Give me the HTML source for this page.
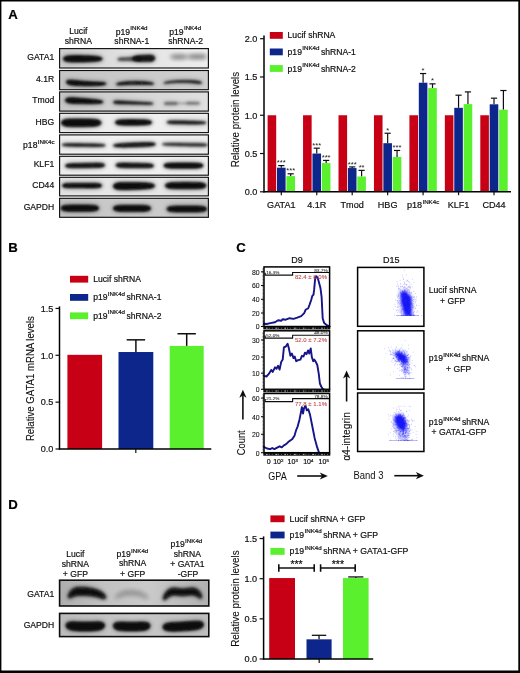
<!DOCTYPE html><html><head><meta charset="utf-8"><title>Figure</title>
<style>html,body{margin:0;padding:0;background:#fff}svg{display:block}</style></head><body>
<svg width="520" height="673" viewBox="0 0 520 673" font-family="Liberation Sans, Arial, Helvetica, sans-serif">
<defs>
<filter id="b1" filterUnits="userSpaceOnUse" x="40" y="30" width="200" height="630"><feGaussianBlur stdDeviation="1.15"/></filter>
<filter id="b2" filterUnits="userSpaceOnUse" x="40" y="30" width="200" height="630"><feGaussianBlur stdDeviation="1.9"/></filter>
<filter id="b15" filterUnits="userSpaceOnUse" x="40" y="560" width="200" height="100"><feGaussianBlur stdDeviation="1.45"/></filter>
<filter id="b3" filterUnits="userSpaceOnUse" x="0" y="0" width="520" height="673"><feGaussianBlur stdDeviation="0.6"/></filter>
<filter id="bs" filterUnits="userSpaceOnUse" x="340" y="250" width="100" height="220"><feGaussianBlur stdDeviation="1.0"/></filter>
<filter id="soft" filterUnits="userSpaceOnUse" x="-10" y="-10" width="540" height="693"><feGaussianBlur stdDeviation="0.38"/></filter>
</defs>
<rect x="-10.00" y="-10.00" width="540.00" height="693.00" fill="#fff" />
<g filter="url(#soft)">
<rect x="-10.00" y="-10.00" width="540.00" height="693.00" fill="#fff" />
<text x="8.30" y="18.80" font-size="13.2" text-anchor="start" font-weight="bold" fill="#000" stroke="#000" stroke-width="0.2" >A</text>
<text x="8.20" y="252.20" font-size="13.2" text-anchor="start" font-weight="bold" fill="#000" stroke="#000" stroke-width="0.2" >B</text>
<text x="236.20" y="252.20" font-size="13.2" text-anchor="start" font-weight="bold" fill="#000" stroke="#000" stroke-width="0.2" >C</text>
<text x="8.20" y="509.40" font-size="13.2" text-anchor="start" font-weight="bold" fill="#000" stroke="#000" stroke-width="0.2" >D</text>
<linearGradient id="g1" x1="0" x2="1" y1="0" y2="0"><stop offset="0" stop-color="#cdcdcd"/><stop offset="0.45" stop-color="#e2e2e2"/><stop offset="1" stop-color="#ececec"/></linearGradient>
<clipPath id="cg1"><rect x="59.6" y="48.6" width="148.8" height="19.4"/></clipPath>
<rect x="59.60" y="48.60" width="148.80" height="19.40" fill="url(#g1)" />
<g clip-path="url(#cg1)">
<path d="M63.2 58.80 L64.2 57.23 L65.2 56.69 L66.2 56.35 L67.2 56.11 L68.2 55.94 L69.2 55.82 L70.2 55.74 L71.2 55.68 L72.2 55.64 L73.3 55.61 L74.3 55.59 L75.3 55.58 L76.3 55.58 L77.3 55.58 L78.3 55.58 L79.3 55.59 L80.3 55.60 L81.3 55.62 L82.3 55.64 L83.3 55.66 L84.3 55.68 L85.3 55.71 L86.3 55.74 L87.3 55.77 L88.3 55.81 L89.3 55.85 L90.3 55.89 L91.3 55.94 L92.3 56.00 L93.4 56.07 L94.4 56.14 L95.4 56.24 L96.4 56.35 L97.4 56.49 L98.4 56.67 L99.4 56.90 L100.4 57.20 L101.4 57.63 L102.4 58.80 L102.4 58.80 L101.4 59.97 L100.4 60.40 L99.4 60.70 L98.4 60.93 L97.4 61.11 L96.4 61.25 L95.4 61.36 L94.4 61.46 L93.4 61.53 L92.3 61.60 L91.3 61.66 L90.3 61.71 L89.3 61.75 L88.3 61.79 L87.3 61.83 L86.3 61.86 L85.3 61.89 L84.3 61.92 L83.3 61.94 L82.3 61.96 L81.3 61.98 L80.3 62.00 L79.3 62.01 L78.3 62.02 L77.3 62.02 L76.3 62.02 L75.3 62.02 L74.3 62.01 L73.3 61.99 L72.2 61.96 L71.2 61.92 L70.2 61.86 L69.2 61.78 L68.2 61.66 L67.2 61.49 L66.2 61.25 L65.2 60.91 L64.2 60.37 L63.2 58.80Z" fill="#070707" stroke="#070707" stroke-width="2.6" stroke-linejoin="round" opacity="0.33" filter="url(#b2)"/>
<path d="M63.2 58.80 L64.2 57.23 L65.2 56.69 L66.2 56.35 L67.2 56.11 L68.2 55.94 L69.2 55.82 L70.2 55.74 L71.2 55.68 L72.2 55.64 L73.3 55.61 L74.3 55.59 L75.3 55.58 L76.3 55.58 L77.3 55.58 L78.3 55.58 L79.3 55.59 L80.3 55.60 L81.3 55.62 L82.3 55.64 L83.3 55.66 L84.3 55.68 L85.3 55.71 L86.3 55.74 L87.3 55.77 L88.3 55.81 L89.3 55.85 L90.3 55.89 L91.3 55.94 L92.3 56.00 L93.4 56.07 L94.4 56.14 L95.4 56.24 L96.4 56.35 L97.4 56.49 L98.4 56.67 L99.4 56.90 L100.4 57.20 L101.4 57.63 L102.4 58.80 L102.4 58.80 L101.4 59.97 L100.4 60.40 L99.4 60.70 L98.4 60.93 L97.4 61.11 L96.4 61.25 L95.4 61.36 L94.4 61.46 L93.4 61.53 L92.3 61.60 L91.3 61.66 L90.3 61.71 L89.3 61.75 L88.3 61.79 L87.3 61.83 L86.3 61.86 L85.3 61.89 L84.3 61.92 L83.3 61.94 L82.3 61.96 L81.3 61.98 L80.3 62.00 L79.3 62.01 L78.3 62.02 L77.3 62.02 L76.3 62.02 L75.3 62.02 L74.3 62.01 L73.3 61.99 L72.2 61.96 L71.2 61.92 L70.2 61.86 L69.2 61.78 L68.2 61.66 L67.2 61.49 L66.2 61.25 L65.2 60.91 L64.2 60.37 L63.2 58.80Z" fill="#070707" stroke="#070707" stroke-width="0.5" stroke-linejoin="round" opacity="1.00" filter="url(#b1)"/>
<path d="M117.6 59.30 L118.6 58.34 L119.6 58.03 L120.6 57.85 L121.7 57.73 L122.7 57.65 L123.7 57.59 L124.7 57.53 L125.7 57.49 L126.8 57.45 L127.8 57.41 L128.8 57.37 L129.8 57.33 L130.8 57.30 L131.8 57.27 L132.8 57.23 L133.9 57.20 L134.9 57.18 L135.9 57.16 L136.9 57.15 L137.9 57.17 L138.9 57.23 L140.0 57.37 L141.0 57.67 L142.0 58.80 L142.0 58.80 L141.0 59.97 L140.0 60.31 L138.9 60.49 L137.9 60.60 L136.9 60.66 L135.9 60.69 L134.9 60.72 L133.9 60.73 L132.8 60.74 L131.8 60.75 L130.8 60.76 L129.8 60.77 L128.8 60.77 L127.8 60.77 L126.8 60.78 L125.7 60.78 L124.7 60.77 L123.7 60.76 L122.7 60.74 L121.7 60.70 L120.6 60.62 L119.6 60.48 L118.6 60.22 L117.6 59.30Z" fill="#070707" stroke="#070707" stroke-width="2.6" stroke-linejoin="round" opacity="0.20" filter="url(#b2)"/>
<path d="M117.6 59.30 L118.6 58.34 L119.6 58.03 L120.6 57.85 L121.7 57.73 L122.7 57.65 L123.7 57.59 L124.7 57.53 L125.7 57.49 L126.8 57.45 L127.8 57.41 L128.8 57.37 L129.8 57.33 L130.8 57.30 L131.8 57.27 L132.8 57.23 L133.9 57.20 L134.9 57.18 L135.9 57.16 L136.9 57.15 L137.9 57.17 L138.9 57.23 L140.0 57.37 L141.0 57.67 L142.0 58.80 L142.0 58.80 L141.0 59.97 L140.0 60.31 L138.9 60.49 L137.9 60.60 L136.9 60.66 L135.9 60.69 L134.9 60.72 L133.9 60.73 L132.8 60.74 L131.8 60.75 L130.8 60.76 L129.8 60.77 L128.8 60.77 L127.8 60.77 L126.8 60.78 L125.7 60.78 L124.7 60.77 L123.7 60.76 L122.7 60.74 L121.7 60.70 L120.6 60.62 L119.6 60.48 L118.6 60.22 L117.6 59.30Z" fill="#070707" stroke="#070707" stroke-width="0.5" stroke-linejoin="round" opacity="0.62" filter="url(#b1)"/>
<path d="M132.5 58.60 L133.5 57.12 L134.5 56.59 L135.6 56.25 L136.6 56.01 L137.6 55.83 L138.6 55.69 L139.7 55.58 L140.7 55.48 L141.7 55.39 L142.7 55.31 L143.8 55.25 L144.8 55.19 L145.8 55.14 L146.8 55.10 L147.8 55.07 L148.9 55.06 L149.9 55.08 L150.9 55.15 L151.9 55.30 L153.0 55.59 L154.0 56.16 L155.0 58.20 L155.0 58.20 L154.0 60.28 L153.0 60.89 L151.9 61.21 L150.9 61.40 L149.9 61.50 L148.9 61.55 L147.8 61.58 L146.8 61.59 L145.8 61.59 L144.8 61.58 L143.8 61.56 L142.7 61.52 L141.7 61.48 L140.7 61.43 L139.7 61.37 L138.6 61.29 L137.6 61.18 L136.6 61.04 L135.6 60.84 L134.5 60.54 L133.5 60.05 L132.5 58.60Z" fill="#070707" stroke="#070707" stroke-width="2.6" stroke-linejoin="round" opacity="0.31" filter="url(#b2)"/>
<path d="M132.5 58.60 L133.5 57.12 L134.5 56.59 L135.6 56.25 L136.6 56.01 L137.6 55.83 L138.6 55.69 L139.7 55.58 L140.7 55.48 L141.7 55.39 L142.7 55.31 L143.8 55.25 L144.8 55.19 L145.8 55.14 L146.8 55.10 L147.8 55.07 L148.9 55.06 L149.9 55.08 L150.9 55.15 L151.9 55.30 L153.0 55.59 L154.0 56.16 L155.0 58.20 L155.0 58.20 L154.0 60.28 L153.0 60.89 L151.9 61.21 L150.9 61.40 L149.9 61.50 L148.9 61.55 L147.8 61.58 L146.8 61.59 L145.8 61.59 L144.8 61.58 L143.8 61.56 L142.7 61.52 L141.7 61.48 L140.7 61.43 L139.7 61.37 L138.6 61.29 L137.6 61.18 L136.6 61.04 L135.6 60.84 L134.5 60.54 L133.5 60.05 L132.5 58.60Z" fill="#070707" stroke="#070707" stroke-width="0.5" stroke-linejoin="round" opacity="0.95" filter="url(#b1)"/>
<path d="M170.0 56.80 L171.0 56.08 L172.0 55.87 L173.0 55.74 L174.0 55.67 L175.1 55.63 L176.1 55.61 L177.1 55.60 L178.1 55.60 L179.1 55.60 L180.1 55.61 L181.1 55.61 L182.1 55.62 L183.1 55.62 L184.2 55.62 L185.2 55.63 L186.2 55.63 L187.2 55.63 L188.2 55.62 L189.2 55.62 L190.2 55.62 L191.2 55.61 L192.2 55.60 L193.3 55.60 L194.3 55.59 L195.3 55.58 L196.3 55.57 L197.3 55.56 L198.3 55.55 L199.3 55.55 L200.3 55.55 L201.3 55.57 L202.4 55.61 L203.4 55.68 L204.4 55.81 L205.4 56.04 L206.4 56.80 L206.4 56.80 L205.4 57.56 L204.4 57.79 L203.4 57.92 L202.4 57.99 L201.3 58.03 L200.3 58.05 L199.3 58.05 L198.3 58.05 L197.3 58.04 L196.3 58.03 L195.3 58.02 L194.3 58.01 L193.3 58.00 L192.2 58.00 L191.2 57.99 L190.2 57.98 L189.2 57.98 L188.2 57.97 L187.2 57.97 L186.2 57.97 L185.2 57.97 L184.2 57.98 L183.1 57.98 L182.1 57.98 L181.1 57.99 L180.1 57.99 L179.1 58.00 L178.1 58.00 L177.1 58.00 L176.1 57.99 L175.1 57.97 L174.0 57.93 L173.0 57.86 L172.0 57.73 L171.0 57.52 L170.0 56.80Z" fill="#070707" stroke="#070707" stroke-width="2.6" stroke-linejoin="round" opacity="0.09" filter="url(#b2)"/>
<path d="M170.0 56.80 L171.0 56.08 L172.0 55.87 L173.0 55.74 L174.0 55.67 L175.1 55.63 L176.1 55.61 L177.1 55.60 L178.1 55.60 L179.1 55.60 L180.1 55.61 L181.1 55.61 L182.1 55.62 L183.1 55.62 L184.2 55.62 L185.2 55.63 L186.2 55.63 L187.2 55.63 L188.2 55.62 L189.2 55.62 L190.2 55.62 L191.2 55.61 L192.2 55.60 L193.3 55.60 L194.3 55.59 L195.3 55.58 L196.3 55.57 L197.3 55.56 L198.3 55.55 L199.3 55.55 L200.3 55.55 L201.3 55.57 L202.4 55.61 L203.4 55.68 L204.4 55.81 L205.4 56.04 L206.4 56.80 L206.4 56.80 L205.4 57.56 L204.4 57.79 L203.4 57.92 L202.4 57.99 L201.3 58.03 L200.3 58.05 L199.3 58.05 L198.3 58.05 L197.3 58.04 L196.3 58.03 L195.3 58.02 L194.3 58.01 L193.3 58.00 L192.2 58.00 L191.2 57.99 L190.2 57.98 L189.2 57.98 L188.2 57.97 L187.2 57.97 L186.2 57.97 L185.2 57.97 L184.2 57.98 L183.1 57.98 L182.1 57.98 L181.1 57.99 L180.1 57.99 L179.1 58.00 L178.1 58.00 L177.1 58.00 L176.1 57.99 L175.1 57.97 L174.0 57.93 L173.0 57.86 L172.0 57.73 L171.0 57.52 L170.0 56.80Z" fill="#070707" stroke="#070707" stroke-width="0.5" stroke-linejoin="round" opacity="0.26" filter="url(#b2)"/>
<path d="M172.5 57.00 L173.5 55.92 L174.6 55.70 L175.6 55.61 L176.7 55.58 L177.7 55.56 L178.8 55.55 L179.8 55.56 L180.8 55.58 L181.9 55.61 L182.9 55.70 L184.0 55.92 L185.0 57.00 L185.0 57.00 L184.0 58.08 L182.9 58.30 L181.9 58.39 L180.8 58.42 L179.8 58.44 L178.8 58.45 L177.7 58.44 L176.7 58.42 L175.6 58.39 L174.6 58.30 L173.5 58.08 L172.5 57.00Z" fill="#070707" stroke="#070707" stroke-width="2.6" stroke-linejoin="round" opacity="0.07" filter="url(#b2)"/>
<path d="M172.5 57.00 L173.5 55.92 L174.6 55.70 L175.6 55.61 L176.7 55.58 L177.7 55.56 L178.8 55.55 L179.8 55.56 L180.8 55.58 L181.9 55.61 L182.9 55.70 L184.0 55.92 L185.0 57.00 L185.0 57.00 L184.0 58.08 L182.9 58.30 L181.9 58.39 L180.8 58.42 L179.8 58.44 L178.8 58.45 L177.7 58.44 L176.7 58.42 L175.6 58.39 L174.6 58.30 L173.5 58.08 L172.5 57.00Z" fill="#070707" stroke="#070707" stroke-width="0.5" stroke-linejoin="round" opacity="0.20" filter="url(#b2)"/>
<path d="M190.0 56.60 L191.0 55.56 L192.0 55.30 L193.0 55.18 L194.0 55.12 L195.0 55.09 L196.0 55.08 L197.0 55.07 L198.0 55.07 L199.0 55.07 L200.0 55.08 L201.0 55.09 L202.0 55.12 L203.0 55.18 L204.0 55.30 L205.0 55.56 L206.0 56.60 L206.0 56.60 L205.0 57.64 L204.0 57.90 L203.0 58.02 L202.0 58.08 L201.0 58.11 L200.0 58.12 L199.0 58.13 L198.0 58.13 L197.0 58.13 L196.0 58.12 L195.0 58.11 L194.0 58.08 L193.0 58.02 L192.0 57.90 L191.0 57.64 L190.0 56.60Z" fill="#070707" stroke="#070707" stroke-width="2.6" stroke-linejoin="round" opacity="0.07" filter="url(#b2)"/>
<path d="M190.0 56.60 L191.0 55.56 L192.0 55.30 L193.0 55.18 L194.0 55.12 L195.0 55.09 L196.0 55.08 L197.0 55.07 L198.0 55.07 L199.0 55.07 L200.0 55.08 L201.0 55.09 L202.0 55.12 L203.0 55.18 L204.0 55.30 L205.0 55.56 L206.0 56.60 L206.0 56.60 L205.0 57.64 L204.0 57.90 L203.0 58.02 L202.0 58.08 L201.0 58.11 L200.0 58.12 L199.0 58.13 L198.0 58.13 L197.0 58.13 L196.0 58.12 L195.0 58.11 L194.0 58.08 L193.0 58.02 L192.0 57.90 L191.0 57.64 L190.0 56.60Z" fill="#070707" stroke="#070707" stroke-width="0.5" stroke-linejoin="round" opacity="0.22" filter="url(#b2)"/>
</g>
<rect x="59.6" y="48.6" width="148.8" height="19.4" fill="none" stroke="#101010" stroke-width="1.15"/>
<linearGradient id="g2" x1="0" x2="1" y1="0" y2="0"><stop offset="0" stop-color="#c4c4c4"/><stop offset="0.5" stop-color="#cacaca"/><stop offset="1" stop-color="#d0d0d0"/></linearGradient>
<clipPath id="cg2"><rect x="59.6" y="70.5" width="148.8" height="19.2"/></clipPath>
<rect x="59.60" y="70.50" width="148.80" height="19.20" fill="url(#g2)" />
<g clip-path="url(#cg2)">
<path d="M66.2 82.00 L67.2 80.70 L68.2 80.37 L69.2 80.23 L70.2 80.18 L71.2 80.19 L72.2 80.23 L73.2 80.31 L74.2 80.39 L75.2 80.49 L76.2 80.60 L77.2 80.70 L78.2 80.80 L79.2 80.91 L80.2 81.01 L81.2 81.10 L82.2 81.20 L83.2 81.28 L84.2 81.37 L85.2 81.45 L86.2 81.52 L87.2 81.60 L88.2 81.66 L89.2 81.73 L90.2 81.79 L91.2 81.84 L92.2 81.89 L93.2 81.94 L94.2 81.98 L95.2 82.03 L96.2 82.06 L97.2 82.10 L98.2 82.15 L99.2 82.19 L100.2 82.24 L101.2 82.30 L102.2 82.38 L103.2 82.49 L104.2 82.64 L105.2 82.88 L106.2 83.60 L106.2 83.60 L105.2 84.40 L104.2 84.70 L103.2 84.91 L102.2 85.07 L101.2 85.20 L100.2 85.29 L99.2 85.37 L98.2 85.44 L97.2 85.49 L96.2 85.54 L95.2 85.57 L94.2 85.60 L93.2 85.62 L92.2 85.64 L91.2 85.66 L90.2 85.67 L89.2 85.68 L88.2 85.68 L87.2 85.68 L86.2 85.67 L85.2 85.67 L84.2 85.65 L83.2 85.64 L82.2 85.62 L81.2 85.60 L80.2 85.57 L79.2 85.54 L78.2 85.50 L77.2 85.46 L76.2 85.40 L75.2 85.34 L74.2 85.27 L73.2 85.18 L72.2 85.06 L71.2 84.91 L70.2 84.72 L69.2 84.46 L68.2 84.09 L67.2 83.54 L66.2 82.00Z" fill="#070707" stroke="#070707" stroke-width="2.6" stroke-linejoin="round" opacity="0.33" filter="url(#b2)"/>
<path d="M66.2 82.00 L67.2 80.70 L68.2 80.37 L69.2 80.23 L70.2 80.18 L71.2 80.19 L72.2 80.23 L73.2 80.31 L74.2 80.39 L75.2 80.49 L76.2 80.60 L77.2 80.70 L78.2 80.80 L79.2 80.91 L80.2 81.01 L81.2 81.10 L82.2 81.20 L83.2 81.28 L84.2 81.37 L85.2 81.45 L86.2 81.52 L87.2 81.60 L88.2 81.66 L89.2 81.73 L90.2 81.79 L91.2 81.84 L92.2 81.89 L93.2 81.94 L94.2 81.98 L95.2 82.03 L96.2 82.06 L97.2 82.10 L98.2 82.15 L99.2 82.19 L100.2 82.24 L101.2 82.30 L102.2 82.38 L103.2 82.49 L104.2 82.64 L105.2 82.88 L106.2 83.60 L106.2 83.60 L105.2 84.40 L104.2 84.70 L103.2 84.91 L102.2 85.07 L101.2 85.20 L100.2 85.29 L99.2 85.37 L98.2 85.44 L97.2 85.49 L96.2 85.54 L95.2 85.57 L94.2 85.60 L93.2 85.62 L92.2 85.64 L91.2 85.66 L90.2 85.67 L89.2 85.68 L88.2 85.68 L87.2 85.68 L86.2 85.67 L85.2 85.67 L84.2 85.65 L83.2 85.64 L82.2 85.62 L81.2 85.60 L80.2 85.57 L79.2 85.54 L78.2 85.50 L77.2 85.46 L76.2 85.40 L75.2 85.34 L74.2 85.27 L73.2 85.18 L72.2 85.06 L71.2 84.91 L70.2 84.72 L69.2 84.46 L68.2 84.09 L67.2 83.54 L66.2 82.00Z" fill="#070707" stroke="#070707" stroke-width="0.5" stroke-linejoin="round" opacity="1.00" filter="url(#b1)"/>
<path d="M116.2 84.20 L117.2 83.38 L118.2 83.02 L119.2 82.75 L120.3 82.53 L121.3 82.34 L122.3 82.19 L123.3 82.05 L124.3 81.93 L125.3 81.83 L126.4 81.74 L127.4 81.66 L128.4 81.60 L129.4 81.54 L130.4 81.49 L131.4 81.45 L132.5 81.41 L133.5 81.39 L134.5 81.37 L135.5 81.36 L136.5 81.36 L137.5 81.37 L138.6 81.39 L139.6 81.41 L140.6 81.44 L141.6 81.49 L142.6 81.54 L143.6 81.60 L144.7 81.67 L145.7 81.76 L146.7 81.86 L147.7 81.97 L148.7 82.11 L149.7 82.27 L150.8 82.47 L151.8 82.72 L152.8 83.05 L153.8 83.80 L153.8 83.80 L152.8 84.34 L151.8 84.47 L150.8 84.54 L149.7 84.56 L148.7 84.57 L147.7 84.56 L146.7 84.55 L145.7 84.53 L144.7 84.50 L143.6 84.48 L142.6 84.46 L141.6 84.44 L140.6 84.43 L139.6 84.42 L138.6 84.42 L137.5 84.42 L136.5 84.42 L135.5 84.43 L134.5 84.44 L133.5 84.46 L132.5 84.48 L131.4 84.51 L130.4 84.54 L129.4 84.58 L128.4 84.62 L127.4 84.66 L126.4 84.71 L125.3 84.75 L124.3 84.80 L123.3 84.85 L122.3 84.89 L121.3 84.92 L120.3 84.94 L119.2 84.93 L118.2 84.89 L117.2 84.76 L116.2 84.20Z" fill="#070707" stroke="#070707" stroke-width="2.6" stroke-linejoin="round" opacity="0.30" filter="url(#b2)"/>
<path d="M116.2 84.20 L117.2 83.38 L118.2 83.02 L119.2 82.75 L120.3 82.53 L121.3 82.34 L122.3 82.19 L123.3 82.05 L124.3 81.93 L125.3 81.83 L126.4 81.74 L127.4 81.66 L128.4 81.60 L129.4 81.54 L130.4 81.49 L131.4 81.45 L132.5 81.41 L133.5 81.39 L134.5 81.37 L135.5 81.36 L136.5 81.36 L137.5 81.37 L138.6 81.39 L139.6 81.41 L140.6 81.44 L141.6 81.49 L142.6 81.54 L143.6 81.60 L144.7 81.67 L145.7 81.76 L146.7 81.86 L147.7 81.97 L148.7 82.11 L149.7 82.27 L150.8 82.47 L151.8 82.72 L152.8 83.05 L153.8 83.80 L153.8 83.80 L152.8 84.34 L151.8 84.47 L150.8 84.54 L149.7 84.56 L148.7 84.57 L147.7 84.56 L146.7 84.55 L145.7 84.53 L144.7 84.50 L143.6 84.48 L142.6 84.46 L141.6 84.44 L140.6 84.43 L139.6 84.42 L138.6 84.42 L137.5 84.42 L136.5 84.42 L135.5 84.43 L134.5 84.44 L133.5 84.46 L132.5 84.48 L131.4 84.51 L130.4 84.54 L129.4 84.58 L128.4 84.62 L127.4 84.66 L126.4 84.71 L125.3 84.75 L124.3 84.80 L123.3 84.85 L122.3 84.89 L121.3 84.92 L120.3 84.94 L119.2 84.93 L118.2 84.89 L117.2 84.76 L116.2 84.20Z" fill="#070707" stroke="#070707" stroke-width="0.5" stroke-linejoin="round" opacity="0.92" filter="url(#b1)"/>
<path d="M163.8 83.00 L164.8 82.41 L165.8 82.12 L166.8 81.89 L167.8 81.69 L168.8 81.52 L169.8 81.37 L170.8 81.24 L171.8 81.12 L172.8 81.01 L173.8 80.91 L174.8 80.82 L175.8 80.74 L176.8 80.67 L177.8 80.61 L178.8 80.55 L179.8 80.50 L180.8 80.46 L181.8 80.43 L182.8 80.41 L183.8 80.39 L184.8 80.38 L185.8 80.37 L186.8 80.38 L187.8 80.39 L188.8 80.41 L189.8 80.44 L190.8 80.48 L191.8 80.52 L192.8 80.58 L193.8 80.65 L194.8 80.73 L195.8 80.83 L196.8 80.95 L197.8 81.10 L198.8 81.29 L199.8 81.54 L200.8 81.91 L201.8 82.80 L201.8 82.80 L200.8 83.40 L199.8 83.48 L198.8 83.47 L197.8 83.41 L196.8 83.33 L195.8 83.24 L194.8 83.14 L193.8 83.04 L192.8 82.95 L191.8 82.86 L190.8 82.77 L189.8 82.69 L188.8 82.63 L187.8 82.56 L186.8 82.51 L185.8 82.47 L184.8 82.44 L183.8 82.41 L182.8 82.40 L181.8 82.39 L180.8 82.39 L179.8 82.40 L178.8 82.42 L177.8 82.45 L176.8 82.49 L175.8 82.54 L174.8 82.59 L173.8 82.66 L172.8 82.73 L171.8 82.80 L170.8 82.88 L169.8 82.97 L168.8 83.05 L167.8 83.14 L166.8 83.21 L165.8 83.26 L164.8 83.27 L163.8 83.00Z" fill="#070707" stroke="#070707" stroke-width="2.6" stroke-linejoin="round" opacity="0.28" filter="url(#b2)"/>
<path d="M163.8 83.00 L164.8 82.41 L165.8 82.12 L166.8 81.89 L167.8 81.69 L168.8 81.52 L169.8 81.37 L170.8 81.24 L171.8 81.12 L172.8 81.01 L173.8 80.91 L174.8 80.82 L175.8 80.74 L176.8 80.67 L177.8 80.61 L178.8 80.55 L179.8 80.50 L180.8 80.46 L181.8 80.43 L182.8 80.41 L183.8 80.39 L184.8 80.38 L185.8 80.37 L186.8 80.38 L187.8 80.39 L188.8 80.41 L189.8 80.44 L190.8 80.48 L191.8 80.52 L192.8 80.58 L193.8 80.65 L194.8 80.73 L195.8 80.83 L196.8 80.95 L197.8 81.10 L198.8 81.29 L199.8 81.54 L200.8 81.91 L201.8 82.80 L201.8 82.80 L200.8 83.40 L199.8 83.48 L198.8 83.47 L197.8 83.41 L196.8 83.33 L195.8 83.24 L194.8 83.14 L193.8 83.04 L192.8 82.95 L191.8 82.86 L190.8 82.77 L189.8 82.69 L188.8 82.63 L187.8 82.56 L186.8 82.51 L185.8 82.47 L184.8 82.44 L183.8 82.41 L182.8 82.40 L181.8 82.39 L180.8 82.39 L179.8 82.40 L178.8 82.42 L177.8 82.45 L176.8 82.49 L175.8 82.54 L174.8 82.59 L173.8 82.66 L172.8 82.73 L171.8 82.80 L170.8 82.88 L169.8 82.97 L168.8 83.05 L167.8 83.14 L166.8 83.21 L165.8 83.26 L164.8 83.27 L163.8 83.00Z" fill="#070707" stroke="#070707" stroke-width="0.5" stroke-linejoin="round" opacity="0.85" filter="url(#b1)"/>
</g>
<rect x="59.6" y="70.5" width="148.8" height="19.2" fill="none" stroke="#101010" stroke-width="1.15"/>
<linearGradient id="g3" x1="0" x2="1" y1="0" y2="0"><stop offset="0" stop-color="#c7c7c7"/><stop offset="0.5" stop-color="#d4d4d4"/><stop offset="1" stop-color="#e0e0e0"/></linearGradient>
<clipPath id="cg3"><rect x="59.6" y="91.9" width="148.8" height="19.2"/></clipPath>
<rect x="59.60" y="91.90" width="148.80" height="19.20" fill="url(#g3)" />
<g clip-path="url(#cg3)">
<path d="M65.2 100.20 L66.2 98.69 L67.2 98.23 L68.2 97.98 L69.2 97.84 L70.2 97.77 L71.2 97.75 L72.2 97.75 L73.2 97.78 L74.2 97.83 L75.2 97.88 L76.2 97.95 L77.2 98.02 L78.2 98.09 L79.2 98.17 L80.2 98.25 L81.2 98.33 L82.2 98.41 L83.2 98.49 L84.2 98.57 L85.2 98.66 L86.2 98.75 L87.2 98.84 L88.2 98.93 L89.2 99.02 L90.2 99.11 L91.2 99.21 L92.2 99.31 L93.2 99.41 L94.2 99.52 L95.2 99.64 L96.2 99.77 L97.2 99.91 L98.2 100.07 L99.2 100.25 L100.2 100.47 L101.2 100.74 L102.2 101.11 L103.2 102.00 L103.2 102.00 L102.2 102.80 L101.2 103.07 L100.2 103.24 L99.2 103.37 L98.2 103.46 L97.2 103.52 L96.2 103.57 L95.2 103.60 L94.2 103.62 L93.2 103.64 L92.2 103.65 L91.2 103.65 L90.2 103.65 L89.2 103.65 L88.2 103.65 L87.2 103.65 L86.2 103.64 L85.2 103.63 L84.2 103.62 L83.2 103.61 L82.2 103.60 L81.2 103.59 L80.2 103.58 L79.2 103.56 L78.2 103.54 L77.2 103.52 L76.2 103.49 L75.2 103.46 L74.2 103.43 L73.2 103.38 L72.2 103.31 L71.2 103.22 L70.2 103.10 L69.2 102.94 L68.2 102.70 L67.2 102.36 L66.2 101.81 L65.2 100.20Z" fill="#070707" stroke="#070707" stroke-width="2.6" stroke-linejoin="round" opacity="0.33" filter="url(#b2)"/>
<path d="M65.2 100.20 L66.2 98.69 L67.2 98.23 L68.2 97.98 L69.2 97.84 L70.2 97.77 L71.2 97.75 L72.2 97.75 L73.2 97.78 L74.2 97.83 L75.2 97.88 L76.2 97.95 L77.2 98.02 L78.2 98.09 L79.2 98.17 L80.2 98.25 L81.2 98.33 L82.2 98.41 L83.2 98.49 L84.2 98.57 L85.2 98.66 L86.2 98.75 L87.2 98.84 L88.2 98.93 L89.2 99.02 L90.2 99.11 L91.2 99.21 L92.2 99.31 L93.2 99.41 L94.2 99.52 L95.2 99.64 L96.2 99.77 L97.2 99.91 L98.2 100.07 L99.2 100.25 L100.2 100.47 L101.2 100.74 L102.2 101.11 L103.2 102.00 L103.2 102.00 L102.2 102.80 L101.2 103.07 L100.2 103.24 L99.2 103.37 L98.2 103.46 L97.2 103.52 L96.2 103.57 L95.2 103.60 L94.2 103.62 L93.2 103.64 L92.2 103.65 L91.2 103.65 L90.2 103.65 L89.2 103.65 L88.2 103.65 L87.2 103.65 L86.2 103.64 L85.2 103.63 L84.2 103.62 L83.2 103.61 L82.2 103.60 L81.2 103.59 L80.2 103.58 L79.2 103.56 L78.2 103.54 L77.2 103.52 L76.2 103.49 L75.2 103.46 L74.2 103.43 L73.2 103.38 L72.2 103.31 L71.2 103.22 L70.2 103.10 L69.2 102.94 L68.2 102.70 L67.2 102.36 L66.2 101.81 L65.2 100.20Z" fill="#070707" stroke="#070707" stroke-width="0.5" stroke-linejoin="round" opacity="1.00" filter="url(#b1)"/>
<path d="M113.2 102.20 L114.2 101.27 L115.3 101.02 L116.3 100.90 L117.3 100.85 L118.3 100.84 L119.4 100.86 L120.4 100.89 L121.4 100.94 L122.4 100.99 L123.5 101.05 L124.5 101.12 L125.5 101.18 L126.5 101.24 L127.6 101.31 L128.6 101.37 L129.6 101.43 L130.6 101.49 L131.7 101.55 L132.7 101.61 L133.7 101.66 L134.7 101.72 L135.8 101.77 L136.8 101.83 L137.8 101.88 L138.8 101.93 L139.9 101.98 L140.9 102.03 L141.9 102.08 L142.9 102.13 L144.0 102.18 L145.0 102.23 L146.0 102.29 L147.0 102.35 L148.1 102.43 L149.1 102.52 L150.1 102.63 L151.1 102.78 L152.2 103.00 L153.2 103.60 L153.2 103.60 L152.2 104.13 L151.1 104.28 L150.1 104.35 L149.1 104.39 L148.1 104.41 L147.0 104.42 L146.0 104.41 L145.0 104.39 L144.0 104.38 L142.9 104.35 L141.9 104.33 L140.9 104.31 L139.9 104.29 L138.8 104.27 L137.8 104.24 L136.8 104.23 L135.8 104.21 L134.7 104.19 L133.7 104.17 L132.7 104.16 L131.7 104.14 L130.6 104.13 L129.6 104.12 L128.6 104.11 L127.6 104.10 L126.5 104.09 L125.5 104.08 L124.5 104.07 L123.5 104.06 L122.4 104.05 L121.4 104.04 L120.4 104.01 L119.4 103.97 L118.3 103.92 L117.3 103.84 L116.3 103.71 L115.3 103.52 L114.2 103.20 L113.2 102.20Z" fill="#070707" stroke="#070707" stroke-width="2.6" stroke-linejoin="round" opacity="0.28" filter="url(#b2)"/>
<path d="M113.2 102.20 L114.2 101.27 L115.3 101.02 L116.3 100.90 L117.3 100.85 L118.3 100.84 L119.4 100.86 L120.4 100.89 L121.4 100.94 L122.4 100.99 L123.5 101.05 L124.5 101.12 L125.5 101.18 L126.5 101.24 L127.6 101.31 L128.6 101.37 L129.6 101.43 L130.6 101.49 L131.7 101.55 L132.7 101.61 L133.7 101.66 L134.7 101.72 L135.8 101.77 L136.8 101.83 L137.8 101.88 L138.8 101.93 L139.9 101.98 L140.9 102.03 L141.9 102.08 L142.9 102.13 L144.0 102.18 L145.0 102.23 L146.0 102.29 L147.0 102.35 L148.1 102.43 L149.1 102.52 L150.1 102.63 L151.1 102.78 L152.2 103.00 L153.2 103.60 L153.2 103.60 L152.2 104.13 L151.1 104.28 L150.1 104.35 L149.1 104.39 L148.1 104.41 L147.0 104.42 L146.0 104.41 L145.0 104.39 L144.0 104.38 L142.9 104.35 L141.9 104.33 L140.9 104.31 L139.9 104.29 L138.8 104.27 L137.8 104.24 L136.8 104.23 L135.8 104.21 L134.7 104.19 L133.7 104.17 L132.7 104.16 L131.7 104.14 L130.6 104.13 L129.6 104.12 L128.6 104.11 L127.6 104.10 L126.5 104.09 L125.5 104.08 L124.5 104.07 L123.5 104.06 L122.4 104.05 L121.4 104.04 L120.4 104.01 L119.4 103.97 L118.3 103.92 L117.3 103.84 L116.3 103.71 L115.3 103.52 L114.2 103.20 L113.2 102.20Z" fill="#070707" stroke="#070707" stroke-width="0.5" stroke-linejoin="round" opacity="0.85" filter="url(#b1)"/>
<path d="M164.0 103.40 L165.0 103.11 L166.0 103.01 L167.0 102.96 L168.0 102.92 L169.0 102.90 L170.0 102.88 L171.0 102.87 L172.0 102.86 L173.0 102.86 L174.0 102.86 L175.0 102.86 L176.0 102.86 L177.0 102.86 L178.0 102.86 L179.0 102.86 L180.0 102.86 L181.0 102.86 L182.0 102.86 L183.0 102.86 L184.0 102.86 L185.0 102.86 L186.0 102.86 L187.0 102.86 L188.0 102.86 L189.0 102.86 L190.0 102.86 L191.0 102.86 L192.0 102.86 L193.0 102.87 L194.0 102.88 L195.0 102.90 L196.0 102.92 L197.0 102.96 L198.0 103.01 L199.0 103.11 L200.0 103.40 L200.0 103.40 L199.0 103.69 L198.0 103.79 L197.0 103.84 L196.0 103.88 L195.0 103.90 L194.0 103.92 L193.0 103.93 L192.0 103.94 L191.0 103.94 L190.0 103.94 L189.0 103.94 L188.0 103.94 L187.0 103.94 L186.0 103.94 L185.0 103.94 L184.0 103.94 L183.0 103.94 L182.0 103.95 L181.0 103.94 L180.0 103.94 L179.0 103.94 L178.0 103.94 L177.0 103.94 L176.0 103.94 L175.0 103.94 L174.0 103.94 L173.0 103.94 L172.0 103.94 L171.0 103.93 L170.0 103.92 L169.0 103.90 L168.0 103.88 L167.0 103.84 L166.0 103.79 L165.0 103.69 L164.0 103.40Z" fill="#070707" stroke="#070707" stroke-width="2.6" stroke-linejoin="round" opacity="0.07" filter="url(#b2)"/>
<path d="M164.0 103.40 L165.0 103.11 L166.0 103.01 L167.0 102.96 L168.0 102.92 L169.0 102.90 L170.0 102.88 L171.0 102.87 L172.0 102.86 L173.0 102.86 L174.0 102.86 L175.0 102.86 L176.0 102.86 L177.0 102.86 L178.0 102.86 L179.0 102.86 L180.0 102.86 L181.0 102.86 L182.0 102.86 L183.0 102.86 L184.0 102.86 L185.0 102.86 L186.0 102.86 L187.0 102.86 L188.0 102.86 L189.0 102.86 L190.0 102.86 L191.0 102.86 L192.0 102.86 L193.0 102.87 L194.0 102.88 L195.0 102.90 L196.0 102.92 L197.0 102.96 L198.0 103.01 L199.0 103.11 L200.0 103.40 L200.0 103.40 L199.0 103.69 L198.0 103.79 L197.0 103.84 L196.0 103.88 L195.0 103.90 L194.0 103.92 L193.0 103.93 L192.0 103.94 L191.0 103.94 L190.0 103.94 L189.0 103.94 L188.0 103.94 L187.0 103.94 L186.0 103.94 L185.0 103.94 L184.0 103.94 L183.0 103.94 L182.0 103.95 L181.0 103.94 L180.0 103.94 L179.0 103.94 L178.0 103.94 L177.0 103.94 L176.0 103.94 L175.0 103.94 L174.0 103.94 L173.0 103.94 L172.0 103.94 L171.0 103.93 L170.0 103.92 L169.0 103.90 L168.0 103.88 L167.0 103.84 L166.0 103.79 L165.0 103.69 L164.0 103.40Z" fill="#070707" stroke="#070707" stroke-width="0.5" stroke-linejoin="round" opacity="0.22" filter="url(#b1)"/>
<path d="M164.2 103.50 L165.2 102.54 L166.2 102.35 L167.3 102.28 L168.3 102.25 L169.3 102.24 L170.3 102.24 L171.4 102.24 L172.4 102.24 L173.4 102.25 L174.4 102.28 L175.5 102.35 L176.5 102.54 L177.5 103.50 L177.5 103.50 L176.5 104.46 L175.5 104.65 L174.4 104.72 L173.4 104.75 L172.4 104.76 L171.4 104.76 L170.3 104.76 L169.3 104.76 L168.3 104.75 L167.3 104.72 L166.2 104.65 L165.2 104.46 L164.2 103.50Z" fill="#070707" stroke="#070707" stroke-width="2.6" stroke-linejoin="round" opacity="0.12" filter="url(#b2)"/>
<path d="M164.2 103.50 L165.2 102.54 L166.2 102.35 L167.3 102.28 L168.3 102.25 L169.3 102.24 L170.3 102.24 L171.4 102.24 L172.4 102.24 L173.4 102.25 L174.4 102.28 L175.5 102.35 L176.5 102.54 L177.5 103.50 L177.5 103.50 L176.5 104.46 L175.5 104.65 L174.4 104.72 L173.4 104.75 L172.4 104.76 L171.4 104.76 L170.3 104.76 L169.3 104.76 L168.3 104.75 L167.3 104.72 L166.2 104.65 L165.2 104.46 L164.2 103.50Z" fill="#070707" stroke="#070707" stroke-width="0.5" stroke-linejoin="round" opacity="0.36" filter="url(#b1)"/>
<path d="M186.0 103.20 L187.1 102.32 L188.1 102.13 L189.2 102.07 L190.2 102.04 L191.3 102.03 L192.4 102.03 L193.4 102.03 L194.5 102.03 L195.6 102.04 L196.6 102.07 L197.7 102.13 L198.7 102.32 L199.8 103.20 L199.8 103.20 L198.7 104.08 L197.7 104.27 L196.6 104.33 L195.6 104.36 L194.5 104.37 L193.4 104.37 L192.4 104.37 L191.3 104.37 L190.2 104.36 L189.2 104.33 L188.1 104.27 L187.1 104.08 L186.0 103.20Z" fill="#070707" stroke="#070707" stroke-width="2.6" stroke-linejoin="round" opacity="0.09" filter="url(#b2)"/>
<path d="M186.0 103.20 L187.1 102.32 L188.1 102.13 L189.2 102.07 L190.2 102.04 L191.3 102.03 L192.4 102.03 L193.4 102.03 L194.5 102.03 L195.6 102.04 L196.6 102.07 L197.7 102.13 L198.7 102.32 L199.8 103.20 L199.8 103.20 L198.7 104.08 L197.7 104.27 L196.6 104.33 L195.6 104.36 L194.5 104.37 L193.4 104.37 L192.4 104.37 L191.3 104.37 L190.2 104.36 L189.2 104.33 L188.1 104.27 L187.1 104.08 L186.0 103.20Z" fill="#070707" stroke="#070707" stroke-width="0.5" stroke-linejoin="round" opacity="0.28" filter="url(#b1)"/>
</g>
<rect x="59.6" y="91.9" width="148.8" height="19.2" fill="none" stroke="#101010" stroke-width="1.15"/>
<linearGradient id="g4" x1="0" x2="1" y1="0" y2="0"><stop offset="0" stop-color="#e7e7e7"/><stop offset="0.5" stop-color="#f0f0f0"/><stop offset="1" stop-color="#ececec"/></linearGradient>
<clipPath id="cg4"><rect x="59.6" y="113.3" width="148.8" height="19.3"/></clipPath>
<rect x="59.60" y="113.30" width="148.80" height="19.30" fill="url(#g4)" />
<g clip-path="url(#cg4)">
<path d="M61.2 122.80 L62.2 120.89 L63.2 120.24 L64.2 119.83 L65.2 119.55 L66.2 119.36 L67.2 119.22 L68.2 119.12 L69.2 119.05 L70.2 119.00 L71.2 118.97 L72.2 118.94 L73.2 118.93 L74.2 118.92 L75.2 118.91 L76.2 118.91 L77.2 118.91 L78.2 118.91 L79.2 118.91 L80.2 118.92 L81.2 118.92 L82.2 118.93 L83.2 118.94 L84.2 118.95 L85.2 118.96 L86.2 118.98 L87.2 119.00 L88.2 119.01 L89.2 119.04 L90.2 119.07 L91.2 119.10 L92.2 119.15 L93.2 119.21 L94.2 119.29 L95.2 119.39 L96.2 119.54 L97.2 119.74 L98.2 120.01 L99.2 120.41 L100.2 121.02 L101.2 122.80 L101.2 122.80 L100.2 124.58 L99.2 125.19 L98.2 125.59 L97.2 125.86 L96.2 126.06 L95.2 126.21 L94.2 126.31 L93.2 126.39 L92.2 126.45 L91.2 126.50 L90.2 126.53 L89.2 126.56 L88.2 126.59 L87.2 126.60 L86.2 126.62 L85.2 126.64 L84.2 126.65 L83.2 126.66 L82.2 126.67 L81.2 126.67 L80.2 126.68 L79.2 126.69 L78.2 126.69 L77.2 126.69 L76.2 126.69 L75.2 126.69 L74.2 126.68 L73.2 126.67 L72.2 126.66 L71.2 126.63 L70.2 126.60 L69.2 126.55 L68.2 126.48 L67.2 126.38 L66.2 126.24 L65.2 126.05 L64.2 125.77 L63.2 125.36 L62.2 124.71 L61.2 122.80Z" fill="#070707" stroke="#070707" stroke-width="2.6" stroke-linejoin="round" opacity="0.33" filter="url(#b2)"/>
<path d="M61.2 122.80 L62.2 120.89 L63.2 120.24 L64.2 119.83 L65.2 119.55 L66.2 119.36 L67.2 119.22 L68.2 119.12 L69.2 119.05 L70.2 119.00 L71.2 118.97 L72.2 118.94 L73.2 118.93 L74.2 118.92 L75.2 118.91 L76.2 118.91 L77.2 118.91 L78.2 118.91 L79.2 118.91 L80.2 118.92 L81.2 118.92 L82.2 118.93 L83.2 118.94 L84.2 118.95 L85.2 118.96 L86.2 118.98 L87.2 119.00 L88.2 119.01 L89.2 119.04 L90.2 119.07 L91.2 119.10 L92.2 119.15 L93.2 119.21 L94.2 119.29 L95.2 119.39 L96.2 119.54 L97.2 119.74 L98.2 120.01 L99.2 120.41 L100.2 121.02 L101.2 122.80 L101.2 122.80 L100.2 124.58 L99.2 125.19 L98.2 125.59 L97.2 125.86 L96.2 126.06 L95.2 126.21 L94.2 126.31 L93.2 126.39 L92.2 126.45 L91.2 126.50 L90.2 126.53 L89.2 126.56 L88.2 126.59 L87.2 126.60 L86.2 126.62 L85.2 126.64 L84.2 126.65 L83.2 126.66 L82.2 126.67 L81.2 126.67 L80.2 126.68 L79.2 126.69 L78.2 126.69 L77.2 126.69 L76.2 126.69 L75.2 126.69 L74.2 126.68 L73.2 126.67 L72.2 126.66 L71.2 126.63 L70.2 126.60 L69.2 126.55 L68.2 126.48 L67.2 126.38 L66.2 126.24 L65.2 126.05 L64.2 125.77 L63.2 125.36 L62.2 124.71 L61.2 122.80Z" fill="#070707" stroke="#070707" stroke-width="0.5" stroke-linejoin="round" opacity="1.00" filter="url(#b1)"/>
<path d="M115.2 122.40 L116.2 121.02 L117.2 120.56 L118.2 120.26 L119.3 120.06 L120.3 119.92 L121.3 119.83 L122.3 119.76 L123.3 119.71 L124.4 119.67 L125.4 119.65 L126.4 119.63 L127.4 119.62 L128.4 119.61 L129.4 119.60 L130.5 119.60 L131.5 119.60 L132.5 119.60 L133.5 119.61 L134.5 119.61 L135.5 119.62 L136.6 119.63 L137.6 119.64 L138.6 119.66 L139.6 119.68 L140.6 119.70 L141.6 119.73 L142.7 119.76 L143.7 119.81 L144.7 119.86 L145.7 119.94 L146.7 120.05 L147.7 120.19 L148.8 120.39 L149.8 120.67 L150.8 121.11 L151.8 122.40 L151.8 122.40 L150.8 123.69 L149.8 124.13 L148.8 124.41 L147.7 124.61 L146.7 124.75 L145.7 124.86 L144.7 124.94 L143.7 124.99 L142.7 125.04 L141.6 125.07 L140.6 125.10 L139.6 125.12 L138.6 125.14 L137.6 125.16 L136.6 125.17 L135.5 125.18 L134.5 125.19 L133.5 125.20 L132.5 125.20 L131.5 125.20 L130.5 125.20 L129.4 125.20 L128.4 125.19 L127.4 125.18 L126.4 125.17 L125.4 125.15 L124.4 125.13 L123.3 125.09 L122.3 125.04 L121.3 124.97 L120.3 124.88 L119.3 124.74 L118.2 124.54 L117.2 124.24 L116.2 123.78 L115.2 122.40Z" fill="#070707" stroke="#070707" stroke-width="2.6" stroke-linejoin="round" opacity="0.33" filter="url(#b2)"/>
<path d="M115.2 122.40 L116.2 121.02 L117.2 120.56 L118.2 120.26 L119.3 120.06 L120.3 119.92 L121.3 119.83 L122.3 119.76 L123.3 119.71 L124.4 119.67 L125.4 119.65 L126.4 119.63 L127.4 119.62 L128.4 119.61 L129.4 119.60 L130.5 119.60 L131.5 119.60 L132.5 119.60 L133.5 119.61 L134.5 119.61 L135.5 119.62 L136.6 119.63 L137.6 119.64 L138.6 119.66 L139.6 119.68 L140.6 119.70 L141.6 119.73 L142.7 119.76 L143.7 119.81 L144.7 119.86 L145.7 119.94 L146.7 120.05 L147.7 120.19 L148.8 120.39 L149.8 120.67 L150.8 121.11 L151.8 122.40 L151.8 122.40 L150.8 123.69 L149.8 124.13 L148.8 124.41 L147.7 124.61 L146.7 124.75 L145.7 124.86 L144.7 124.94 L143.7 124.99 L142.7 125.04 L141.6 125.07 L140.6 125.10 L139.6 125.12 L138.6 125.14 L137.6 125.16 L136.6 125.17 L135.5 125.18 L134.5 125.19 L133.5 125.20 L132.5 125.20 L131.5 125.20 L130.5 125.20 L129.4 125.20 L128.4 125.19 L127.4 125.18 L126.4 125.17 L125.4 125.15 L124.4 125.13 L123.3 125.09 L122.3 125.04 L121.3 124.97 L120.3 124.88 L119.3 124.74 L118.2 124.54 L117.2 124.24 L116.2 123.78 L115.2 122.40Z" fill="#070707" stroke="#070707" stroke-width="0.5" stroke-linejoin="round" opacity="1.00" filter="url(#b1)"/>
<path d="M166.8 122.20 L167.8 121.32 L168.8 121.05 L169.8 120.88 L170.8 120.78 L171.9 120.72 L172.9 120.68 L173.9 120.66 L174.9 120.66 L175.9 120.66 L176.9 120.67 L177.9 120.69 L178.9 120.71 L179.9 120.73 L180.9 120.75 L182.0 120.77 L183.0 120.79 L184.0 120.81 L185.0 120.84 L186.0 120.86 L187.0 120.89 L188.0 120.91 L189.0 120.94 L190.0 120.96 L191.0 120.99 L192.1 121.02 L193.1 121.05 L194.1 121.08 L195.1 121.11 L196.1 121.14 L197.1 121.18 L198.1 121.22 L199.1 121.27 L200.1 121.33 L201.1 121.41 L202.2 121.51 L203.2 121.63 L204.2 121.81 L205.2 122.07 L206.2 122.80 L206.2 122.80 L205.2 123.50 L204.2 123.73 L203.2 123.87 L202.2 123.97 L201.1 124.04 L200.1 124.08 L199.1 124.11 L198.1 124.13 L197.1 124.15 L196.1 124.15 L195.1 124.15 L194.1 124.16 L193.1 124.15 L192.1 124.15 L191.0 124.15 L190.0 124.14 L189.0 124.14 L188.0 124.13 L187.0 124.13 L186.0 124.12 L185.0 124.12 L184.0 124.11 L183.0 124.10 L182.0 124.09 L180.9 124.08 L179.9 124.07 L178.9 124.06 L177.9 124.05 L176.9 124.03 L175.9 124.01 L174.9 123.99 L173.9 123.95 L172.9 123.90 L171.9 123.83 L170.8 123.74 L169.8 123.61 L168.8 123.42 L167.8 123.11 L166.8 122.20Z" fill="#070707" stroke="#070707" stroke-width="2.6" stroke-linejoin="round" opacity="0.28" filter="url(#b2)"/>
<path d="M166.8 122.20 L167.8 121.32 L168.8 121.05 L169.8 120.88 L170.8 120.78 L171.9 120.72 L172.9 120.68 L173.9 120.66 L174.9 120.66 L175.9 120.66 L176.9 120.67 L177.9 120.69 L178.9 120.71 L179.9 120.73 L180.9 120.75 L182.0 120.77 L183.0 120.79 L184.0 120.81 L185.0 120.84 L186.0 120.86 L187.0 120.89 L188.0 120.91 L189.0 120.94 L190.0 120.96 L191.0 120.99 L192.1 121.02 L193.1 121.05 L194.1 121.08 L195.1 121.11 L196.1 121.14 L197.1 121.18 L198.1 121.22 L199.1 121.27 L200.1 121.33 L201.1 121.41 L202.2 121.51 L203.2 121.63 L204.2 121.81 L205.2 122.07 L206.2 122.80 L206.2 122.80 L205.2 123.50 L204.2 123.73 L203.2 123.87 L202.2 123.97 L201.1 124.04 L200.1 124.08 L199.1 124.11 L198.1 124.13 L197.1 124.15 L196.1 124.15 L195.1 124.15 L194.1 124.16 L193.1 124.15 L192.1 124.15 L191.0 124.15 L190.0 124.14 L189.0 124.14 L188.0 124.13 L187.0 124.13 L186.0 124.12 L185.0 124.12 L184.0 124.11 L183.0 124.10 L182.0 124.09 L180.9 124.08 L179.9 124.07 L178.9 124.06 L177.9 124.05 L176.9 124.03 L175.9 124.01 L174.9 123.99 L173.9 123.95 L172.9 123.90 L171.9 123.83 L170.8 123.74 L169.8 123.61 L168.8 123.42 L167.8 123.11 L166.8 122.20Z" fill="#070707" stroke="#070707" stroke-width="0.5" stroke-linejoin="round" opacity="0.85" filter="url(#b1)"/>
</g>
<rect x="59.6" y="113.3" width="148.8" height="19.3" fill="none" stroke="#101010" stroke-width="1.15"/>
<linearGradient id="g5" x1="0" x2="1" y1="0" y2="0"><stop offset="0" stop-color="#eeeeee"/><stop offset="0.5" stop-color="#f2f2f2"/><stop offset="1" stop-color="#eeeeee"/></linearGradient>
<clipPath id="cg5"><rect x="59.6" y="134.9" width="148.8" height="19.3"/></clipPath>
<rect x="59.60" y="134.90" width="148.80" height="19.30" fill="url(#g5)" />
<g clip-path="url(#cg5)">
<path d="M62.0 144.80 L63.0 144.13 L64.0 143.92 L65.0 143.78 L66.0 143.69 L67.0 143.63 L68.1 143.59 L69.1 143.56 L70.1 143.55 L71.1 143.54 L72.1 143.54 L73.1 143.54 L74.1 143.55 L75.1 143.55 L76.1 143.56 L77.1 143.57 L78.1 143.58 L79.2 143.60 L80.2 143.61 L81.2 143.62 L82.2 143.63 L83.2 143.65 L84.2 143.66 L85.2 143.68 L86.2 143.69 L87.2 143.71 L88.2 143.72 L89.3 143.74 L90.3 143.75 L91.3 143.77 L92.3 143.79 L93.3 143.81 L94.3 143.83 L95.3 143.86 L96.3 143.89 L97.3 143.92 L98.3 143.97 L99.3 144.02 L100.4 144.09 L101.4 144.18 L102.4 144.30 L103.4 144.46 L104.4 144.71 L105.4 145.40 L105.4 145.40 L104.4 146.07 L103.4 146.28 L102.4 146.42 L101.4 146.51 L100.4 146.57 L99.3 146.61 L98.3 146.64 L97.3 146.65 L96.3 146.66 L95.3 146.66 L94.3 146.66 L93.3 146.65 L92.3 146.65 L91.3 146.64 L90.3 146.63 L89.3 146.62 L88.2 146.60 L87.2 146.59 L86.2 146.58 L85.2 146.57 L84.2 146.55 L83.2 146.54 L82.2 146.52 L81.2 146.51 L80.2 146.49 L79.2 146.48 L78.1 146.46 L77.1 146.45 L76.1 146.43 L75.1 146.41 L74.1 146.39 L73.1 146.37 L72.1 146.34 L71.1 146.31 L70.1 146.28 L69.1 146.23 L68.1 146.18 L67.0 146.11 L66.0 146.02 L65.0 145.90 L64.0 145.74 L63.0 145.49 L62.0 144.80Z" fill="#070707" stroke="#070707" stroke-width="2.6" stroke-linejoin="round" opacity="0.28" filter="url(#b2)"/>
<path d="M62.0 144.80 L63.0 144.13 L64.0 143.92 L65.0 143.78 L66.0 143.69 L67.0 143.63 L68.1 143.59 L69.1 143.56 L70.1 143.55 L71.1 143.54 L72.1 143.54 L73.1 143.54 L74.1 143.55 L75.1 143.55 L76.1 143.56 L77.1 143.57 L78.1 143.58 L79.2 143.60 L80.2 143.61 L81.2 143.62 L82.2 143.63 L83.2 143.65 L84.2 143.66 L85.2 143.68 L86.2 143.69 L87.2 143.71 L88.2 143.72 L89.3 143.74 L90.3 143.75 L91.3 143.77 L92.3 143.79 L93.3 143.81 L94.3 143.83 L95.3 143.86 L96.3 143.89 L97.3 143.92 L98.3 143.97 L99.3 144.02 L100.4 144.09 L101.4 144.18 L102.4 144.30 L103.4 144.46 L104.4 144.71 L105.4 145.40 L105.4 145.40 L104.4 146.07 L103.4 146.28 L102.4 146.42 L101.4 146.51 L100.4 146.57 L99.3 146.61 L98.3 146.64 L97.3 146.65 L96.3 146.66 L95.3 146.66 L94.3 146.66 L93.3 146.65 L92.3 146.65 L91.3 146.64 L90.3 146.63 L89.3 146.62 L88.2 146.60 L87.2 146.59 L86.2 146.58 L85.2 146.57 L84.2 146.55 L83.2 146.54 L82.2 146.52 L81.2 146.51 L80.2 146.49 L79.2 146.48 L78.1 146.46 L77.1 146.45 L76.1 146.43 L75.1 146.41 L74.1 146.39 L73.1 146.37 L72.1 146.34 L71.1 146.31 L70.1 146.28 L69.1 146.23 L68.1 146.18 L67.0 146.11 L66.0 146.02 L65.0 145.90 L64.0 145.74 L63.0 145.49 L62.0 144.80Z" fill="#070707" stroke="#070707" stroke-width="0.5" stroke-linejoin="round" opacity="0.85" filter="url(#b1)"/>
<path d="M113.2 145.60 L114.2 144.77 L115.2 144.44 L116.2 144.21 L117.2 144.03 L118.2 143.88 L119.3 143.75 L120.3 143.64 L121.3 143.55 L122.3 143.47 L123.3 143.39 L124.3 143.33 L125.3 143.26 L126.3 143.20 L127.3 143.15 L128.3 143.10 L129.4 143.05 L130.4 143.00 L131.4 142.95 L132.4 142.91 L133.4 142.87 L134.4 142.82 L135.4 142.79 L136.4 142.75 L137.4 142.71 L138.4 142.68 L139.4 142.65 L140.5 142.62 L141.5 142.59 L142.5 142.57 L143.5 142.55 L144.5 142.53 L145.5 142.52 L146.5 142.52 L147.5 142.52 L148.5 142.54 L149.5 142.57 L150.6 142.62 L151.6 142.71 L152.6 142.83 L153.6 143.01 L154.6 143.31 L155.6 144.20 L155.6 144.20 L154.6 145.16 L153.6 145.52 L152.6 145.77 L151.6 145.96 L150.6 146.11 L149.5 146.23 L148.5 146.33 L147.5 146.41 L146.5 146.48 L145.5 146.55 L144.5 146.60 L143.5 146.65 L142.5 146.70 L141.5 146.74 L140.5 146.78 L139.4 146.82 L138.4 146.85 L137.4 146.89 L136.4 146.92 L135.4 146.95 L134.4 146.97 L133.4 147.00 L132.4 147.03 L131.4 147.05 L130.4 147.07 L129.4 147.09 L128.3 147.10 L127.3 147.12 L126.3 147.13 L125.3 147.14 L124.3 147.14 L123.3 147.14 L122.3 147.13 L121.3 147.12 L120.3 147.09 L119.3 147.05 L118.2 146.99 L117.2 146.91 L116.2 146.79 L115.2 146.62 L114.2 146.36 L113.2 145.60Z" fill="#070707" stroke="#070707" stroke-width="2.6" stroke-linejoin="round" opacity="0.30" filter="url(#b2)"/>
<path d="M113.2 145.60 L114.2 144.77 L115.2 144.44 L116.2 144.21 L117.2 144.03 L118.2 143.88 L119.3 143.75 L120.3 143.64 L121.3 143.55 L122.3 143.47 L123.3 143.39 L124.3 143.33 L125.3 143.26 L126.3 143.20 L127.3 143.15 L128.3 143.10 L129.4 143.05 L130.4 143.00 L131.4 142.95 L132.4 142.91 L133.4 142.87 L134.4 142.82 L135.4 142.79 L136.4 142.75 L137.4 142.71 L138.4 142.68 L139.4 142.65 L140.5 142.62 L141.5 142.59 L142.5 142.57 L143.5 142.55 L144.5 142.53 L145.5 142.52 L146.5 142.52 L147.5 142.52 L148.5 142.54 L149.5 142.57 L150.6 142.62 L151.6 142.71 L152.6 142.83 L153.6 143.01 L154.6 143.31 L155.6 144.20 L155.6 144.20 L154.6 145.16 L153.6 145.52 L152.6 145.77 L151.6 145.96 L150.6 146.11 L149.5 146.23 L148.5 146.33 L147.5 146.41 L146.5 146.48 L145.5 146.55 L144.5 146.60 L143.5 146.65 L142.5 146.70 L141.5 146.74 L140.5 146.78 L139.4 146.82 L138.4 146.85 L137.4 146.89 L136.4 146.92 L135.4 146.95 L134.4 146.97 L133.4 147.00 L132.4 147.03 L131.4 147.05 L130.4 147.07 L129.4 147.09 L128.3 147.10 L127.3 147.12 L126.3 147.13 L125.3 147.14 L124.3 147.14 L123.3 147.14 L122.3 147.13 L121.3 147.12 L120.3 147.09 L119.3 147.05 L118.2 146.99 L117.2 146.91 L116.2 146.79 L115.2 146.62 L114.2 146.36 L113.2 145.60Z" fill="#070707" stroke="#070707" stroke-width="0.5" stroke-linejoin="round" opacity="0.92" filter="url(#b1)"/>
<path d="M162.2 144.20 L163.2 143.60 L164.2 143.40 L165.2 143.27 L166.2 143.19 L167.2 143.14 L168.3 143.10 L169.3 143.08 L170.3 143.06 L171.3 143.05 L172.3 143.05 L173.3 143.05 L174.3 143.06 L175.3 143.07 L176.3 143.07 L177.3 143.08 L178.3 143.09 L179.4 143.10 L180.4 143.11 L181.4 143.12 L182.4 143.13 L183.4 143.14 L184.4 143.15 L185.4 143.16 L186.4 143.17 L187.4 143.18 L188.4 143.19 L189.4 143.20 L190.4 143.21 L191.5 143.22 L192.5 143.23 L193.5 143.24 L194.5 143.25 L195.5 143.27 L196.5 143.28 L197.5 143.30 L198.5 143.32 L199.5 143.35 L200.5 143.39 L201.5 143.44 L202.6 143.51 L203.6 143.60 L204.6 143.73 L205.6 143.91 L206.6 144.19 L207.6 145.00 L207.6 145.00 L206.6 145.77 L205.6 146.02 L204.6 146.16 L203.6 146.25 L202.6 146.31 L201.5 146.34 L200.5 146.36 L199.5 146.36 L198.5 146.36 L197.5 146.34 L196.5 146.33 L195.5 146.31 L194.5 146.29 L193.5 146.26 L192.5 146.24 L191.5 146.21 L190.4 146.19 L189.4 146.16 L188.4 146.14 L187.4 146.11 L186.4 146.08 L185.4 146.06 L184.4 146.03 L183.4 146.01 L182.4 145.98 L181.4 145.95 L180.4 145.93 L179.4 145.90 L178.3 145.88 L177.3 145.85 L176.3 145.82 L175.3 145.80 L174.3 145.77 L173.3 145.74 L172.3 145.70 L171.3 145.67 L170.3 145.62 L169.3 145.57 L168.3 145.51 L167.2 145.44 L166.2 145.35 L165.2 145.23 L164.2 145.07 L163.2 144.84 L162.2 144.20Z" fill="#070707" stroke="#070707" stroke-width="2.6" stroke-linejoin="round" opacity="0.25" filter="url(#b2)"/>
<path d="M162.2 144.20 L163.2 143.60 L164.2 143.40 L165.2 143.27 L166.2 143.19 L167.2 143.14 L168.3 143.10 L169.3 143.08 L170.3 143.06 L171.3 143.05 L172.3 143.05 L173.3 143.05 L174.3 143.06 L175.3 143.07 L176.3 143.07 L177.3 143.08 L178.3 143.09 L179.4 143.10 L180.4 143.11 L181.4 143.12 L182.4 143.13 L183.4 143.14 L184.4 143.15 L185.4 143.16 L186.4 143.17 L187.4 143.18 L188.4 143.19 L189.4 143.20 L190.4 143.21 L191.5 143.22 L192.5 143.23 L193.5 143.24 L194.5 143.25 L195.5 143.27 L196.5 143.28 L197.5 143.30 L198.5 143.32 L199.5 143.35 L200.5 143.39 L201.5 143.44 L202.6 143.51 L203.6 143.60 L204.6 143.73 L205.6 143.91 L206.6 144.19 L207.6 145.00 L207.6 145.00 L206.6 145.77 L205.6 146.02 L204.6 146.16 L203.6 146.25 L202.6 146.31 L201.5 146.34 L200.5 146.36 L199.5 146.36 L198.5 146.36 L197.5 146.34 L196.5 146.33 L195.5 146.31 L194.5 146.29 L193.5 146.26 L192.5 146.24 L191.5 146.21 L190.4 146.19 L189.4 146.16 L188.4 146.14 L187.4 146.11 L186.4 146.08 L185.4 146.06 L184.4 146.03 L183.4 146.01 L182.4 145.98 L181.4 145.95 L180.4 145.93 L179.4 145.90 L178.3 145.88 L177.3 145.85 L176.3 145.82 L175.3 145.80 L174.3 145.77 L173.3 145.74 L172.3 145.70 L171.3 145.67 L170.3 145.62 L169.3 145.57 L168.3 145.51 L167.2 145.44 L166.2 145.35 L165.2 145.23 L164.2 145.07 L163.2 144.84 L162.2 144.20Z" fill="#070707" stroke="#070707" stroke-width="0.5" stroke-linejoin="round" opacity="0.75" filter="url(#b1)"/>
</g>
<rect x="59.6" y="134.9" width="148.8" height="19.3" fill="none" stroke="#101010" stroke-width="1.15"/>
<linearGradient id="g6" x1="0" x2="1" y1="0" y2="0"><stop offset="0" stop-color="#ececec"/><stop offset="0.5" stop-color="#f1f1f1"/><stop offset="1" stop-color="#eeeeee"/></linearGradient>
<clipPath id="cg6"><rect x="59.6" y="156.3" width="148.8" height="18.9"/></clipPath>
<rect x="59.60" y="156.30" width="148.80" height="18.90" fill="url(#g6)" />
<g clip-path="url(#cg6)">
<path d="M65.2 165.80 L66.2 164.70 L67.2 164.33 L68.2 164.10 L69.3 163.93 L70.3 163.82 L71.3 163.73 L72.3 163.67 L73.3 163.62 L74.3 163.58 L75.4 163.55 L76.4 163.52 L77.4 163.50 L78.4 163.48 L79.4 163.45 L80.4 163.43 L81.4 163.41 L82.5 163.39 L83.5 163.37 L84.5 163.35 L85.5 163.32 L86.5 163.30 L87.5 163.28 L88.6 163.26 L89.6 163.23 L90.6 163.21 L91.6 163.19 L92.6 163.16 L93.6 163.14 L94.6 163.13 L95.7 163.12 L96.7 163.11 L97.7 163.12 L98.7 163.14 L99.7 163.19 L100.7 163.27 L101.8 163.41 L102.8 163.63 L103.8 164.00 L104.8 165.20 L104.8 165.20 L103.8 166.43 L102.8 166.84 L101.8 167.09 L100.7 167.25 L99.7 167.36 L98.7 167.44 L97.7 167.50 L96.7 167.54 L95.7 167.56 L94.6 167.58 L93.6 167.59 L92.6 167.60 L91.6 167.61 L90.6 167.62 L89.6 167.63 L88.6 167.64 L87.5 167.64 L86.5 167.65 L85.5 167.66 L84.5 167.67 L83.5 167.68 L82.5 167.69 L81.4 167.70 L80.4 167.71 L79.4 167.71 L78.4 167.72 L77.4 167.73 L76.4 167.74 L75.4 167.74 L74.3 167.74 L73.3 167.73 L72.3 167.72 L71.3 167.68 L70.3 167.63 L69.3 167.54 L68.2 167.41 L67.2 167.21 L66.2 166.87 L65.2 165.80Z" fill="#070707" stroke="#070707" stroke-width="2.6" stroke-linejoin="round" opacity="0.32" filter="url(#b2)"/>
<path d="M65.2 165.80 L66.2 164.70 L67.2 164.33 L68.2 164.10 L69.3 163.93 L70.3 163.82 L71.3 163.73 L72.3 163.67 L73.3 163.62 L74.3 163.58 L75.4 163.55 L76.4 163.52 L77.4 163.50 L78.4 163.48 L79.4 163.45 L80.4 163.43 L81.4 163.41 L82.5 163.39 L83.5 163.37 L84.5 163.35 L85.5 163.32 L86.5 163.30 L87.5 163.28 L88.6 163.26 L89.6 163.23 L90.6 163.21 L91.6 163.19 L92.6 163.16 L93.6 163.14 L94.6 163.13 L95.7 163.12 L96.7 163.11 L97.7 163.12 L98.7 163.14 L99.7 163.19 L100.7 163.27 L101.8 163.41 L102.8 163.63 L103.8 164.00 L104.8 165.20 L104.8 165.20 L103.8 166.43 L102.8 166.84 L101.8 167.09 L100.7 167.25 L99.7 167.36 L98.7 167.44 L97.7 167.50 L96.7 167.54 L95.7 167.56 L94.6 167.58 L93.6 167.59 L92.6 167.60 L91.6 167.61 L90.6 167.62 L89.6 167.63 L88.6 167.64 L87.5 167.64 L86.5 167.65 L85.5 167.66 L84.5 167.67 L83.5 167.68 L82.5 167.69 L81.4 167.70 L80.4 167.71 L79.4 167.71 L78.4 167.72 L77.4 167.73 L76.4 167.74 L75.4 167.74 L74.3 167.74 L73.3 167.73 L72.3 167.72 L71.3 167.68 L70.3 167.63 L69.3 167.54 L68.2 167.41 L67.2 167.21 L66.2 166.87 L65.2 165.80Z" fill="#070707" stroke="#070707" stroke-width="0.5" stroke-linejoin="round" opacity="0.96" filter="url(#b1)"/>
<path d="M115.8 165.20 L116.8 163.98 L117.8 163.60 L118.8 163.37 L119.8 163.23 L120.8 163.14 L121.8 163.09 L122.8 163.06 L123.8 163.05 L124.8 163.05 L125.8 163.06 L126.8 163.08 L127.8 163.09 L128.8 163.11 L129.8 163.13 L130.8 163.16 L131.8 163.18 L132.8 163.20 L133.8 163.22 L134.8 163.25 L135.8 163.27 L136.8 163.29 L137.8 163.31 L138.8 163.34 L139.8 163.36 L140.8 163.39 L141.8 163.41 L142.8 163.44 L143.8 163.47 L144.8 163.51 L145.8 163.55 L146.8 163.61 L147.8 163.68 L148.8 163.77 L149.8 163.89 L150.8 164.06 L151.8 164.30 L152.8 164.69 L153.8 165.80 L153.8 165.80 L152.8 166.88 L151.8 167.23 L150.8 167.44 L149.8 167.58 L148.8 167.67 L147.8 167.73 L146.8 167.77 L145.8 167.79 L144.8 167.81 L143.8 167.81 L142.8 167.81 L141.8 167.81 L140.8 167.80 L139.8 167.79 L138.8 167.79 L137.8 167.78 L136.8 167.77 L135.8 167.76 L134.8 167.75 L133.8 167.75 L132.8 167.74 L131.8 167.73 L130.8 167.72 L129.8 167.71 L128.8 167.70 L127.8 167.69 L126.8 167.67 L125.8 167.65 L124.8 167.63 L123.8 167.60 L122.8 167.56 L121.8 167.50 L120.8 167.41 L119.8 167.29 L118.8 167.12 L117.8 166.86 L116.8 166.45 L115.8 165.20Z" fill="#070707" stroke="#070707" stroke-width="2.6" stroke-linejoin="round" opacity="0.32" filter="url(#b2)"/>
<path d="M115.8 165.20 L116.8 163.98 L117.8 163.60 L118.8 163.37 L119.8 163.23 L120.8 163.14 L121.8 163.09 L122.8 163.06 L123.8 163.05 L124.8 163.05 L125.8 163.06 L126.8 163.08 L127.8 163.09 L128.8 163.11 L129.8 163.13 L130.8 163.16 L131.8 163.18 L132.8 163.20 L133.8 163.22 L134.8 163.25 L135.8 163.27 L136.8 163.29 L137.8 163.31 L138.8 163.34 L139.8 163.36 L140.8 163.39 L141.8 163.41 L142.8 163.44 L143.8 163.47 L144.8 163.51 L145.8 163.55 L146.8 163.61 L147.8 163.68 L148.8 163.77 L149.8 163.89 L150.8 164.06 L151.8 164.30 L152.8 164.69 L153.8 165.80 L153.8 165.80 L152.8 166.88 L151.8 167.23 L150.8 167.44 L149.8 167.58 L148.8 167.67 L147.8 167.73 L146.8 167.77 L145.8 167.79 L144.8 167.81 L143.8 167.81 L142.8 167.81 L141.8 167.81 L140.8 167.80 L139.8 167.79 L138.8 167.79 L137.8 167.78 L136.8 167.77 L135.8 167.76 L134.8 167.75 L133.8 167.75 L132.8 167.74 L131.8 167.73 L130.8 167.72 L129.8 167.71 L128.8 167.70 L127.8 167.69 L126.8 167.67 L125.8 167.65 L124.8 167.63 L123.8 167.60 L122.8 167.56 L121.8 167.50 L120.8 167.41 L119.8 167.29 L118.8 167.12 L117.8 166.86 L116.8 166.45 L115.8 165.20Z" fill="#070707" stroke="#070707" stroke-width="0.5" stroke-linejoin="round" opacity="0.96" filter="url(#b1)"/>
<path d="M163.8 165.60 L164.8 164.28 L165.8 163.83 L166.8 163.55 L167.8 163.36 L168.9 163.22 L169.9 163.13 L170.9 163.06 L171.9 163.01 L172.9 162.98 L173.9 162.96 L174.9 162.94 L175.9 162.93 L176.9 162.92 L177.9 162.91 L179.0 162.90 L180.0 162.90 L181.0 162.90 L182.0 162.90 L183.0 162.90 L184.0 162.90 L185.0 162.90 L186.0 162.90 L187.0 162.90 L188.0 162.90 L189.1 162.91 L190.1 162.92 L191.1 162.93 L192.1 162.94 L193.1 162.96 L194.1 162.98 L195.1 163.01 L196.1 163.06 L197.1 163.13 L198.1 163.22 L199.2 163.36 L200.2 163.55 L201.2 163.83 L202.2 164.28 L203.2 165.60 L203.2 165.60 L202.2 166.92 L201.2 167.37 L200.2 167.65 L199.2 167.84 L198.1 167.98 L197.1 168.07 L196.1 168.14 L195.1 168.19 L194.1 168.22 L193.1 168.24 L192.1 168.26 L191.1 168.27 L190.1 168.28 L189.1 168.29 L188.0 168.30 L187.0 168.30 L186.0 168.30 L185.0 168.30 L184.0 168.30 L183.0 168.30 L182.0 168.30 L181.0 168.30 L180.0 168.30 L179.0 168.30 L177.9 168.29 L176.9 168.28 L175.9 168.27 L174.9 168.26 L173.9 168.24 L172.9 168.22 L171.9 168.19 L170.9 168.14 L169.9 168.07 L168.9 167.98 L167.8 167.84 L166.8 167.65 L165.8 167.37 L164.8 166.92 L163.8 165.60Z" fill="#070707" stroke="#070707" stroke-width="2.6" stroke-linejoin="round" opacity="0.33" filter="url(#b2)"/>
<path d="M163.8 165.60 L164.8 164.28 L165.8 163.83 L166.8 163.55 L167.8 163.36 L168.9 163.22 L169.9 163.13 L170.9 163.06 L171.9 163.01 L172.9 162.98 L173.9 162.96 L174.9 162.94 L175.9 162.93 L176.9 162.92 L177.9 162.91 L179.0 162.90 L180.0 162.90 L181.0 162.90 L182.0 162.90 L183.0 162.90 L184.0 162.90 L185.0 162.90 L186.0 162.90 L187.0 162.90 L188.0 162.90 L189.1 162.91 L190.1 162.92 L191.1 162.93 L192.1 162.94 L193.1 162.96 L194.1 162.98 L195.1 163.01 L196.1 163.06 L197.1 163.13 L198.1 163.22 L199.2 163.36 L200.2 163.55 L201.2 163.83 L202.2 164.28 L203.2 165.60 L203.2 165.60 L202.2 166.92 L201.2 167.37 L200.2 167.65 L199.2 167.84 L198.1 167.98 L197.1 168.07 L196.1 168.14 L195.1 168.19 L194.1 168.22 L193.1 168.24 L192.1 168.26 L191.1 168.27 L190.1 168.28 L189.1 168.29 L188.0 168.30 L187.0 168.30 L186.0 168.30 L185.0 168.30 L184.0 168.30 L183.0 168.30 L182.0 168.30 L181.0 168.30 L180.0 168.30 L179.0 168.30 L177.9 168.29 L176.9 168.28 L175.9 168.27 L174.9 168.26 L173.9 168.24 L172.9 168.22 L171.9 168.19 L170.9 168.14 L169.9 168.07 L168.9 167.98 L167.8 167.84 L166.8 167.65 L165.8 167.37 L164.8 166.92 L163.8 165.60Z" fill="#070707" stroke="#070707" stroke-width="0.5" stroke-linejoin="round" opacity="1.00" filter="url(#b1)"/>
</g>
<rect x="59.6" y="156.3" width="148.8" height="18.9" fill="none" stroke="#101010" stroke-width="1.15"/>
<linearGradient id="g7" x1="0" x2="1" y1="0" y2="0"><stop offset="0" stop-color="#e2e2e2"/><stop offset="0.5" stop-color="#e8e8e8"/><stop offset="1" stop-color="#e2e2e2"/></linearGradient>
<clipPath id="cg7"><rect x="59.6" y="177.3" width="148.8" height="18.6"/></clipPath>
<rect x="59.60" y="177.30" width="148.80" height="18.60" fill="url(#g7)" />
<g clip-path="url(#cg7)">
<path d="M62.2 185.60 L63.2 184.39 L64.2 184.00 L65.2 183.76 L66.3 183.61 L67.3 183.51 L68.3 183.45 L69.3 183.41 L70.3 183.38 L71.3 183.37 L72.4 183.36 L73.4 183.36 L74.4 183.36 L75.4 183.36 L76.4 183.36 L77.4 183.36 L78.4 183.36 L79.5 183.35 L80.5 183.35 L81.5 183.35 L82.5 183.34 L83.5 183.34 L84.5 183.33 L85.6 183.32 L86.6 183.31 L87.6 183.31 L88.6 183.30 L89.6 183.29 L90.6 183.28 L91.6 183.27 L92.7 183.27 L93.7 183.28 L94.7 183.30 L95.7 183.33 L96.7 183.39 L97.7 183.49 L98.8 183.64 L99.8 183.89 L100.8 184.30 L101.8 185.60 L101.8 185.60 L100.8 186.90 L99.8 187.31 L98.8 187.56 L97.7 187.71 L96.7 187.81 L95.7 187.87 L94.7 187.90 L93.7 187.92 L92.7 187.93 L91.6 187.93 L90.6 187.92 L89.6 187.91 L88.6 187.90 L87.6 187.89 L86.6 187.89 L85.6 187.88 L84.5 187.87 L83.5 187.86 L82.5 187.86 L81.5 187.85 L80.5 187.85 L79.5 187.85 L78.4 187.84 L77.4 187.84 L76.4 187.84 L75.4 187.84 L74.4 187.84 L73.4 187.84 L72.4 187.84 L71.3 187.83 L70.3 187.82 L69.3 187.79 L68.3 187.75 L67.3 187.69 L66.3 187.59 L65.2 187.44 L64.2 187.20 L63.2 186.81 L62.2 185.60Z" fill="#070707" stroke="#070707" stroke-width="2.6" stroke-linejoin="round" opacity="0.33" filter="url(#b2)"/>
<path d="M62.2 185.60 L63.2 184.39 L64.2 184.00 L65.2 183.76 L66.3 183.61 L67.3 183.51 L68.3 183.45 L69.3 183.41 L70.3 183.38 L71.3 183.37 L72.4 183.36 L73.4 183.36 L74.4 183.36 L75.4 183.36 L76.4 183.36 L77.4 183.36 L78.4 183.36 L79.5 183.35 L80.5 183.35 L81.5 183.35 L82.5 183.34 L83.5 183.34 L84.5 183.33 L85.6 183.32 L86.6 183.31 L87.6 183.31 L88.6 183.30 L89.6 183.29 L90.6 183.28 L91.6 183.27 L92.7 183.27 L93.7 183.28 L94.7 183.30 L95.7 183.33 L96.7 183.39 L97.7 183.49 L98.8 183.64 L99.8 183.89 L100.8 184.30 L101.8 185.60 L101.8 185.60 L100.8 186.90 L99.8 187.31 L98.8 187.56 L97.7 187.71 L96.7 187.81 L95.7 187.87 L94.7 187.90 L93.7 187.92 L92.7 187.93 L91.6 187.93 L90.6 187.92 L89.6 187.91 L88.6 187.90 L87.6 187.89 L86.6 187.89 L85.6 187.88 L84.5 187.87 L83.5 187.86 L82.5 187.86 L81.5 187.85 L80.5 187.85 L79.5 187.85 L78.4 187.84 L77.4 187.84 L76.4 187.84 L75.4 187.84 L74.4 187.84 L73.4 187.84 L72.4 187.84 L71.3 187.83 L70.3 187.82 L69.3 187.79 L68.3 187.75 L67.3 187.69 L66.3 187.59 L65.2 187.44 L64.2 187.20 L63.2 186.81 L62.2 185.60Z" fill="#070707" stroke="#070707" stroke-width="0.5" stroke-linejoin="round" opacity="1.00" filter="url(#b1)"/>
<path d="M113.2 186.20 L114.2 184.35 L115.2 183.71 L116.2 183.31 L117.3 183.04 L118.3 182.85 L119.3 182.71 L120.3 182.61 L121.3 182.54 L122.3 182.49 L123.3 182.46 L124.4 182.44 L125.4 182.43 L126.4 182.43 L127.4 182.42 L128.4 182.43 L129.4 182.43 L130.4 182.44 L131.5 182.45 L132.5 182.46 L133.5 182.48 L134.5 182.49 L135.5 182.51 L136.5 182.53 L137.6 182.56 L138.6 182.58 L139.6 182.61 L140.6 182.64 L141.6 182.67 L142.6 182.71 L143.6 182.75 L144.7 182.81 L145.7 182.87 L146.7 182.94 L147.7 183.03 L148.7 183.14 L149.7 183.28 L150.7 183.46 L151.8 183.69 L152.8 184.01 L153.8 184.49 L154.8 185.80 L154.8 185.80 L153.8 187.13 L152.8 187.62 L151.8 187.96 L150.7 188.22 L149.7 188.42 L148.7 188.58 L147.7 188.71 L146.7 188.82 L145.7 188.91 L144.7 188.99 L143.6 189.06 L142.6 189.12 L141.6 189.18 L140.6 189.23 L139.6 189.28 L138.6 189.33 L137.6 189.38 L136.5 189.42 L135.5 189.46 L134.5 189.50 L133.5 189.53 L132.5 189.57 L131.5 189.60 L130.4 189.63 L129.4 189.66 L128.4 189.68 L127.4 189.70 L126.4 189.72 L125.4 189.74 L124.4 189.74 L123.3 189.74 L122.3 189.73 L121.3 189.70 L120.3 189.65 L119.3 189.58 L118.3 189.46 L117.3 189.28 L116.2 189.03 L115.2 188.65 L114.2 188.03 L113.2 186.20Z" fill="#070707" stroke="#070707" stroke-width="2.6" stroke-linejoin="round" opacity="0.33" filter="url(#b2)"/>
<path d="M113.2 186.20 L114.2 184.35 L115.2 183.71 L116.2 183.31 L117.3 183.04 L118.3 182.85 L119.3 182.71 L120.3 182.61 L121.3 182.54 L122.3 182.49 L123.3 182.46 L124.4 182.44 L125.4 182.43 L126.4 182.43 L127.4 182.42 L128.4 182.43 L129.4 182.43 L130.4 182.44 L131.5 182.45 L132.5 182.46 L133.5 182.48 L134.5 182.49 L135.5 182.51 L136.5 182.53 L137.6 182.56 L138.6 182.58 L139.6 182.61 L140.6 182.64 L141.6 182.67 L142.6 182.71 L143.6 182.75 L144.7 182.81 L145.7 182.87 L146.7 182.94 L147.7 183.03 L148.7 183.14 L149.7 183.28 L150.7 183.46 L151.8 183.69 L152.8 184.01 L153.8 184.49 L154.8 185.80 L154.8 185.80 L153.8 187.13 L152.8 187.62 L151.8 187.96 L150.7 188.22 L149.7 188.42 L148.7 188.58 L147.7 188.71 L146.7 188.82 L145.7 188.91 L144.7 188.99 L143.6 189.06 L142.6 189.12 L141.6 189.18 L140.6 189.23 L139.6 189.28 L138.6 189.33 L137.6 189.38 L136.5 189.42 L135.5 189.46 L134.5 189.50 L133.5 189.53 L132.5 189.57 L131.5 189.60 L130.4 189.63 L129.4 189.66 L128.4 189.68 L127.4 189.70 L126.4 189.72 L125.4 189.74 L124.4 189.74 L123.3 189.74 L122.3 189.73 L121.3 189.70 L120.3 189.65 L119.3 189.58 L118.3 189.46 L117.3 189.28 L116.2 189.03 L115.2 188.65 L114.2 188.03 L113.2 186.20Z" fill="#070707" stroke="#070707" stroke-width="0.5" stroke-linejoin="round" opacity="1.00" filter="url(#b1)"/>
<path d="M165.2 185.60 L166.2 184.07 L167.2 183.55 L168.2 183.21 L169.2 182.98 L170.2 182.81 L171.2 182.69 L172.2 182.60 L173.2 182.54 L174.2 182.49 L175.2 182.45 L176.2 182.43 L177.2 182.41 L178.2 182.39 L179.2 182.38 L180.2 182.38 L181.2 182.37 L182.2 182.36 L183.2 182.36 L184.2 182.36 L185.2 182.36 L186.2 182.36 L187.2 182.36 L188.2 182.36 L189.2 182.36 L190.2 182.37 L191.2 182.38 L192.2 182.38 L193.2 182.39 L194.2 182.41 L195.2 182.43 L196.2 182.45 L197.2 182.49 L198.2 182.54 L199.2 182.60 L200.2 182.69 L201.2 182.81 L202.2 182.98 L203.2 183.21 L204.2 183.55 L205.2 184.07 L206.2 185.60 L206.2 185.60 L205.2 187.13 L204.2 187.65 L203.2 187.99 L202.2 188.22 L201.2 188.39 L200.2 188.51 L199.2 188.60 L198.2 188.66 L197.2 188.71 L196.2 188.75 L195.2 188.77 L194.2 188.79 L193.2 188.81 L192.2 188.82 L191.2 188.82 L190.2 188.83 L189.2 188.84 L188.2 188.84 L187.2 188.84 L186.2 188.84 L185.2 188.84 L184.2 188.84 L183.2 188.84 L182.2 188.84 L181.2 188.83 L180.2 188.82 L179.2 188.82 L178.2 188.81 L177.2 188.79 L176.2 188.77 L175.2 188.75 L174.2 188.71 L173.2 188.66 L172.2 188.60 L171.2 188.51 L170.2 188.39 L169.2 188.22 L168.2 187.99 L167.2 187.65 L166.2 187.13 L165.2 185.60Z" fill="#070707" stroke="#070707" stroke-width="2.6" stroke-linejoin="round" opacity="0.33" filter="url(#b2)"/>
<path d="M165.2 185.60 L166.2 184.07 L167.2 183.55 L168.2 183.21 L169.2 182.98 L170.2 182.81 L171.2 182.69 L172.2 182.60 L173.2 182.54 L174.2 182.49 L175.2 182.45 L176.2 182.43 L177.2 182.41 L178.2 182.39 L179.2 182.38 L180.2 182.38 L181.2 182.37 L182.2 182.36 L183.2 182.36 L184.2 182.36 L185.2 182.36 L186.2 182.36 L187.2 182.36 L188.2 182.36 L189.2 182.36 L190.2 182.37 L191.2 182.38 L192.2 182.38 L193.2 182.39 L194.2 182.41 L195.2 182.43 L196.2 182.45 L197.2 182.49 L198.2 182.54 L199.2 182.60 L200.2 182.69 L201.2 182.81 L202.2 182.98 L203.2 183.21 L204.2 183.55 L205.2 184.07 L206.2 185.60 L206.2 185.60 L205.2 187.13 L204.2 187.65 L203.2 187.99 L202.2 188.22 L201.2 188.39 L200.2 188.51 L199.2 188.60 L198.2 188.66 L197.2 188.71 L196.2 188.75 L195.2 188.77 L194.2 188.79 L193.2 188.81 L192.2 188.82 L191.2 188.82 L190.2 188.83 L189.2 188.84 L188.2 188.84 L187.2 188.84 L186.2 188.84 L185.2 188.84 L184.2 188.84 L183.2 188.84 L182.2 188.84 L181.2 188.83 L180.2 188.82 L179.2 188.82 L178.2 188.81 L177.2 188.79 L176.2 188.77 L175.2 188.75 L174.2 188.71 L173.2 188.66 L172.2 188.60 L171.2 188.51 L170.2 188.39 L169.2 188.22 L168.2 187.99 L167.2 187.65 L166.2 187.13 L165.2 185.60Z" fill="#070707" stroke="#070707" stroke-width="0.5" stroke-linejoin="round" opacity="1.00" filter="url(#b1)"/>
</g>
<rect x="59.6" y="177.3" width="148.8" height="18.6" fill="none" stroke="#101010" stroke-width="1.15"/>
<linearGradient id="g8" x1="0" x2="1" y1="0" y2="0"><stop offset="0" stop-color="#c2c2c2"/><stop offset="0.5" stop-color="#cccccc"/><stop offset="1" stop-color="#c6c6c6"/></linearGradient>
<clipPath id="cg8"><rect x="59.6" y="198.3" width="148.8" height="19.0"/></clipPath>
<rect x="59.60" y="198.30" width="148.80" height="19.00" fill="url(#g8)" />
<g clip-path="url(#cg8)">
<path d="M60.8 208.20 L61.8 206.62 L62.8 206.10 L63.8 205.77 L64.8 205.55 L65.8 205.40 L66.8 205.29 L67.8 205.22 L68.8 205.16 L69.8 205.13 L70.8 205.10 L71.8 205.09 L72.8 205.07 L73.8 205.06 L74.8 205.06 L75.8 205.05 L76.8 205.05 L77.8 205.05 L78.8 205.05 L79.8 205.04 L80.8 205.05 L81.8 205.05 L82.8 205.05 L83.8 205.05 L84.8 205.06 L85.8 205.06 L86.8 205.07 L87.8 205.09 L88.8 205.10 L89.8 205.13 L90.8 205.16 L91.8 205.22 L92.8 205.29 L93.8 205.40 L94.8 205.55 L95.8 205.77 L96.8 206.10 L97.8 206.62 L98.8 208.20 L98.8 208.20 L97.8 209.78 L96.8 210.30 L95.8 210.63 L94.8 210.85 L93.8 211.00 L92.8 211.11 L91.8 211.18 L90.8 211.24 L89.8 211.27 L88.8 211.30 L87.8 211.31 L86.8 211.33 L85.8 211.34 L84.8 211.34 L83.8 211.35 L82.8 211.35 L81.8 211.35 L80.8 211.35 L79.8 211.35 L78.8 211.35 L77.8 211.35 L76.8 211.35 L75.8 211.35 L74.8 211.34 L73.8 211.34 L72.8 211.33 L71.8 211.31 L70.8 211.30 L69.8 211.27 L68.8 211.24 L67.8 211.18 L66.8 211.11 L65.8 211.00 L64.8 210.85 L63.8 210.63 L62.8 210.30 L61.8 209.78 L60.8 208.20Z" fill="#070707" stroke="#070707" stroke-width="2.6" stroke-linejoin="round" opacity="0.33" filter="url(#b2)"/>
<path d="M60.8 208.20 L61.8 206.62 L62.8 206.10 L63.8 205.77 L64.8 205.55 L65.8 205.40 L66.8 205.29 L67.8 205.22 L68.8 205.16 L69.8 205.13 L70.8 205.10 L71.8 205.09 L72.8 205.07 L73.8 205.06 L74.8 205.06 L75.8 205.05 L76.8 205.05 L77.8 205.05 L78.8 205.05 L79.8 205.04 L80.8 205.05 L81.8 205.05 L82.8 205.05 L83.8 205.05 L84.8 205.06 L85.8 205.06 L86.8 205.07 L87.8 205.09 L88.8 205.10 L89.8 205.13 L90.8 205.16 L91.8 205.22 L92.8 205.29 L93.8 205.40 L94.8 205.55 L95.8 205.77 L96.8 206.10 L97.8 206.62 L98.8 208.20 L98.8 208.20 L97.8 209.78 L96.8 210.30 L95.8 210.63 L94.8 210.85 L93.8 211.00 L92.8 211.11 L91.8 211.18 L90.8 211.24 L89.8 211.27 L88.8 211.30 L87.8 211.31 L86.8 211.33 L85.8 211.34 L84.8 211.34 L83.8 211.35 L82.8 211.35 L81.8 211.35 L80.8 211.35 L79.8 211.35 L78.8 211.35 L77.8 211.35 L76.8 211.35 L75.8 211.35 L74.8 211.34 L73.8 211.34 L72.8 211.33 L71.8 211.31 L70.8 211.30 L69.8 211.27 L68.8 211.24 L67.8 211.18 L66.8 211.11 L65.8 211.00 L64.8 210.85 L63.8 210.63 L62.8 210.30 L61.8 209.78 L60.8 208.20Z" fill="#070707" stroke="#070707" stroke-width="0.5" stroke-linejoin="round" opacity="1.00" filter="url(#b1)"/>
<path d="M113.2 208.40 L114.2 206.81 L115.2 206.28 L116.2 205.95 L117.3 205.73 L118.3 205.58 L119.3 205.48 L120.3 205.40 L121.3 205.36 L122.3 205.32 L123.4 205.30 L124.4 205.28 L125.4 205.27 L126.4 205.26 L127.4 205.26 L128.4 205.25 L129.5 205.25 L130.5 205.25 L131.5 205.25 L132.5 205.25 L133.5 205.25 L134.5 205.25 L135.6 205.25 L136.6 205.26 L137.6 205.26 L138.6 205.27 L139.6 205.28 L140.6 205.30 L141.7 205.32 L142.7 205.36 L143.7 205.40 L144.7 205.48 L145.7 205.58 L146.7 205.73 L147.8 205.95 L148.8 206.28 L149.8 206.81 L150.8 208.40 L150.8 208.40 L149.8 209.99 L148.8 210.52 L147.8 210.85 L146.7 211.07 L145.7 211.22 L144.7 211.32 L143.7 211.40 L142.7 211.44 L141.7 211.48 L140.6 211.50 L139.6 211.52 L138.6 211.53 L137.6 211.54 L136.6 211.54 L135.6 211.55 L134.5 211.55 L133.5 211.55 L132.5 211.55 L131.5 211.55 L130.5 211.55 L129.5 211.55 L128.4 211.55 L127.4 211.54 L126.4 211.54 L125.4 211.53 L124.4 211.52 L123.4 211.50 L122.3 211.48 L121.3 211.44 L120.3 211.40 L119.3 211.32 L118.3 211.22 L117.3 211.07 L116.2 210.85 L115.2 210.52 L114.2 209.99 L113.2 208.40Z" fill="#070707" stroke="#070707" stroke-width="2.6" stroke-linejoin="round" opacity="0.33" filter="url(#b2)"/>
<path d="M113.2 208.40 L114.2 206.81 L115.2 206.28 L116.2 205.95 L117.3 205.73 L118.3 205.58 L119.3 205.48 L120.3 205.40 L121.3 205.36 L122.3 205.32 L123.4 205.30 L124.4 205.28 L125.4 205.27 L126.4 205.26 L127.4 205.26 L128.4 205.25 L129.5 205.25 L130.5 205.25 L131.5 205.25 L132.5 205.25 L133.5 205.25 L134.5 205.25 L135.6 205.25 L136.6 205.26 L137.6 205.26 L138.6 205.27 L139.6 205.28 L140.6 205.30 L141.7 205.32 L142.7 205.36 L143.7 205.40 L144.7 205.48 L145.7 205.58 L146.7 205.73 L147.8 205.95 L148.8 206.28 L149.8 206.81 L150.8 208.40 L150.8 208.40 L149.8 209.99 L148.8 210.52 L147.8 210.85 L146.7 211.07 L145.7 211.22 L144.7 211.32 L143.7 211.40 L142.7 211.44 L141.7 211.48 L140.6 211.50 L139.6 211.52 L138.6 211.53 L137.6 211.54 L136.6 211.54 L135.6 211.55 L134.5 211.55 L133.5 211.55 L132.5 211.55 L131.5 211.55 L130.5 211.55 L129.5 211.55 L128.4 211.55 L127.4 211.54 L126.4 211.54 L125.4 211.53 L124.4 211.52 L123.4 211.50 L122.3 211.48 L121.3 211.44 L120.3 211.40 L119.3 211.32 L118.3 211.22 L117.3 211.07 L116.2 210.85 L115.2 210.52 L114.2 209.99 L113.2 208.40Z" fill="#070707" stroke="#070707" stroke-width="0.5" stroke-linejoin="round" opacity="1.00" filter="url(#b1)"/>
<path d="M166.8 209.00 L167.8 207.55 L168.8 207.06 L169.8 206.75 L170.8 206.54 L171.8 206.39 L172.8 206.29 L173.8 206.21 L174.8 206.16 L175.8 206.12 L176.8 206.09 L177.8 206.07 L178.8 206.06 L179.8 206.05 L180.8 206.04 L181.8 206.04 L182.8 206.03 L183.8 206.03 L184.8 206.03 L185.8 206.03 L186.8 206.03 L187.8 206.03 L188.8 206.03 L189.8 206.03 L190.8 206.03 L191.8 206.04 L192.8 206.04 L193.8 206.05 L194.8 206.06 L195.8 206.07 L196.8 206.09 L197.8 206.12 L198.8 206.16 L199.8 206.21 L200.8 206.29 L201.8 206.39 L202.8 206.54 L203.8 206.75 L204.8 207.06 L205.8 207.55 L206.8 209.00 L206.8 209.00 L205.8 210.45 L204.8 210.94 L203.8 211.25 L202.8 211.46 L201.8 211.61 L200.8 211.71 L199.8 211.79 L198.8 211.84 L197.8 211.88 L196.8 211.91 L195.8 211.93 L194.8 211.94 L193.8 211.95 L192.8 211.96 L191.8 211.96 L190.8 211.97 L189.8 211.97 L188.8 211.97 L187.8 211.97 L186.8 211.97 L185.8 211.97 L184.8 211.97 L183.8 211.97 L182.8 211.97 L181.8 211.96 L180.8 211.96 L179.8 211.95 L178.8 211.94 L177.8 211.93 L176.8 211.91 L175.8 211.88 L174.8 211.84 L173.8 211.79 L172.8 211.71 L171.8 211.61 L170.8 211.46 L169.8 211.25 L168.8 210.94 L167.8 210.45 L166.8 209.00Z" fill="#070707" stroke="#070707" stroke-width="2.6" stroke-linejoin="round" opacity="0.33" filter="url(#b2)"/>
<path d="M166.8 209.00 L167.8 207.55 L168.8 207.06 L169.8 206.75 L170.8 206.54 L171.8 206.39 L172.8 206.29 L173.8 206.21 L174.8 206.16 L175.8 206.12 L176.8 206.09 L177.8 206.07 L178.8 206.06 L179.8 206.05 L180.8 206.04 L181.8 206.04 L182.8 206.03 L183.8 206.03 L184.8 206.03 L185.8 206.03 L186.8 206.03 L187.8 206.03 L188.8 206.03 L189.8 206.03 L190.8 206.03 L191.8 206.04 L192.8 206.04 L193.8 206.05 L194.8 206.06 L195.8 206.07 L196.8 206.09 L197.8 206.12 L198.8 206.16 L199.8 206.21 L200.8 206.29 L201.8 206.39 L202.8 206.54 L203.8 206.75 L204.8 207.06 L205.8 207.55 L206.8 209.00 L206.8 209.00 L205.8 210.45 L204.8 210.94 L203.8 211.25 L202.8 211.46 L201.8 211.61 L200.8 211.71 L199.8 211.79 L198.8 211.84 L197.8 211.88 L196.8 211.91 L195.8 211.93 L194.8 211.94 L193.8 211.95 L192.8 211.96 L191.8 211.96 L190.8 211.97 L189.8 211.97 L188.8 211.97 L187.8 211.97 L186.8 211.97 L185.8 211.97 L184.8 211.97 L183.8 211.97 L182.8 211.97 L181.8 211.96 L180.8 211.96 L179.8 211.95 L178.8 211.94 L177.8 211.93 L176.8 211.91 L175.8 211.88 L174.8 211.84 L173.8 211.79 L172.8 211.71 L171.8 211.61 L170.8 211.46 L169.8 211.25 L168.8 210.94 L167.8 210.45 L166.8 209.00Z" fill="#070707" stroke="#070707" stroke-width="0.5" stroke-linejoin="round" opacity="1.00" filter="url(#b1)"/>
</g>
<rect x="59.6" y="198.3" width="148.8" height="19.0" fill="none" stroke="#101010" stroke-width="1.15"/>
<text x="54.20" y="60.00" font-size="8.6" text-anchor="end" font-weight="normal" fill="#111" stroke="#111" stroke-width="0.2" >GATA1</text>
<text x="54.20" y="81.80" font-size="8.6" text-anchor="end" font-weight="normal" fill="#111" stroke="#111" stroke-width="0.2" >4.1R</text>
<text x="54.20" y="103.20" font-size="8.6" text-anchor="end" font-weight="normal" fill="#111" stroke="#111" stroke-width="0.2" >Tmod</text>
<text x="54.20" y="124.65" font-size="8.6" text-anchor="end" font-weight="normal" fill="#111" stroke="#111" stroke-width="0.2" >HBG</text>
<text x="54.60" y="147.75" font-size="8.6" text-anchor="end" font-weight="normal" fill="#111" stroke="#111" stroke-width="0.2" >p18<tspan dy="-3.8" dx="0.3" font-size="6.2">INK4c</tspan></text>
<text x="54.20" y="167.45" font-size="8.6" text-anchor="end" font-weight="normal" fill="#111" stroke="#111" stroke-width="0.2" >KLF1</text>
<text x="54.20" y="188.30" font-size="8.6" text-anchor="end" font-weight="normal" fill="#111" stroke="#111" stroke-width="0.2" >CD44</text>
<text x="54.20" y="209.50" font-size="8.6" text-anchor="end" font-weight="normal" fill="#111" stroke="#111" stroke-width="0.2" >GAPDH</text>
<text x="78.40" y="34.00" font-size="8.6" text-anchor="middle" font-weight="normal" fill="#111" stroke="#111" stroke-width="0.2" >Lucif</text>
<text x="78.40" y="43.60" font-size="8.6" text-anchor="middle" font-weight="normal" fill="#111" stroke="#111" stroke-width="0.2" >shRNA</text>
<text x="131.60" y="34.70" font-size="8.6" text-anchor="middle" font-weight="normal" fill="#111" stroke="#111" stroke-width="0.2" >p19<tspan dy="-5.1" dx="0.3" font-size="6.2">INK4d</tspan></text>
<text x="131.80" y="43.60" font-size="8.6" text-anchor="middle" font-weight="normal" fill="#111" stroke="#111" stroke-width="0.2" >shRNA-1</text>
<text x="185.20" y="34.70" font-size="8.6" text-anchor="middle" font-weight="normal" fill="#111" stroke="#111" stroke-width="0.2" >p19<tspan dy="-5.1" dx="0.3" font-size="6.2">INK4d</tspan></text>
<text x="185.60" y="43.60" font-size="8.6" text-anchor="middle" font-weight="normal" fill="#111" stroke="#111" stroke-width="0.2" >shRNA-2</text>
<rect x="269.80" y="32.00" width="13.00" height="6.80" fill="#c80412" />
<text x="287.60" y="38.40" font-size="8.6" text-anchor="start" font-weight="normal" fill="#111" stroke="#111" stroke-width="0.2" >Lucif shRNA</text>
<rect x="269.80" y="48.50" width="13.00" height="6.80" fill="#0e288c" />
<text x="287.60" y="54.90" font-size="8.6" text-anchor="start" font-weight="normal" fill="#111" stroke="#111" stroke-width="0.2" >p19<tspan dy="-4.8" dx="0.3" font-size="6.2">INK4d</tspan><tspan dy="4.8" dx="1.5">shRNA-1</tspan></text>
<rect x="269.80" y="65.10" width="13.00" height="6.80" fill="#5af02e" />
<text x="287.60" y="71.50" font-size="8.6" text-anchor="start" font-weight="normal" fill="#111" stroke="#111" stroke-width="0.2" >p19<tspan dy="-4.8" dx="0.3" font-size="6.2">INK4d</tspan><tspan dy="4.8" dx="1.5">shRNA-2</tspan></text>
<rect x="267.60" y="115.25" width="8.60" height="76.55" fill="#c80412" />
<line x1="281.30" y1="167.69" x2="281.30" y2="165.62" stroke="#111" stroke-width="1.2" />
<line x1="278.20" y1="165.62" x2="284.40" y2="165.62" stroke="#111" stroke-width="1.2" />
<rect x="277.00" y="167.69" width="8.60" height="24.11" fill="#0e288c" />
<text x="281.30" y="165.22" font-size="7.6" text-anchor="middle" fill="#222">***</text>
<line x1="290.70" y1="176.11" x2="290.70" y2="173.81" stroke="#111" stroke-width="1.2" />
<line x1="287.60" y1="173.81" x2="293.80" y2="173.81" stroke="#111" stroke-width="1.2" />
<rect x="286.40" y="176.11" width="8.60" height="15.69" fill="#5af02e" />
<text x="290.70" y="173.41" font-size="7.6" text-anchor="middle" fill="#222">***</text>
<line x1="281.30" y1="191.80" x2="281.30" y2="195.20" stroke="#111" stroke-width="1.2" />
<text x="281.30" y="207.60" font-size="9.1" text-anchor="middle" font-weight="normal" fill="#111" stroke="#111" stroke-width="0.2" >GATA1</text>
<rect x="303.05" y="115.25" width="8.60" height="76.55" fill="#c80412" />
<line x1="316.75" y1="153.53" x2="316.75" y2="148.17" stroke="#111" stroke-width="1.2" />
<line x1="313.65" y1="148.17" x2="319.85" y2="148.17" stroke="#111" stroke-width="1.2" />
<rect x="312.45" y="153.53" width="8.60" height="38.28" fill="#0e288c" />
<text x="316.75" y="147.77" font-size="7.6" text-anchor="middle" fill="#222">***</text>
<line x1="326.15" y1="163.09" x2="326.15" y2="160.41" stroke="#111" stroke-width="1.2" />
<line x1="323.05" y1="160.41" x2="329.25" y2="160.41" stroke="#111" stroke-width="1.2" />
<rect x="321.85" y="163.09" width="8.60" height="28.71" fill="#5af02e" />
<text x="326.15" y="160.01" font-size="7.6" text-anchor="middle" fill="#222">***</text>
<line x1="316.75" y1="191.80" x2="316.75" y2="195.20" stroke="#111" stroke-width="1.2" />
<text x="316.75" y="207.60" font-size="9.1" text-anchor="middle" font-weight="normal" fill="#111" stroke="#111" stroke-width="0.2" >4.1R</text>
<rect x="338.50" y="115.25" width="8.60" height="76.55" fill="#c80412" />
<line x1="352.20" y1="168.07" x2="352.20" y2="166.92" stroke="#111" stroke-width="1.2" />
<line x1="349.10" y1="166.92" x2="355.30" y2="166.92" stroke="#111" stroke-width="1.2" />
<rect x="347.90" y="168.07" width="8.60" height="23.73" fill="#0e288c" />
<text x="352.20" y="166.52" font-size="7.6" text-anchor="middle" fill="#222">***</text>
<line x1="361.60" y1="176.49" x2="361.60" y2="170.37" stroke="#111" stroke-width="1.2" />
<line x1="358.50" y1="170.37" x2="364.70" y2="170.37" stroke="#111" stroke-width="1.2" />
<rect x="357.30" y="176.49" width="8.60" height="15.31" fill="#5af02e" />
<text x="361.60" y="169.97" font-size="7.6" text-anchor="middle" fill="#222">**</text>
<line x1="352.20" y1="191.80" x2="352.20" y2="195.20" stroke="#111" stroke-width="1.2" />
<text x="352.20" y="207.60" font-size="9.1" text-anchor="middle" font-weight="normal" fill="#111" stroke="#111" stroke-width="0.2" >Tmod</text>
<rect x="373.95" y="115.25" width="8.60" height="76.55" fill="#c80412" />
<line x1="387.65" y1="143.19" x2="387.65" y2="133.24" stroke="#111" stroke-width="1.2" />
<line x1="384.55" y1="133.24" x2="390.75" y2="133.24" stroke="#111" stroke-width="1.2" />
<rect x="383.35" y="143.19" width="8.60" height="48.61" fill="#0e288c" />
<text x="387.65" y="132.84" font-size="7.6" text-anchor="middle" fill="#222">*</text>
<line x1="397.05" y1="156.97" x2="397.05" y2="150.46" stroke="#111" stroke-width="1.2" />
<line x1="393.95" y1="150.46" x2="400.15" y2="150.46" stroke="#111" stroke-width="1.2" />
<rect x="392.75" y="156.97" width="8.60" height="34.83" fill="#5af02e" />
<text x="397.05" y="150.06" font-size="7.6" text-anchor="middle" fill="#222">***</text>
<line x1="387.65" y1="191.80" x2="387.65" y2="195.20" stroke="#111" stroke-width="1.2" />
<text x="387.65" y="207.60" font-size="9.1" text-anchor="middle" font-weight="normal" fill="#111" stroke="#111" stroke-width="0.2" >HBG</text>
<rect x="409.40" y="115.25" width="8.60" height="76.55" fill="#c80412" />
<line x1="423.10" y1="82.72" x2="423.10" y2="73.53" stroke="#111" stroke-width="1.2" />
<line x1="420.00" y1="73.53" x2="426.20" y2="73.53" stroke="#111" stroke-width="1.2" />
<rect x="418.80" y="82.72" width="8.60" height="109.08" fill="#0e288c" />
<text x="423.10" y="73.13" font-size="7.6" text-anchor="middle" fill="#222">*</text>
<line x1="432.50" y1="88.07" x2="432.50" y2="83.86" stroke="#111" stroke-width="1.2" />
<line x1="429.40" y1="83.86" x2="435.60" y2="83.86" stroke="#111" stroke-width="1.2" />
<rect x="428.20" y="88.07" width="8.60" height="103.73" fill="#5af02e" />
<text x="432.50" y="83.46" font-size="7.6" text-anchor="middle" fill="#222">*</text>
<line x1="423.10" y1="191.80" x2="423.10" y2="195.20" stroke="#111" stroke-width="1.2" />
<text x="423.10" y="207.60" font-size="9.1" text-anchor="middle" font-weight="normal" fill="#111" stroke="#111" stroke-width="0.2" >p18<tspan dy="-3.8" dx="0.3" font-size="6.2">INK4c</tspan></text>
<rect x="444.85" y="115.25" width="8.60" height="76.55" fill="#c80412" />
<line x1="458.55" y1="107.82" x2="458.55" y2="95.19" stroke="#111" stroke-width="1.2" />
<line x1="455.45" y1="95.19" x2="461.65" y2="95.19" stroke="#111" stroke-width="1.2" />
<rect x="454.25" y="107.82" width="8.60" height="83.98" fill="#0e288c" />
<line x1="467.95" y1="104.15" x2="467.95" y2="91.90" stroke="#111" stroke-width="1.2" />
<line x1="464.85" y1="91.90" x2="471.05" y2="91.90" stroke="#111" stroke-width="1.2" />
<rect x="463.65" y="104.15" width="8.60" height="87.65" fill="#5af02e" />
<line x1="458.55" y1="191.80" x2="458.55" y2="195.20" stroke="#111" stroke-width="1.2" />
<text x="458.55" y="207.60" font-size="9.1" text-anchor="middle" font-weight="normal" fill="#111" stroke="#111" stroke-width="0.2" >KLF1</text>
<rect x="480.30" y="115.25" width="8.60" height="76.55" fill="#c80412" />
<line x1="494.00" y1="104.30" x2="494.00" y2="98.18" stroke="#111" stroke-width="1.2" />
<line x1="490.90" y1="98.18" x2="497.10" y2="98.18" stroke="#111" stroke-width="1.2" />
<rect x="489.70" y="104.30" width="8.60" height="87.50" fill="#0e288c" />
<line x1="503.40" y1="109.66" x2="503.40" y2="90.52" stroke="#111" stroke-width="1.2" />
<line x1="500.30" y1="90.52" x2="506.50" y2="90.52" stroke="#111" stroke-width="1.2" />
<rect x="499.10" y="109.66" width="8.60" height="82.14" fill="#5af02e" />
<line x1="494.00" y1="191.80" x2="494.00" y2="195.20" stroke="#111" stroke-width="1.2" />
<text x="494.00" y="207.60" font-size="9.1" text-anchor="middle" font-weight="normal" fill="#111" stroke="#111" stroke-width="0.2" >CD44</text>
<line x1="264.00" y1="35.40" x2="264.00" y2="192.50" stroke="#000" stroke-width="1.5" />
<line x1="263.30" y1="191.80" x2="511.00" y2="191.80" stroke="#000" stroke-width="1.5" />
<line x1="260.00" y1="191.80" x2="264.00" y2="191.80" stroke="#111" stroke-width="1.2" />
<text x="257.40" y="195.10" font-size="9.1" text-anchor="end" font-weight="normal" fill="#111" stroke="#111" stroke-width="0.2" >0.0</text>
<line x1="260.00" y1="153.53" x2="264.00" y2="153.53" stroke="#111" stroke-width="1.2" />
<text x="257.40" y="156.83" font-size="9.1" text-anchor="end" font-weight="normal" fill="#111" stroke="#111" stroke-width="0.2" >0.5</text>
<line x1="260.00" y1="115.25" x2="264.00" y2="115.25" stroke="#111" stroke-width="1.2" />
<text x="257.40" y="118.55" font-size="9.1" text-anchor="end" font-weight="normal" fill="#111" stroke="#111" stroke-width="0.2" >1.0</text>
<line x1="260.00" y1="76.98" x2="264.00" y2="76.98" stroke="#111" stroke-width="1.2" />
<text x="257.40" y="80.28" font-size="9.1" text-anchor="end" font-weight="normal" fill="#111" stroke="#111" stroke-width="0.2" >1.5</text>
<line x1="260.00" y1="38.70" x2="264.00" y2="38.70" stroke="#111" stroke-width="1.2" />
<text x="257.40" y="42.00" font-size="9.1" text-anchor="end" font-weight="normal" fill="#111" stroke="#111" stroke-width="0.2" >2.0</text>
<text transform="translate(238.80,119.60) rotate(-90)" font-size="11.4" text-anchor="middle" fill="#111" stroke="#111" stroke-width="0.12" textLength="95.5" lengthAdjust="spacingAndGlyphs">Relative protein levels</text>
<rect x="70.00" y="275.80" width="18.20" height="6.80" fill="#c80412" />
<text x="93.20" y="282.20" font-size="8.6" text-anchor="start" font-weight="normal" fill="#111" stroke="#111" stroke-width="0.2" >Lucif shRNA</text>
<rect x="70.00" y="294.00" width="18.20" height="6.80" fill="#0e288c" />
<text x="93.20" y="300.40" font-size="8.6" text-anchor="start" font-weight="normal" fill="#111" stroke="#111" stroke-width="0.2" >p19<tspan dy="-4.8" dx="0.3" font-size="6.2">INK4d</tspan><tspan dy="4.8" dx="1.5">shRNA-1</tspan></text>
<rect x="70.00" y="312.40" width="18.20" height="6.80" fill="#5af02e" />
<text x="93.20" y="318.80" font-size="8.6" text-anchor="start" font-weight="normal" fill="#111" stroke="#111" stroke-width="0.2" >p19<tspan dy="-4.8" dx="0.3" font-size="6.2">INK4d</tspan><tspan dy="4.8" dx="1.5">shRNA-2</tspan></text>
<rect x="67.40" y="354.83" width="34.70" height="94.17" fill="#c80412" />
<line x1="135.90" y1="352.02" x2="135.90" y2="339.84" stroke="#111" stroke-width="1.5" />
<line x1="126.70" y1="339.84" x2="145.10" y2="339.84" stroke="#111" stroke-width="1.5" />
<rect x="118.50" y="352.02" width="34.80" height="96.98" fill="#0e288c" />
<line x1="186.70" y1="345.93" x2="186.70" y2="333.75" stroke="#111" stroke-width="1.5" />
<line x1="177.50" y1="333.75" x2="195.90" y2="333.75" stroke="#111" stroke-width="1.5" />
<rect x="169.70" y="345.93" width="34.00" height="103.07" fill="#5af02e" />
<line x1="59.50" y1="306.40" x2="59.50" y2="449.70" stroke="#000" stroke-width="1.5" />
<line x1="58.80" y1="449.00" x2="211.30" y2="449.00" stroke="#000" stroke-width="1.5" />
<line x1="135.80" y1="449.00" x2="135.80" y2="453.00" stroke="#111" stroke-width="1.2" />
<line x1="55.50" y1="449.00" x2="59.50" y2="449.00" stroke="#111" stroke-width="1.2" />
<text x="53.40" y="452.30" font-size="9.1" text-anchor="end" font-weight="normal" fill="#111" stroke="#111" stroke-width="0.2" >0.0</text>
<line x1="55.50" y1="402.15" x2="59.50" y2="402.15" stroke="#111" stroke-width="1.2" />
<text x="53.40" y="405.45" font-size="9.1" text-anchor="end" font-weight="normal" fill="#111" stroke="#111" stroke-width="0.2" >0.5</text>
<line x1="55.50" y1="355.30" x2="59.50" y2="355.30" stroke="#111" stroke-width="1.2" />
<text x="53.40" y="358.60" font-size="9.1" text-anchor="end" font-weight="normal" fill="#111" stroke="#111" stroke-width="0.2" >1.0</text>
<line x1="55.50" y1="308.45" x2="59.50" y2="308.45" stroke="#111" stroke-width="1.2" />
<text x="53.40" y="311.75" font-size="9.1" text-anchor="end" font-weight="normal" fill="#111" stroke="#111" stroke-width="0.2" >1.5</text>
<text transform="translate(34.20,378.60) rotate(-90)" font-size="11.4" text-anchor="middle" fill="#111" stroke="#111" stroke-width="0.12" textLength="125" lengthAdjust="spacingAndGlyphs">Relative GATA1 mRNA levels</text>
<text x="297.00" y="262.70" font-size="9.0" text-anchor="middle" font-weight="normal" fill="#111" stroke="#111" stroke-width="0.2" >D9</text>
<text x="391.20" y="262.70" font-size="9.0" text-anchor="middle" font-weight="normal" fill="#111" stroke="#111" stroke-width="0.2" >D15</text>
<path d="M263.9 323.8 L266.5 324.0 L270.4 323.1 L275.0 322.3 L278.1 320.3 L281.2 320.8 L282.7 319.2 L285.8 319.7 L289.6 318.2 L293.5 318.9 L297.3 317.7 L301.2 316.2 L304.2 313.1 L305.8 309.5 L308.1 308.5 L309.6 304.6 L311.2 300.0 L312.2 296.2 L313.5 294.6 L314.2 289.2 L315.3 276.9 L316.5 276.2 L318.1 279.2 L320.4 287.7 L321.6 296.9 L322.7 318.5 L324.2 323.1 L327.3 325.4 L329.6 326.3" fill="none" stroke="#12128a" stroke-width="1.9" stroke-linejoin="round" stroke-linecap="round"/>
<path d="M265.2 272.8 V275.1 H292.6 V272.5 H329 " fill="none" stroke="#111" stroke-width="1.1"/>
<text x="266.20" y="273.70" font-size="4.0" text-anchor="start" font-weight="normal" fill="#333" stroke="#333" stroke-width="0.08" textLength="13.2" lengthAdjust="spacingAndGlyphs">16.3%</text>
<text x="314.20" y="271.50" font-size="4.2" text-anchor="start" font-weight="normal" fill="#333" stroke="#333" stroke-width="0.08" textLength="13.6" lengthAdjust="spacingAndGlyphs">83.7%</text>
<text x="295.00" y="279.00" font-size="5.0" text-anchor="start" font-weight="normal" fill="#c04848" stroke="#c04848" stroke-width="0.08" textLength="32" lengthAdjust="spacingAndGlyphs">82.4 ± 8.0%</text>
<rect x="264.0" y="266.9" width="65.6" height="59.6" fill="none" stroke="#000" stroke-width="1.5"/>
<line x1="263.1" y1="267.9" x2="263.1" y2="326.5" stroke="#111" stroke-width="0.9" stroke-dasharray="0.8 0.6"/>
<rect x="263.3" y="326.5" width="67.0" height="3.0" fill="#0c0c0c"/>
<line x1="266.0" y1="328.2" x2="328.6" y2="328.2" stroke="#fff" stroke-width="0.9" stroke-dasharray="1.6 1.2 0.7 2.4 0.5 3.0 2.0 0.9 0.6 2.2 0.5 2.8" opacity="0.8"/>
<line x1="261.00" y1="271.80" x2="264.00" y2="271.80" stroke="#111" stroke-width="1.1" />
<text x="259.60" y="274.60" font-size="6.9" text-anchor="end" font-weight="normal" fill="#111" stroke="#111" stroke-width="0.08" >80</text>
<line x1="261.00" y1="285.50" x2="264.00" y2="285.50" stroke="#111" stroke-width="1.1" />
<text x="259.60" y="288.30" font-size="6.9" text-anchor="end" font-weight="normal" fill="#111" stroke="#111" stroke-width="0.08" >60</text>
<line x1="261.00" y1="299.30" x2="264.00" y2="299.30" stroke="#111" stroke-width="1.1" />
<text x="259.60" y="302.10" font-size="6.9" text-anchor="end" font-weight="normal" fill="#111" stroke="#111" stroke-width="0.08" >40</text>
<line x1="261.00" y1="313.00" x2="264.00" y2="313.00" stroke="#111" stroke-width="1.1" />
<text x="259.60" y="315.80" font-size="6.9" text-anchor="end" font-weight="normal" fill="#111" stroke="#111" stroke-width="0.08" >20</text>
<line x1="261.00" y1="326.50" x2="264.00" y2="326.50" stroke="#111" stroke-width="1.1" />
<text x="259.60" y="329.30" font-size="6.9" text-anchor="end" font-weight="normal" fill="#111" stroke="#111" stroke-width="0.08" >0</text>
<path d="M263.9 375.8 L266.5 376.5 L268.8 373.9 L271.2 369.9 L272.7 371.9 L275.0 367.3 L276.5 368.8 L278.1 365.8 L279.6 369.6 L281.2 361.9 L282.7 359.6 L283.9 347.3 L285.8 346.5 L287.6 343.8 L288.8 348.1 L290.4 355.8 L291.9 353.5 L293.5 358.1 L294.7 356.5 L296.2 361.2 L298.1 360.1 L300.4 359.6 L301.9 355.8 L303.5 356.5 L305.0 352.7 L306.5 354.2 L308.1 350.4 L309.2 353.5 L310.7 348.4 L311.9 357.3 L313.2 361.2 L314.2 359.6 L315.8 361.9 L317.3 365.0 L318.8 374.2 L319.9 383.5 L321.2 386.5 L322.7 388.8 L323.6 389.3" fill="none" stroke="#12128a" stroke-width="1.9" stroke-linejoin="round" stroke-linecap="round"/>
<path d="M265.2 335.5 V338.1 H292.6 V335.2 H329 " fill="none" stroke="#111" stroke-width="1.1"/>
<text x="266.20" y="336.70" font-size="4.0" text-anchor="start" font-weight="normal" fill="#333" stroke="#333" stroke-width="0.08" textLength="13.2" lengthAdjust="spacingAndGlyphs">52.0%</text>
<text x="314.20" y="334.20" font-size="4.2" text-anchor="start" font-weight="normal" fill="#333" stroke="#333" stroke-width="0.08" textLength="13.6" lengthAdjust="spacingAndGlyphs">48.0%</text>
<text x="295.00" y="342.00" font-size="5.0" text-anchor="start" font-weight="normal" fill="#c04848" stroke="#c04848" stroke-width="0.08" textLength="32" lengthAdjust="spacingAndGlyphs">52.0 ± 7.2%</text>
<rect x="264.0" y="330.8" width="65.6" height="58.5" fill="none" stroke="#000" stroke-width="1.5"/>
<line x1="263.1" y1="331.8" x2="263.1" y2="389.3" stroke="#111" stroke-width="0.9" stroke-dasharray="0.8 0.6"/>
<rect x="263.3" y="389.3" width="67.0" height="3.0" fill="#0c0c0c"/>
<line x1="266.0" y1="391.0" x2="328.6" y2="391.0" stroke="#fff" stroke-width="0.9" stroke-dasharray="1.6 1.2 0.7 2.4 0.5 3.0 2.0 0.9 0.6 2.2 0.5 2.8" opacity="0.8"/>
<line x1="261.00" y1="340.00" x2="264.00" y2="340.00" stroke="#111" stroke-width="1.1" />
<text x="259.60" y="342.80" font-size="6.9" text-anchor="end" font-weight="normal" fill="#111" stroke="#111" stroke-width="0.08" >30</text>
<line x1="261.00" y1="357.00" x2="264.00" y2="357.00" stroke="#111" stroke-width="1.1" />
<text x="259.60" y="359.80" font-size="6.9" text-anchor="end" font-weight="normal" fill="#111" stroke="#111" stroke-width="0.08" >20</text>
<line x1="261.00" y1="373.20" x2="264.00" y2="373.20" stroke="#111" stroke-width="1.1" />
<text x="259.60" y="376.00" font-size="6.9" text-anchor="end" font-weight="normal" fill="#111" stroke="#111" stroke-width="0.08" >10</text>
<line x1="261.00" y1="389.30" x2="264.00" y2="389.30" stroke="#111" stroke-width="1.1" />
<text x="259.60" y="392.10" font-size="6.9" text-anchor="end" font-weight="normal" fill="#111" stroke="#111" stroke-width="0.08" >0</text>
<path d="M263.8 446.8 L267.0 448.5 L270.2 449.1 L272.3 448.0 L274.4 449.1 L277.6 447.4 L279.7 446.3 L281.8 447.4 L283.9 445.3 L286.1 444.2 L288.2 442.1 L290.3 440.4 L292.4 438.9 L294.5 435.8 L296.0 430.5 L297.7 426.3 L299.4 419.9 L300.9 412.5 L301.9 407.2 L303.0 413.6 L304.0 408.3 L305.5 405.7 L306.8 410.4 L308.3 409.3 L310.0 414.6 L312.5 427.3 L314.6 437.9 L317.2 447.4 L319.1 452.7" fill="none" stroke="#12128a" stroke-width="1.9" stroke-linejoin="round" stroke-linecap="round"/>
<path d="M265.2 398.9 V401.6 H292.6 V398.6 H329 " fill="none" stroke="#111" stroke-width="1.1"/>
<text x="266.20" y="400.20" font-size="4.0" text-anchor="start" font-weight="normal" fill="#333" stroke="#333" stroke-width="0.08" textLength="13.2" lengthAdjust="spacingAndGlyphs">21.2%</text>
<text x="314.20" y="397.60" font-size="4.2" text-anchor="start" font-weight="normal" fill="#333" stroke="#333" stroke-width="0.08" textLength="13.6" lengthAdjust="spacingAndGlyphs">78.8%</text>
<text x="295.00" y="405.50" font-size="5.0" text-anchor="start" font-weight="normal" fill="#c04848" stroke="#c04848" stroke-width="0.08" textLength="32" lengthAdjust="spacingAndGlyphs">77.8 ± 1.1%</text>
<rect x="264.0" y="393.5" width="65.6" height="59.2" fill="none" stroke="#000" stroke-width="1.5"/>
<line x1="263.1" y1="394.5" x2="263.1" y2="452.7" stroke="#111" stroke-width="0.9" stroke-dasharray="0.8 0.6"/>
<rect x="263.3" y="452.7" width="67.0" height="3.0" fill="#0c0c0c"/>
<line x1="266.0" y1="454.4" x2="328.6" y2="454.4" stroke="#fff" stroke-width="0.9" stroke-dasharray="1.6 1.2 0.7 2.4 0.5 3.0 2.0 0.9 0.6 2.2 0.5 2.8" opacity="0.8"/>
<line x1="261.00" y1="398.10" x2="264.00" y2="398.10" stroke="#111" stroke-width="1.1" />
<text x="259.60" y="400.90" font-size="6.9" text-anchor="end" font-weight="normal" fill="#111" stroke="#111" stroke-width="0.08" >60</text>
<line x1="261.00" y1="416.70" x2="264.00" y2="416.70" stroke="#111" stroke-width="1.1" />
<text x="259.60" y="419.50" font-size="6.9" text-anchor="end" font-weight="normal" fill="#111" stroke="#111" stroke-width="0.08" >40</text>
<line x1="261.00" y1="434.30" x2="264.00" y2="434.30" stroke="#111" stroke-width="1.1" />
<text x="259.60" y="437.10" font-size="6.9" text-anchor="end" font-weight="normal" fill="#111" stroke="#111" stroke-width="0.08" >20</text>
<line x1="261.00" y1="452.70" x2="264.00" y2="452.70" stroke="#111" stroke-width="1.1" />
<text x="259.60" y="455.50" font-size="6.9" text-anchor="end" font-weight="normal" fill="#111" stroke="#111" stroke-width="0.08" >0</text>
<text x="268.60" y="464.20" font-size="7.0" text-anchor="middle" font-weight="normal" fill="#111" stroke="#111" stroke-width="0.2" >0</text>
<text x="273.20" y="464.20" font-size="7.0" text-anchor="start" font-weight="normal" fill="#111" stroke="#111" stroke-width="0.2" >10<tspan dy="-2.4" font-size="4.4">2</tspan></text>
<text x="287.60" y="464.20" font-size="7.0" text-anchor="start" font-weight="normal" fill="#111" stroke="#111" stroke-width="0.2" >10<tspan dy="-2.4" font-size="4.4">3</tspan></text>
<text x="303.20" y="464.20" font-size="7.0" text-anchor="start" font-weight="normal" fill="#111" stroke="#111" stroke-width="0.2" >10<tspan dy="-2.4" font-size="4.4">4</tspan></text>
<text x="318.60" y="464.20" font-size="7.0" text-anchor="start" font-weight="normal" fill="#111" stroke="#111" stroke-width="0.2" >10<tspan dy="-2.4" font-size="4.4">5</tspan></text>
<text x="268.3" y="479.7" font-size="11.4" textLength="18.5" lengthAdjust="spacingAndGlyphs" fill="#111">GPA</text>
<line x1="297.20" y1="476.00" x2="323.00" y2="476.00" stroke="#111" stroke-width="1.6" />
<path d="M319.8 472.4 L327.8 476.0 L319.8 479.6 L322.0 476.0 Z" fill="#111"/>
<text transform="translate(245.40,442.80) rotate(-90)" font-size="11.4" text-anchor="middle" fill="#111" stroke="#111" stroke-width="0.12" textLength="25" lengthAdjust="spacingAndGlyphs">Count</text>
<line x1="242.90" y1="419.50" x2="242.90" y2="394.50" stroke="#111" stroke-width="1.6" />
<path d="M239.3 397.7 L242.9 389.7 L246.5 397.7 L242.9 395.5 Z" fill="#111"/>
<clipPath id="s267"><rect x="357.6" y="267.4" width="66.3" height="48.7"/></clipPath>
<g clip-path="url(#s267)">
<path d="M400.6 292.4 L405.6 291.0 L411.0 297.6 L411.6 315.5 L404.8 315.5 L401.4 302.0Z" fill="#1010f4" stroke="#1010f4" stroke-width="0.4" stroke-linejoin="round" opacity="0.92" filter="url(#bs)"/>
<path d="M400.2 291.8 L405.8 290.4 L411.6 297.4 L412.2 315.5 L404.2 315.5 L401.0 302.0Z" fill="#1010f4" stroke="#1010f4" stroke-width="5" stroke-linejoin="round" opacity="0.12" filter="url(#bs)"/>
<path d="M405.9 307.6h.6M405.2 300.3h.6M402.6 301.5h.6M411.1 306.3h.6M410.7 304.8h.6M408.1 304.5h.6M400.7 311.2h.6M408.8 307.2h.6M398.2 288.4h.6M402.5 299.3h.6M407.5 302.5h.6M407.8 297.2h.6M408.0 306.3h.6M405.4 315.5h.6M400.9 297.4h.6M403.8 311.3h.6M407.8 304.0h.6M409.3 315.5h.6M403.7 306.7h.6M402.2 298.5h.6M405.8 315.3h.6M407.8 314.4h.6M398.3 301.0h.6M405.2 295.9h.6M408.3 302.3h.6M401.5 310.8h.6M409.9 311.0h.6M412.3 305.6h.6M405.7 291.6h.6M408.2 297.4h.6M403.5 292.1h.6M402.2 298.7h.6M409.5 284.7h.6M401.0 305.7h.6M412.5 307.5h.6M396.7 281.7h.6M407.1 296.4h.6M403.0 312.0h.6M410.8 303.9h.6M407.8 306.7h.6M413.2 307.8h.6M408.9 307.6h.6M401.5 314.9h.6M410.6 307.2h.6M398.2 298.3h.6M408.0 286.8h.6M406.6 312.0h.6M402.8 315.1h.6M408.3 307.3h.6M407.4 309.3h.6M401.4 304.6h.6M406.5 303.8h.6M403.6 307.4h.6M396.7 295.2h.6M403.7 293.4h.6M401.2 294.6h.6M414.9 308.4h.6M406.0 285.3h.6M406.7 294.5h.6M405.2 305.6h.6M405.2 300.8h.6M409.1 305.2h.6M409.0 309.6h.6M406.5 303.1h.6M407.8 306.2h.6M406.0 304.6h.6M409.3 294.0h.6M408.7 308.2h.6M405.0 310.0h.6M413.1 314.3h.6M410.7 302.1h.6M404.8 303.5h.6M409.7 307.5h.6M407.4 315.5h.6M416.2 305.1h.6M404.2 302.4h.6M405.5 302.5h.6M395.4 299.9h.6M409.2 292.4h.6M407.0 311.4h.6M411.1 315.3h.6M406.2 295.2h.6M409.3 315.1h.6M409.3 289.9h.6M407.7 289.7h.6M408.2 313.4h.6M406.0 304.7h.6M409.6 303.9h.6M407.5 315.1h.6M398.5 310.6h.6M415.9 300.4h.6M405.1 307.8h.6M407.4 308.7h.6M409.2 314.6h.6M411.4 292.5h.6M401.0 305.2h.6M406.5 299.4h.6M400.2 287.2h.6M406.2 288.6h.6M404.1 304.0h.6M406.4 295.3h.6M407.3 280.5h.6M403.8 308.7h.6M411.8 297.8h.6M407.8 306.9h.6M412.9 315.2h.6M412.2 315.6h.6M411.9 300.8h.6M404.5 312.2h.6M407.0 304.0h.6M411.7 300.1h.6M397.1 300.5h.6M400.0 310.9h.6M407.1 297.5h.6M407.1 310.3h.6M407.9 314.6h.6M407.1 312.1h.6M413.7 315.4h.6M401.8 306.5h.6M409.2 297.5h.6M409.8 297.5h.6M401.5 301.4h.6M410.7 303.7h.6M406.6 303.7h.6M406.6 297.8h.6M400.5 306.0h.6M402.9 300.6h.6M401.4 302.2h.6M406.4 298.9h.6M403.4 300.8h.6M406.8 315.3h.6M399.7 298.0h.6M409.5 297.7h.6M402.2 296.6h.6M400.4 302.6h.6M402.2 306.7h.6M397.5 306.8h.6M402.1 286.3h.6M409.0 300.3h.6M396.9 296.3h.6M407.1 298.9h.6M410.1 309.2h.6M409.3 305.6h.6M412.2 308.2h.6M406.2 284.6h.6M411.1 314.1h.6M404.8 299.0h.6M412.3 286.8h.6M410.4 315.4h.6M394.9 306.4h.6M407.1 298.4h.6M402.6 307.8h.6M405.6 308.0h.6M405.1 315.6h.6M402.1 300.3h.6M410.0 303.5h.6M402.3 296.0h.6M417.8 311.9h.6M406.5 280.0h.6M409.3 307.0h.6M413.3 306.1h.6M406.6 307.6h.6M399.8 312.8h.6M407.0 296.7h.6M413.2 315.3h.6M405.5 299.4h.6M412.4 307.1h.6M405.2 304.7h.6M411.0 297.8h.6M406.6 299.5h.6M407.0 300.4h.6M408.4 295.4h.6M404.8 312.7h.6M408.8 299.6h.6M410.5 310.4h.6M407.0 307.2h.6M407.3 305.3h.6M408.2 310.1h.6M405.6 315.5h.6M404.0 303.3h.6M406.1 304.4h.6M406.6 304.5h.6M404.7 292.0h.6M409.0 312.0h.6M407.9 301.2h.6M407.2 294.4h.6M399.1 304.3h.6M403.5 309.9h.6M399.8 280.4h.6M403.8 315.2h.6M403.1 296.6h.6M405.9 305.5h.6M407.7 305.3h.6M405.5 296.3h.6M407.6 306.1h.6M409.1 287.7h.6M404.2 296.9h.6M407.3 310.3h.6M404.3 304.5h.6M403.8 305.6h.6M415.9 296.4h.6M403.4 301.4h.6M409.5 301.0h.6M406.3 303.3h.6M403.9 310.1h.6M403.8 303.2h.6M406.0 303.0h.6M406.6 306.8h.6M405.6 304.6h.6M409.8 303.7h.6M408.2 314.5h.6M399.8 301.0h.6M401.8 291.7h.6M408.6 296.7h.6M403.6 315.5h.6M404.2 290.7h.6M414.0 306.8h.6M409.8 294.8h.6M404.0 287.2h.6M410.3 310.9h.6M399.0 303.3h.6M407.2 287.3h.6M398.3 294.4h.6M402.7 291.0h.6M406.8 305.2h.6M409.5 308.9h.6M413.3 312.6h.6M400.8 299.1h.6M401.3 294.0h.6M406.1 303.1h.6M406.8 288.9h.6M401.6 303.3h.6M405.3 300.4h.6M405.5 296.4h.6M409.4 305.8h.6M405.4 297.2h.6M403.2 279.3h.6M402.6 303.7h.6M400.7 305.4h.6M405.7 290.9h.6M405.1 300.4h.6M408.7 308.2h.6M405.5 295.6h.6M405.8 302.5h.6M409.5 305.3h.6M402.4 291.4h.6M404.3 296.7h.6M402.0 302.4h.6M404.6 304.1h.6M408.0 299.2h.6M415.1 299.2h.6M410.8 303.6h.6M408.5 281.8h.6M403.7 305.5h.6M410.9 315.5h.6M404.3 300.8h.6M396.6 300.7h.6M412.5 314.5h.6M398.2 302.8h.6M404.9 297.0h.6M409.3 296.6h.6M406.7 303.1h.6M402.2 303.9h.6M406.2 307.6h.6M405.2 309.5h.6M406.5 302.6h.6M404.7 286.3h.6M414.3 315.2h.6M408.6 298.5h.6M404.4 309.6h.6M411.6 302.4h.6M404.5 310.4h.6M406.5 305.7h.6M413.3 312.3h.6M406.5 315.5h.6M407.0 313.5h.6M408.6 310.7h.6M413.6 297.2h.6M407.3 291.3h.6M413.2 291.4h.6M400.1 299.4h.6M412.9 306.7h.6M400.7 308.1h.6M403.8 297.5h.6M415.5 308.2h.6M410.2 309.8h.6M405.2 309.3h.6M403.2 279.2h.6M407.4 315.4h.6M402.4 300.3h.6M408.0 307.4h.6M410.5 315.4h.6M409.9 315.1h.6M404.5 304.7h.6M407.4 306.5h.6M405.8 306.3h.6M407.3 309.7h.6M398.2 296.0h.6M405.4 294.0h.6M402.9 308.9h.6M404.5 308.8h.6M409.6 305.4h.6M408.3 301.9h.6M400.9 303.3h.6M407.7 298.2h.6M406.7 309.6h.6M403.6 309.0h.6M413.1 297.4h.6M406.8 301.6h.6M412.7 305.1h.6M409.2 296.6h.6M406.3 302.9h.6M400.8 315.2h.6M410.8 283.9h.6M406.9 307.2h.6M410.0 311.5h.6M400.6 284.4h.6M404.1 290.7h.6M405.8 293.3h.6M405.3 302.3h.6M406.3 296.7h.6M410.7 296.4h.6M406.2 307.4h.6M407.6 315.5h.6M405.4 299.0h.6M411.2 307.1h.6M402.6 299.0h.6M408.5 314.6h.6M409.7 303.1h.6M397.5 309.4h.6M399.9 289.2h.6M403.7 304.3h.6M408.9 315.2h.6M406.3 304.7h.6M400.6 303.7h.6M404.1 306.5h.6M400.2 286.2h.6M406.8 305.3h.6M405.1 311.0h.6M404.8 297.8h.6M406.8 289.1h.6M403.8 303.1h.6M409.5 301.2h.6M407.0 297.1h.6M409.1 315.5h.6M410.4 299.5h.6M408.1 308.6h.6M402.1 310.0h.6M408.3 301.2h.6M404.7 307.0h.6M408.4 302.0h.6M407.8 303.9h.6M401.1 315.3h.6M410.1 293.0h.6M415.3 301.7h.6M405.7 308.1h.6M411.7 296.7h.6M412.3 305.0h.6M404.3 309.1h.6M405.7 307.8h.6M409.6 302.8h.6M402.5 315.5h.6M408.8 301.4h.6M403.3 315.2h.6M405.4 304.3h.6M402.9 304.8h.6M408.3 300.0h.6M402.4 315.6h.6M401.3 312.1h.6M406.3 300.5h.6M407.8 303.5h.6M408.7 299.5h.6M404.3 284.3h.6M405.4 309.1h.6M411.2 299.3h.6M407.4 315.4h.6M406.4 303.8h.6M404.7 283.5h.6M398.6 288.0h.6M409.3 303.7h.6M397.2 307.4h.6M409.8 300.1h.6M407.3 312.3h.6M397.6 304.8h.6M410.8 315.2h.6M407.9 289.2h.6M403.2 298.4h.6M405.6 310.7h.6M406.4 299.5h.6M410.0 315.5h.6M407.4 303.8h.6M402.9 300.8h.6M414.1 299.9h.6M409.4 302.2h.6M408.1 304.8h.6M400.3 303.8h.6M403.9 305.4h.6M402.4 309.6h.6M402.1 290.4h.6M408.6 292.0h.6M413.0 314.0h.6M406.2 314.0h.6M403.0 313.7h.6M408.0 309.2h.6M407.0 308.0h.6M409.4 294.9h.6M405.4 311.0h.6M411.0 302.0h.6M408.9 315.3h.6M408.2 302.6h.6M399.6 306.3h.6M409.3 286.2h.6M409.7 304.5h.6M408.6 306.7h.6M411.3 300.5h.6M409.4 299.1h.6M408.5 295.6h.6M407.6 315.1h.6M411.3 309.8h.6M404.0 299.0h.6M405.3 306.7h.6M407.9 309.3h.6M401.0 296.0h.6M406.7 304.3h.6M404.9 314.9h.6M408.5 309.8h.6M410.0 315.3h.6M408.2 304.4h.6M403.2 310.2h.6M405.0 300.2h.6M410.7 314.2h.6M404.1 307.1h.6M405.1 315.4h.6M402.7 300.0h.6M400.6 312.5h.6M410.1 302.4h.6M409.8 315.5h.6M414.8 302.8h.6M400.8 311.1h.6M400.8 313.8h.6M404.3 304.5h.6M411.4 303.5h.6M399.4 288.7h.6M411.7 309.0h.6M404.0 310.9h.6M408.9 308.5h.6M397.4 301.3h.6M410.6 309.1h.6M407.6 281.1h.6M407.5 307.2h.6M415.4 293.6h.6M405.2 303.4h.6M409.4 298.8h.6M410.1 295.6h.6M406.9 298.3h.6M406.4 296.9h.6M401.2 313.2h.6M407.1 298.0h.6M408.1 311.6h.6M402.5 302.4h.6M409.0 307.4h.6M403.2 284.7h.6M411.5 305.4h.6M406.2 300.6h.6M407.0 299.2h.6M401.7 296.9h.6M403.5 297.9h.6M402.5 309.0h.6M401.9 309.3h.6M402.8 306.5h.6M411.9 304.2h.6M403.6 303.7h.6M405.4 287.8h.6M404.2 304.7h.6M404.7 303.9h.6M410.0 309.4h.6M410.5 307.8h.6M405.3 303.0h.6M405.1 300.4h.6M404.1 288.0h.6M405.1 302.9h.6M402.6 303.2h.6M408.2 301.4h.6M412.1 279.3h.6M403.9 287.1h.6M412.6 315.4h.6M414.2 296.9h.6M411.3 315.1h.6M410.0 305.9h.6M405.9 297.8h.6M408.4 298.5h.6M406.8 298.4h.6M397.7 303.6h.6M407.9 309.5h.6M403.0 303.1h.6M408.9 304.0h.6M413.1 315.3h.6M407.9 299.6h.6M406.4 298.7h.6M400.7 301.2h.6M402.8 315.3h.6M398.4 295.0h.6M417.8 315.3h.6M402.0 313.2h.6M408.1 315.3h.6M403.4 314.9h.6M404.3 305.2h.6M406.1 300.3h.6M407.0 296.8h.6M397.2 284.4h.6M400.8 296.9h.6M406.4 303.5h.6M408.7 303.8h.6M402.7 297.1h.6M398.0 302.4h.6M408.8 307.4h.6M405.8 301.5h.6M410.0 302.8h.6M409.8 307.8h.6M408.4 314.3h.6M403.8 300.1h.6M402.5 296.4h.6M414.1 315.5h.6M407.8 306.1h.6M399.9 290.0h.6M406.3 294.2h.6M406.5 304.3h.6M402.4 294.4h.6M404.2 313.5h.6M398.6 311.0h.6M405.4 296.5h.6M407.2 301.4h.6M402.3 301.7h.6M406.8 306.0h.6M406.4 301.6h.6M397.0 297.4h.6M408.5 307.4h.6M402.1 296.8h.6M400.6 291.0h.6M408.6 309.5h.6M406.3 305.7h.6M410.6 292.7h.6M406.2 302.0h.6M408.7 290.6h.6M400.5 306.8h.6M403.9 305.1h.6M409.0 306.7h.6M410.0 304.6h.6M405.0 289.5h.6M408.7 291.2h.6M407.1 314.1h.6M400.7 309.7h.6M403.3 302.3h.6M398.2 286.0h.6M409.9 315.6h.6M406.9 309.4h.6M403.8 282.0h.6M405.5 295.2h.6M408.4 297.4h.6M409.0 315.3h.6M401.0 286.5h.6M413.0 299.5h.6M409.8 286.5h.6M409.3 292.0h.6M403.1 287.5h.6M405.2 309.5h.6M403.8 299.0h.6M408.7 298.3h.6M409.1 302.6h.6M410.9 296.9h.6M407.2 304.0h.6M416.1 305.5h.6M398.0 289.5h.6M405.4 297.8h.6M400.2 296.7h.6M408.9 282.2h.6M407.6 299.1h.6M413.7 282.3h.6M408.7 299.8h.6M407.4 307.3h.6M418.7 305.5h.6M407.9 286.6h.6M408.6 287.2h.6M405.8 307.2h.6M416.1 312.2h.6M408.6 311.5h.6M404.9 303.2h.6M406.8 311.3h.6M403.6 291.4h.6M401.6 315.3h.6M410.0 288.7h.6M412.8 303.6h.6M396.5 310.7h.6M401.8 315.3h.6M411.0 315.6h.6M407.0 295.5h.6M410.3 301.6h.6M404.1 270.4h.6M413.5 301.6h.6M394.6 304.3h.6M410.3 313.9h.6M400.9 315.5h.6M410.6 298.3h.6M410.0 315.4h.6M414.2 311.6h.6M417.0 310.8h.6M400.3 283.4h.6M401.0 294.7h.6M401.4 309.2h.6M407.8 298.7h.6M406.9 300.2h.6M408.3 310.5h.6M411.4 293.5h.6M398.0 315.5h.6M398.6 306.2h.6M404.3 282.8h.6M401.5 294.0h.6M404.9 308.1h.6M409.8 287.4h.6M405.1 295.1h.6M396.5 310.5h.6M402.8 299.5h.6M393.5 309.0h.6M407.1 309.4h.6M404.6 315.2h.6M408.7 307.3h.6M407.2 312.2h.6M402.1 301.5h.6M404.7 308.7h.6M416.0 298.0h.6M421.1 315.5h.6M394.4 315.2h.6M404.0 289.9h.6M410.7 315.5h.6M408.9 312.7h.6M412.6 303.8h.6M406.7 284.7h.6M396.8 302.9h.6M402.7 303.8h.6M400.0 295.5h.6M402.6 277.1h.6M399.0 309.2h.6M404.7 290.0h.6M409.3 315.2h.6M405.7 284.3h.6M410.4 287.6h.6M400.5 292.7h.6M404.1 315.6h.6M397.1 312.7h.6M402.3 286.5h.6M407.3 314.0h.6M397.8 307.3h.6M398.8 312.1h.6M409.4 298.5h.6M397.9 286.3h.6M401.2 311.1h.6M407.7 301.3h.6M402.1 300.6h.6M406.2 275.0h.6M403.0 301.7h.6M398.1 296.3h.6M403.0 288.8h.6M396.5 286.3h.6M399.2 301.1h.6M409.9 299.0h.6M402.3 291.8h.6M405.7 296.1h.6M411.9 300.3h.6M411.2 304.7h.6M405.3 303.2h.6M400.7 308.5h.6M403.0 292.1h.6M406.4 310.2h.6M402.3 275.0h.6M401.4 301.1h.6M406.9 291.0h.6M407.4 307.8h.6M405.8 281.3h.6M400.2 292.9h.6M401.4 299.3h.6" stroke="#2020ff" stroke-width="0.6" opacity="0.55" fill="none"/>
<line x1="396" y1="315.40000000000003" x2="419" y2="315.40000000000003" stroke="#2a2ae0" stroke-width="0.7" opacity="0.5"/>
</g>
<rect x="357.6" y="267.4" width="66.3" height="58.9" fill="none" stroke="#000" stroke-width="1.5"/>
<clipPath id="s330"><rect x="357.6" y="330.8" width="66.3" height="48.3"/></clipPath>
<g clip-path="url(#s330)">
<path d="M395.2 353.0 L400.4 352.2 L405.8 356.2 L407.2 361.2 L404.0 363.0 L398.6 359.2Z" fill="#1010f4" stroke="#1010f4" stroke-width="0.4" stroke-linejoin="round" opacity="0.92" filter="url(#bs)"/>
<path d="M394.6 352.6 L400.6 351.8 L406.2 356.0 L407.8 361.6 L404.0 363.6 L398.2 359.4Z" fill="#1010f4" stroke="#1010f4" stroke-width="5" stroke-linejoin="round" opacity="0.12" filter="url(#bs)"/>
<path d="M402.5 361.0 L408.0 361.0 L407.5 372.0 L404.5 373.0Z" fill="#1010f4" stroke="#1010f4" stroke-width="2.0" stroke-linejoin="round" opacity="0.2" filter="url(#bs)"/>
<path d="M404.3 358.7h.6M399.1 350.1h.6M404.2 355.3h.6M397.0 359.5h.6M402.8 364.1h.6M393.3 358.3h.6M398.3 359.4h.6M398.5 359.9h.6M400.6 357.3h.6M401.6 354.4h.6M399.0 359.4h.6M396.6 354.7h.6M399.3 351.5h.6M391.8 358.1h.6M401.9 356.8h.6M408.0 354.2h.6M402.1 355.8h.6M405.5 355.3h.6M401.1 357.4h.6M406.5 359.3h.6M399.7 358.3h.6M401.1 359.7h.6M402.9 354.8h.6M401.6 365.1h.6M402.3 355.8h.6M406.1 357.3h.6M404.5 353.7h.6M407.7 357.5h.6M403.0 356.3h.6M401.3 352.7h.6M402.5 353.9h.6M405.7 357.0h.6M398.9 358.9h.6M401.5 361.4h.6M403.6 360.8h.6M401.4 361.4h.6M396.1 353.9h.6M401.0 356.9h.6M404.6 355.9h.6M396.8 352.0h.6M404.1 356.0h.6M390.2 354.9h.6M403.9 362.0h.6M400.4 356.1h.6M398.3 351.4h.6M404.3 358.0h.6M405.1 359.6h.6M392.5 352.2h.6M405.6 361.9h.6M399.5 353.6h.6M404.2 356.5h.6M395.9 354.5h.6M402.3 355.3h.6M396.3 355.7h.6M395.5 350.8h.6M395.3 360.8h.6M395.8 356.4h.6M397.7 359.9h.6M406.2 360.0h.6M403.1 355.2h.6M397.9 358.3h.6M397.7 351.9h.6M401.4 356.4h.6M403.3 350.4h.6M399.7 356.0h.6M400.3 357.2h.6M399.5 364.9h.6M398.3 351.6h.6M406.7 352.4h.6M398.5 351.8h.6M398.9 351.2h.6M397.8 351.5h.6M399.0 361.9h.6M393.8 354.1h.6M401.7 359.3h.6M405.9 362.3h.6M406.6 358.1h.6M393.4 357.6h.6M404.1 354.3h.6M398.8 359.3h.6M397.0 356.2h.6M394.7 355.4h.6M402.0 357.4h.6M399.9 356.0h.6M403.0 363.8h.6M395.4 349.1h.6M399.9 356.8h.6M395.2 356.9h.6M412.1 360.6h.6M396.6 354.9h.6M403.1 362.3h.6M400.0 358.9h.6M400.9 357.3h.6M400.8 355.2h.6M402.3 357.8h.6M402.6 356.8h.6M406.0 361.5h.6M397.7 361.7h.6M400.5 358.1h.6M404.5 353.2h.6M406.7 356.0h.6M403.6 362.0h.6M401.7 353.3h.6M403.7 357.9h.6M406.9 359.9h.6M401.2 357.5h.6M399.6 350.1h.6M402.5 360.1h.6M401.5 355.1h.6M405.0 356.4h.6M403.1 360.2h.6M398.1 353.2h.6M400.7 355.0h.6M403.4 355.2h.6M399.7 351.7h.6M396.6 356.2h.6M407.1 351.8h.6M404.1 354.2h.6M399.6 357.7h.6M406.6 360.2h.6M403.7 355.8h.6M396.1 346.8h.6M405.3 355.4h.6M397.3 358.8h.6M404.5 357.1h.6M401.1 352.2h.6M407.9 357.6h.6M400.4 357.1h.6M398.3 359.7h.6M396.8 350.4h.6M401.8 357.0h.6M407.0 354.9h.6M405.6 356.5h.6M395.8 361.6h.6M405.3 354.4h.6M404.4 357.7h.6M403.3 361.6h.6M402.6 355.7h.6M405.1 350.6h.6M398.4 361.1h.6M400.8 353.0h.6M399.9 359.6h.6M404.1 352.1h.6M398.9 356.3h.6M405.9 354.0h.6M398.6 361.0h.6M409.0 357.7h.6M396.8 353.7h.6M399.3 354.7h.6M400.3 359.2h.6M401.3 353.8h.6M398.0 353.5h.6M398.7 355.4h.6M410.6 367.9h.6M398.7 357.1h.6M398.9 350.4h.6M401.1 362.0h.6M396.2 358.1h.6M401.5 357.7h.6M408.0 361.7h.6M395.7 354.1h.6M396.8 361.5h.6M390.7 354.6h.6M404.9 352.4h.6M403.6 358.4h.6M402.6 359.1h.6M400.5 358.5h.6M404.2 361.2h.6M404.9 356.7h.6M409.5 360.2h.6M404.0 361.6h.6M398.6 356.8h.6M403.7 358.3h.6M397.0 352.1h.6M406.6 359.5h.6M396.2 356.7h.6M401.4 366.6h.6M403.2 358.7h.6M402.9 359.4h.6M392.6 358.6h.6M408.4 358.0h.6M405.7 362.7h.6M402.0 352.2h.6M401.9 357.8h.6M401.7 363.3h.6M406.7 359.0h.6M396.7 359.5h.6M401.6 355.7h.6M398.0 358.0h.6M402.0 361.3h.6M400.6 359.7h.6M401.7 362.6h.6M406.1 361.3h.6M400.4 357.9h.6M403.5 357.7h.6M408.8 359.4h.6M402.8 357.1h.6M398.8 356.3h.6M408.5 359.1h.6M399.4 352.9h.6M393.9 358.9h.6M395.2 354.0h.6M401.1 359.7h.6M404.9 362.3h.6M399.1 355.2h.6M403.7 356.8h.6M398.2 356.6h.6M396.0 361.6h.6M398.5 357.7h.6M397.4 354.9h.6M402.6 357.2h.6M401.9 357.7h.6M406.6 357.4h.6M399.4 360.8h.6M398.5 358.7h.6M399.9 360.2h.6M413.7 365.4h.6M402.5 357.4h.6M394.7 361.4h.6M404.9 362.4h.6M392.7 362.5h.6M406.7 362.1h.6M398.6 357.5h.6M407.4 361.8h.6M398.5 355.1h.6M391.6 354.3h.6M399.0 361.2h.6M401.1 359.4h.6M404.4 353.2h.6M400.3 358.4h.6M403.4 361.9h.6M397.7 355.0h.6M399.4 361.6h.6M402.3 350.9h.6M399.2 354.6h.6M404.7 362.6h.6M394.1 356.0h.6M405.6 363.1h.6M393.8 359.1h.6M405.1 356.5h.6M408.1 363.1h.6M392.8 352.8h.6M399.1 358.6h.6M403.9 355.9h.6M400.8 360.6h.6M400.4 356.6h.6M397.0 353.9h.6M398.9 355.6h.6M402.6 351.0h.6M404.0 356.6h.6M401.6 353.8h.6M401.3 356.0h.6M410.3 356.4h.6M396.2 354.1h.6M396.7 353.3h.6M409.3 364.5h.6M399.8 359.0h.6M401.9 359.8h.6M401.4 356.6h.6M403.5 362.7h.6M400.5 357.7h.6M398.3 352.2h.6M395.5 352.5h.6M404.0 364.5h.6M401.0 356.0h.6M402.0 361.4h.6M397.7 354.9h.6M401.9 360.8h.6M401.8 362.0h.6M402.8 356.7h.6M396.7 351.2h.6M400.9 363.9h.6M404.6 358.3h.6M392.8 355.3h.6M397.3 354.1h.6M407.6 359.3h.6M398.0 357.8h.6M396.8 358.2h.6M407.5 360.9h.6M408.1 358.3h.6M401.8 356.7h.6M392.1 349.9h.6M403.7 357.9h.6M394.8 355.7h.6M395.9 357.5h.6M403.2 360.7h.6M399.9 356.5h.6M402.7 366.9h.6M406.5 351.5h.6M398.8 350.2h.6M408.9 357.1h.6M405.0 361.4h.6M397.1 360.8h.6M397.5 360.0h.6M406.3 358.4h.6M398.2 360.4h.6M390.6 354.1h.6M398.3 358.8h.6M400.3 355.1h.6M395.8 347.9h.6M397.9 354.8h.6M395.7 354.7h.6M400.9 358.9h.6M401.4 360.1h.6M397.2 356.5h.6M399.8 358.2h.6M395.1 350.8h.6M398.6 352.2h.6M400.2 354.5h.6M401.7 353.3h.6M396.7 352.5h.6M397.2 355.3h.6M399.3 359.1h.6M397.2 354.3h.6M400.3 356.4h.6M393.2 358.4h.6M398.4 360.8h.6M397.6 355.1h.6M403.7 358.9h.6M402.0 355.6h.6M405.7 364.0h.6M399.1 356.5h.6M396.3 356.9h.6M401.4 355.6h.6M397.1 365.0h.6M401.6 355.3h.6M397.3 358.0h.6M400.8 352.0h.6M407.5 355.6h.6M395.1 352.4h.6M403.6 352.1h.6M393.8 353.4h.6M402.7 349.6h.6M402.9 364.6h.6M406.6 361.4h.6M398.1 352.8h.6M405.8 359.4h.6M393.4 355.6h.6M405.9 356.7h.6M396.3 357.1h.6M401.5 369.7h.6M405.3 372.1h.6M402.1 365.1h.6M404.8 375.9h.6M405.3 360.7h.6M403.6 368.1h.6M405.0 369.6h.6M401.2 363.7h.6M410.9 372.2h.6M404.8 376.7h.6M405.5 353.6h.6M406.7 372.1h.6M405.0 366.0h.6M408.3 368.0h.6M399.3 367.9h.6M403.8 359.4h.6M407.7 365.8h.6M400.9 366.4h.6M403.8 370.3h.6M402.3 363.9h.6M407.7 363.0h.6M403.6 366.3h.6M403.9 370.9h.6M401.2 364.3h.6M407.3 355.5h.6M402.3 367.6h.6M396.2 354.4h.6M404.4 372.7h.6M404.7 363.2h.6M405.0 378.2h.6M403.6 366.5h.6M406.6 360.5h.6M404.7 350.2h.6M405.9 362.3h.6M406.8 370.2h.6M401.8 366.6h.6M406.1 369.7h.6M401.3 361.4h.6M403.2 378.3h.6M407.6 367.5h.6M404.3 361.7h.6M404.6 366.0h.6M405.4 377.1h.6M400.8 362.8h.6M407.1 372.6h.6M402.7 365.4h.6M401.8 361.3h.6M408.0 365.7h.6M404.1 368.3h.6M408.8 374.0h.6M406.0 367.9h.6M407.5 372.3h.6M404.8 359.2h.6M404.7 364.5h.6M409.1 366.4h.6M404.8 374.9h.6M404.5 369.4h.6M405.2 369.1h.6M406.6 361.7h.6M404.3 371.9h.6M404.4 367.9h.6M406.3 361.2h.6M407.0 364.4h.6M402.8 363.8h.6M411.0 368.9h.6M405.3 362.3h.6M407.1 359.5h.6M405.2 374.0h.6M407.2 364.3h.6M406.3 364.8h.6M403.0 372.9h.6M406.2 371.2h.6M405.8 361.5h.6M404.4 362.3h.6M406.9 371.0h.6M410.3 378.5h.6M403.5 365.7h.6M402.2 365.8h.6M404.3 367.8h.6M409.6 373.2h.6M404.4 370.2h.6M406.4 370.7h.6M405.2 368.0h.6M402.7 362.3h.6M408.5 373.4h.6M406.9 368.6h.6M404.9 363.8h.6M401.2 371.2h.6M404.6 363.3h.6M404.0 374.3h.6M402.5 377.4h.6M409.2 378.3h.6M406.5 372.6h.6M408.8 372.5h.6M407.0 378.3h.6M404.2 369.9h.6M403.0 364.3h.6M405.2 364.2h.6M401.6 366.6h.6M406.3 376.3h.6M403.3 372.6h.6M402.4 364.9h.6M404.3 368.2h.6M409.0 376.0h.6M404.8 374.4h.6M408.2 370.6h.6M404.0 372.0h.6M405.0 368.6h.6M404.9 370.4h.6M408.9 372.3h.6M405.5 372.3h.6M407.2 360.4h.6M406.8 358.2h.6M406.8 369.6h.6M408.8 367.3h.6M402.7 362.2h.6M402.7 371.5h.6M403.4 362.6h.6M405.2 361.9h.6M403.2 364.1h.6M410.6 373.9h.6M402.5 357.7h.6M405.6 366.8h.6M406.3 369.5h.6M405.1 371.9h.6M407.1 367.3h.6M403.2 364.0h.6M405.2 359.9h.6M403.5 362.3h.6M402.1 370.6h.6M404.8 366.7h.6M405.1 357.6h.6M405.0 368.2h.6M405.5 359.9h.6M406.8 367.4h.6M409.5 372.3h.6M408.7 378.4h.6M404.3 364.1h.6M402.8 361.3h.6M402.5 355.9h.6M405.1 369.0h.6M406.8 364.0h.6M407.4 362.1h.6M402.2 355.9h.6M402.0 362.4h.6M409.0 368.7h.6M402.8 370.0h.6M405.7 365.0h.6M404.5 364.8h.6M401.4 357.0h.6M406.1 373.7h.6M407.9 364.2h.6M402.8 365.7h.6M407.4 368.0h.6M403.8 368.8h.6M404.9 369.5h.6M402.1 358.6h.6M405.8 370.7h.6M402.0 366.5h.6M406.5 364.0h.6M405.6 378.1h.6M408.0 371.8h.6M404.5 376.0h.6M400.2 364.5h.6M408.1 373.5h.6M401.8 363.3h.6M403.0 355.8h.6M407.0 369.3h.6M404.4 369.7h.6M407.0 367.8h.6M407.8 374.6h.6M403.9 367.6h.6M404.8 372.5h.6M404.4 369.3h.6M405.2 366.8h.6M408.8 365.2h.6M409.1 370.3h.6M407.7 364.9h.6M407.9 370.2h.6M403.7 368.3h.6M404.5 366.4h.6M407.0 361.9h.6M398.8 357.8h.6M403.0 363.2h.6M405.5 369.6h.6M409.3 367.3h.6M405.0 362.2h.6M407.8 373.6h.6M405.7 355.1h.6M408.7 374.7h.6M401.0 347.7h.6M401.8 366.2h.6M401.1 353.9h.6M399.8 370.5h.6M398.9 375.2h.6M402.7 363.2h.6M391.9 360.1h.6M400.3 348.3h.6M408.4 345.1h.6M394.7 364.6h.6M406.8 365.2h.6M398.7 360.4h.6M398.2 357.4h.6M390.2 374.9h.6M403.5 361.5h.6M398.8 364.5h.6M401.2 360.5h.6M401.8 345.3h.6M399.2 352.4h.6M404.9 372.9h.6M395.0 363.1h.6M401.4 369.6h.6M390.2 351.1h.6M403.2 357.0h.6M403.4 369.8h.6M395.2 360.6h.6M403.8 363.7h.6M402.1 370.0h.6M412.8 352.1h.6M404.8 340.5h.6M408.3 354.7h.6M401.1 358.1h.6M393.5 353.2h.6M403.7 371.6h.6M406.7 355.4h.6M396.1 357.2h.6M400.9 377.5h.6M405.7 360.1h.6M395.2 354.7h.6M411.6 363.3h.6M399.5 370.8h.6M397.5 368.7h.6M394.6 360.5h.6M405.8 362.9h.6M404.3 352.1h.6M415.1 366.8h.6M403.0 364.5h.6M396.6 361.9h.6M394.3 365.1h.6M407.3 370.4h.6M409.7 364.5h.6M398.7 360.3h.6M400.3 363.5h.6M393.2 371.8h.6M390.9 361.3h.6M399.9 357.1h.6M410.6 355.9h.6M414.4 365.5h.6M400.1 365.3h.6M407.7 355.1h.6M400.1 356.6h.6M400.6 358.2h.6M405.4 368.2h.6M409.8 358.3h.6M405.6 366.8h.6M396.2 353.9h.6M404.6 351.2h.6M403.4 351.4h.6M408.3 348.5h.6M411.5 369.9h.6M385.6 353.4h.6M388.2 347.7h.6M392.1 354.2h.6M390.9 347.2h.6M390.0 351.4h.6M388.8 351.0h.6M383.9 348.6h.6M395.5 357.2h.6M389.2 350.2h.6M390.7 354.4h.6M393.4 350.8h.6M390.5 352.5h.6" stroke="#2020ff" stroke-width="0.6" opacity="0.55" fill="none"/>
<line x1="396" y1="378.40000000000003" x2="414.5" y2="378.40000000000003" stroke="#2a2ae0" stroke-width="0.7" opacity="0.5"/>
</g>
<rect x="357.6" y="330.8" width="66.3" height="58.5" fill="none" stroke="#000" stroke-width="1.5"/>
<clipPath id="s393"><rect x="357.6" y="393.0" width="66.3" height="48.1"/></clipPath>
<g clip-path="url(#s393)">
<path d="M395.6 416.2 L400.4 414.8 L404.6 418.6 L405.8 426.8 L403.4 430.0 L398.4 428.0 L395.0 421.0Z" fill="#1010f4" stroke="#1010f4" stroke-width="0.4" stroke-linejoin="round" opacity="0.92" filter="url(#bs)"/>
<path d="M395.0 415.6 L400.6 414.2 L405.0 418.4 L406.4 427.0 L407.2 436.0 L403.6 439.0 L399.2 436.0 L395.6 428.6 L394.0 421.0Z" fill="#1010f4" stroke="#1010f4" stroke-width="3" stroke-linejoin="round" opacity="0.2" filter="url(#bs)"/>
<path d="M407.1 427.2h.6M403.9 428.1h.6M401.1 430.7h.6M399.4 424.5h.6M402.4 416.3h.6M395.5 413.1h.6M400.9 421.6h.6M399.9 425.0h.6M392.9 423.7h.6M400.4 420.5h.6M405.6 430.8h.6M397.6 417.3h.6M398.4 423.0h.6M401.3 416.8h.6M402.6 415.6h.6M403.9 423.6h.6M404.9 433.2h.6M399.2 421.3h.6M403.2 426.2h.6M396.0 424.7h.6M398.6 426.1h.6M405.3 421.1h.6M400.3 423.1h.6M391.0 428.8h.6M402.6 422.4h.6M398.0 418.4h.6M401.4 428.7h.6M401.9 429.4h.6M390.7 421.8h.6M401.4 421.7h.6M393.6 419.9h.6M403.1 413.9h.6M395.4 416.9h.6M399.3 426.0h.6M399.8 410.5h.6M404.8 417.5h.6M400.6 431.5h.6M398.4 415.4h.6M397.2 418.6h.6M396.4 421.1h.6M404.0 423.1h.6M399.3 438.3h.6M397.1 423.5h.6M401.5 426.1h.6M399.9 424.8h.6M408.0 420.7h.6M397.0 424.7h.6M397.1 420.7h.6M401.5 423.7h.6M400.5 426.8h.6M398.0 415.1h.6M403.0 419.3h.6M403.8 417.4h.6M402.9 423.2h.6M388.8 416.3h.6M398.3 430.6h.6M394.9 428.6h.6M404.9 423.7h.6M402.1 418.7h.6M400.7 423.2h.6M402.8 425.4h.6M398.7 418.4h.6M399.0 424.7h.6M392.8 416.7h.6M398.2 419.4h.6M395.9 407.9h.6M398.9 420.9h.6M400.5 410.6h.6M400.0 424.8h.6M403.7 428.0h.6M402.7 415.4h.6M402.2 419.6h.6M399.6 431.0h.6M397.0 417.9h.6M397.8 417.8h.6M404.5 423.2h.6M405.9 423.0h.6M399.6 428.2h.6M397.5 420.1h.6M399.9 422.4h.6M403.8 417.7h.6M401.6 421.5h.6M394.5 417.2h.6M400.2 424.4h.6M402.2 424.3h.6M400.0 419.5h.6M400.6 416.2h.6M395.2 421.4h.6M394.6 420.5h.6M397.0 419.7h.6M399.2 417.7h.6M396.6 413.1h.6M399.7 417.1h.6M398.0 406.3h.6M397.9 424.0h.6M391.2 422.2h.6M400.9 422.5h.6M395.4 424.6h.6M399.6 416.6h.6M403.0 421.1h.6M399.9 419.5h.6M402.5 422.0h.6M405.1 423.4h.6M397.9 421.3h.6M403.2 419.2h.6M402.5 424.5h.6M396.6 409.5h.6M401.2 423.0h.6M399.9 417.7h.6M404.5 420.2h.6M397.2 418.7h.6M400.2 415.7h.6M399.5 433.8h.6M406.5 426.6h.6M406.1 424.0h.6M396.0 430.0h.6M405.5 423.6h.6M395.1 430.5h.6M404.6 418.1h.6M401.9 426.1h.6M401.6 428.1h.6M401.6 425.7h.6M398.7 413.9h.6M401.1 440.1h.6M403.2 428.9h.6M406.8 430.3h.6M401.6 418.3h.6M397.9 411.5h.6M401.0 427.1h.6M392.9 425.0h.6M405.2 428.5h.6M396.2 419.3h.6M392.3 418.1h.6M405.1 432.8h.6M398.2 430.6h.6M401.3 418.9h.6M404.8 406.3h.6M400.5 423.3h.6M410.5 429.9h.6M408.7 420.7h.6M405.8 428.6h.6M402.7 423.5h.6M399.2 419.9h.6M398.7 433.8h.6M396.0 411.0h.6M401.3 421.6h.6M403.5 431.8h.6M399.7 420.6h.6M397.7 422.5h.6M399.1 423.5h.6M412.1 421.4h.6M400.0 433.3h.6M404.6 425.7h.6M404.1 425.8h.6M404.7 429.1h.6M405.9 428.5h.6M398.6 422.4h.6M399.1 427.9h.6M402.7 418.7h.6M406.1 435.9h.6M403.3 414.8h.6M400.9 425.6h.6M400.8 424.1h.6M405.1 422.7h.6M397.4 426.9h.6M400.2 422.7h.6M396.5 414.9h.6M395.4 421.2h.6M392.9 408.1h.6M402.9 414.6h.6M398.5 425.6h.6M393.6 431.5h.6M398.5 426.3h.6M399.1 424.1h.6M400.8 421.9h.6M391.8 415.6h.6M402.2 429.8h.6M399.2 425.4h.6M401.6 424.5h.6M401.9 412.9h.6M401.1 420.8h.6M398.1 417.6h.6M396.2 417.1h.6M399.9 436.7h.6M406.5 420.5h.6M401.7 416.0h.6M387.9 414.5h.6M402.9 429.8h.6M398.9 416.6h.6M398.2 416.7h.6M395.1 422.0h.6M397.9 417.9h.6M395.9 417.7h.6M403.2 429.4h.6M402.7 434.4h.6M395.0 425.0h.6M396.0 422.2h.6M401.5 425.0h.6M403.7 417.9h.6M395.7 422.1h.6M400.5 417.9h.6M405.9 430.4h.6M395.8 425.3h.6M401.4 410.5h.6M400.8 420.6h.6M397.1 430.5h.6M400.5 419.2h.6M402.9 425.1h.6M404.0 424.5h.6M400.3 415.2h.6M399.1 423.1h.6M393.4 436.2h.6M397.6 416.6h.6M394.2 425.0h.6M399.7 418.8h.6M397.7 417.5h.6M397.6 422.1h.6M399.0 426.3h.6M400.1 422.9h.6M403.6 428.6h.6M402.9 422.7h.6M398.7 417.7h.6M400.1 426.0h.6M400.7 419.7h.6M393.5 414.8h.6M403.0 427.3h.6M399.9 414.1h.6M399.9 423.4h.6M397.6 424.7h.6M398.5 417.6h.6M397.0 427.6h.6M400.5 416.8h.6M398.0 427.8h.6M402.1 419.8h.6M405.7 419.0h.6M398.1 428.9h.6M400.2 424.1h.6M399.2 416.5h.6M395.9 422.0h.6M404.1 415.2h.6M405.6 422.0h.6M396.8 424.5h.6M401.2 416.6h.6M393.2 425.9h.6M397.0 425.4h.6M393.3 422.9h.6M395.5 414.6h.6M399.8 423.2h.6M396.8 416.0h.6M398.8 412.2h.6M403.0 424.2h.6M407.6 425.3h.6M402.0 423.1h.6M398.7 414.7h.6M406.4 423.6h.6M397.8 416.0h.6M406.4 423.6h.6M397.1 426.7h.6M407.2 420.2h.6M401.3 419.4h.6M399.6 428.4h.6M411.6 419.9h.6M401.0 426.4h.6M400.3 426.3h.6M402.0 415.7h.6M396.5 422.6h.6M403.8 422.8h.6M403.0 413.4h.6M401.3 418.2h.6M401.2 423.7h.6M396.6 421.6h.6M396.6 424.5h.6M396.7 420.1h.6M400.3 418.2h.6M403.6 417.5h.6M403.8 422.8h.6M396.4 421.7h.6M396.9 420.8h.6M401.9 432.2h.6M401.0 430.9h.6M400.2 414.5h.6M393.1 427.8h.6M394.3 427.7h.6M404.6 423.2h.6M399.3 420.8h.6M400.9 420.1h.6M398.0 420.5h.6M403.7 417.6h.6M400.2 415.4h.6M396.0 415.1h.6M400.6 425.9h.6M400.8 419.0h.6M402.1 419.6h.6M402.1 423.2h.6M399.0 408.0h.6M396.8 427.4h.6M403.1 434.3h.6M398.8 419.2h.6M406.5 423.7h.6M407.9 423.1h.6M400.7 426.1h.6M397.0 420.3h.6M398.1 421.3h.6M402.5 418.7h.6M400.9 419.0h.6M399.8 406.2h.6M399.9 423.1h.6M397.9 428.5h.6M402.9 428.8h.6M404.7 424.6h.6M398.4 416.2h.6M399.0 419.7h.6M400.7 419.2h.6M409.1 410.6h.6M403.9 418.4h.6M400.8 427.3h.6M398.8 415.4h.6M401.6 420.6h.6M393.3 424.9h.6M395.6 418.9h.6M402.5 423.2h.6M402.3 434.1h.6M401.1 418.3h.6M401.1 421.1h.6M390.4 415.4h.6M398.2 434.5h.6M399.4 420.7h.6M399.7 427.8h.6M402.8 431.2h.6M405.4 430.2h.6M400.5 424.1h.6M398.6 421.5h.6M393.5 420.4h.6M396.1 419.3h.6M405.1 422.3h.6M405.9 425.6h.6M405.0 426.6h.6M399.3 426.9h.6M398.5 419.4h.6M407.6 432.7h.6M399.3 432.3h.6M402.2 416.7h.6M401.9 423.8h.6M401.3 419.7h.6M395.9 423.3h.6M404.5 425.5h.6M404.2 427.4h.6M396.8 422.6h.6M403.0 427.1h.6M401.7 424.7h.6M403.7 433.3h.6M392.6 423.8h.6M409.5 421.1h.6M394.1 424.3h.6M394.4 419.6h.6M403.5 431.1h.6M402.9 425.2h.6M404.3 422.2h.6M397.2 422.2h.6M401.2 420.2h.6M397.5 420.6h.6M393.7 417.8h.6M399.6 420.1h.6M402.4 429.6h.6M401.4 421.6h.6M394.8 417.2h.6M400.6 416.9h.6M400.5 415.8h.6M400.8 421.5h.6M403.4 419.0h.6M399.4 423.7h.6M402.9 431.1h.6M398.8 419.3h.6M399.9 424.8h.6M402.2 425.5h.6M398.8 436.6h.6M406.9 420.2h.6M396.3 423.9h.6M398.9 409.5h.6M398.5 414.0h.6M405.8 439.0h.6M405.2 421.6h.6M408.3 435.7h.6M402.5 434.1h.6M407.7 428.4h.6M402.7 427.7h.6M405.0 417.8h.6M406.9 424.7h.6M404.8 421.0h.6M399.8 427.9h.6M404.5 421.1h.6M404.6 427.0h.6M406.8 428.6h.6M404.6 429.8h.6M408.5 428.1h.6M404.8 440.5h.6M405.3 437.3h.6M404.5 438.1h.6M406.6 425.3h.6M401.6 425.2h.6M402.9 420.2h.6M398.1 418.1h.6M403.9 425.2h.6M407.9 435.1h.6M404.1 426.0h.6M397.1 425.2h.6M403.2 430.4h.6M402.6 431.2h.6M408.8 437.5h.6M399.9 435.6h.6M400.6 432.9h.6M404.7 436.5h.6M404.7 423.6h.6M403.2 433.6h.6M403.9 440.6h.6M399.2 434.8h.6M403.4 428.0h.6M402.6 429.4h.6M403.6 427.4h.6M404.2 440.4h.6M406.1 440.3h.6M405.2 426.8h.6M395.0 432.2h.6M393.3 431.6h.6M407.0 440.5h.6M403.1 431.0h.6M408.6 440.4h.6M403.5 426.5h.6M402.6 433.4h.6M396.5 427.9h.6M400.0 430.9h.6M408.6 424.5h.6M402.3 429.0h.6M400.0 426.7h.6M406.0 429.1h.6M399.7 424.0h.6M401.1 436.6h.6M398.3 419.5h.6M400.1 431.5h.6M404.3 430.5h.6M404.6 422.6h.6M399.5 429.1h.6M401.4 418.1h.6M401.1 421.0h.6M406.2 431.8h.6M410.1 440.2h.6M406.8 437.1h.6M402.2 430.2h.6M399.9 438.0h.6M401.0 427.4h.6M402.7 425.9h.6M399.7 429.7h.6M407.7 429.1h.6M403.6 422.1h.6M398.6 440.2h.6M401.6 426.5h.6M406.4 437.5h.6M404.5 420.9h.6M402.6 433.9h.6M396.4 430.7h.6M407.2 439.2h.6M405.2 435.5h.6M406.0 432.3h.6M398.4 440.1h.6M405.0 435.7h.6M405.0 429.3h.6M402.5 437.2h.6M405.6 433.7h.6M401.2 435.1h.6M405.6 429.6h.6M407.0 440.4h.6M404.6 423.2h.6M403.0 425.7h.6M407.6 439.0h.6M399.3 433.0h.6M399.3 422.4h.6M403.5 436.8h.6M406.2 426.8h.6M403.3 439.6h.6M404.3 440.6h.6M404.2 423.7h.6M400.1 440.5h.6M403.6 433.3h.6M397.5 428.6h.6M400.9 425.5h.6M403.4 428.1h.6M402.7 439.5h.6M407.5 428.6h.6M399.8 421.4h.6M398.3 440.2h.6M402.1 436.4h.6M403.5 425.5h.6M407.4 440.3h.6M398.2 430.5h.6M404.4 428.9h.6M402.8 433.0h.6M400.4 435.2h.6M405.1 423.3h.6M399.9 428.5h.6M400.6 429.1h.6M405.2 421.6h.6M403.8 427.9h.6M399.3 422.3h.6M396.2 431.9h.6M406.7 424.4h.6M404.1 422.7h.6M404.1 428.6h.6M400.5 422.0h.6M400.8 428.1h.6M407.7 433.9h.6M403.8 426.5h.6M404.3 435.2h.6M408.0 435.6h.6M408.8 428.4h.6M401.0 438.8h.6M409.5 435.3h.6M403.1 431.5h.6M401.6 428.7h.6M403.3 433.1h.6M399.6 434.2h.6M403.3 429.3h.6M403.6 428.3h.6M405.1 439.4h.6M402.3 435.9h.6M400.9 429.5h.6M403.2 426.9h.6M405.0 421.1h.6M402.4 430.8h.6M403.1 429.5h.6M399.7 431.3h.6M407.9 433.7h.6M401.4 423.1h.6M400.6 435.8h.6M400.9 429.0h.6M408.4 415.0h.6M403.9 415.8h.6M400.8 440.6h.6M401.5 431.7h.6M398.8 434.3h.6M401.4 424.6h.6M402.5 434.5h.6M401.4 434.2h.6M406.4 440.2h.6M399.6 430.8h.6M406.1 439.8h.6M404.7 435.4h.6M398.0 428.1h.6M408.3 428.5h.6M409.5 425.6h.6M400.9 421.5h.6M405.5 432.3h.6M409.8 431.1h.6M401.2 422.6h.6M403.7 436.8h.6M406.6 438.1h.6M405.9 430.3h.6M405.3 431.8h.6M400.4 440.2h.6M401.9 432.0h.6M405.0 433.0h.6M402.9 424.1h.6M410.3 429.2h.6M403.3 424.1h.6M403.5 428.0h.6M407.2 435.5h.6M400.9 431.1h.6M403.4 432.3h.6M406.8 425.2h.6M411.0 424.0h.6M398.8 435.5h.6M399.8 439.1h.6M403.8 428.1h.6M405.5 431.0h.6M400.0 428.3h.6M409.4 430.8h.6M403.1 424.2h.6M410.3 433.5h.6M401.9 430.7h.6M402.2 439.0h.6M405.4 425.9h.6M401.3 428.0h.6M405.4 440.4h.6M407.4 435.5h.6M405.1 433.7h.6M399.3 433.8h.6M398.8 424.2h.6M402.2 432.0h.6M402.7 429.0h.6M400.1 432.6h.6M399.6 422.7h.6M404.8 439.8h.6M401.0 424.7h.6M409.2 440.3h.6M405.7 432.4h.6M405.5 430.3h.6M399.7 438.4h.6M404.2 422.9h.6M402.9 429.3h.6M411.9 439.3h.6M403.3 429.3h.6M405.7 432.0h.6M405.0 428.9h.6M397.9 419.0h.6M397.0 421.1h.6M403.5 434.6h.6M408.8 431.4h.6M411.6 440.0h.6M402.1 427.2h.6M403.4 427.5h.6M401.6 431.0h.6M403.0 418.2h.6M403.4 430.8h.6M404.8 424.4h.6M404.0 424.2h.6M399.2 425.8h.6M403.3 428.6h.6M407.4 433.0h.6M403.2 437.1h.6M408.7 430.7h.6M409.5 431.9h.6M403.7 424.5h.6M407.5 436.7h.6M405.0 437.1h.6M411.6 440.3h.6M402.6 433.3h.6M400.7 419.3h.6M403.8 428.6h.6M401.9 435.1h.6M402.9 427.5h.6M394.6 421.4h.6M403.1 430.3h.6M404.8 432.2h.6M400.5 423.5h.6M399.5 430.6h.6M400.1 436.2h.6M397.3 420.6h.6M401.0 420.2h.6M407.7 424.2h.6M402.8 429.5h.6M399.0 420.5h.6M397.9 437.2h.6M408.4 440.4h.6M401.9 426.6h.6M403.0 436.5h.6M402.9 433.5h.6M395.4 438.3h.6M397.3 419.9h.6M402.0 419.3h.6M408.6 429.9h.6M403.5 435.7h.6M402.7 431.7h.6M405.8 440.1h.6M401.8 440.2h.6M406.7 423.4h.6M401.6 430.6h.6M403.8 426.1h.6M400.4 427.1h.6M394.4 428.5h.6M406.2 437.1h.6M399.9 425.2h.6M406.0 428.2h.6M406.8 425.6h.6M404.5 430.3h.6M404.5 435.8h.6M403.6 430.4h.6M404.2 440.1h.6M405.6 436.7h.6M400.0 422.6h.6M401.6 420.8h.6M403.9 435.7h.6M408.4 431.9h.6M404.5 435.5h.6M407.5 428.4h.6M398.5 426.7h.6M398.3 426.1h.6M403.1 433.2h.6M403.8 431.4h.6M402.4 433.8h.6M406.7 435.3h.6M407.8 428.5h.6M403.3 440.5h.6M407.3 431.1h.6M395.2 436.6h.6M393.2 434.1h.6M416.6 437.7h.6M398.1 440.6h.6M403.1 420.4h.6M406.6 411.7h.6M398.3 420.5h.6M406.2 426.7h.6M404.5 423.2h.6M395.5 416.8h.6M398.9 422.1h.6M404.4 430.2h.6M408.1 424.8h.6M395.4 417.4h.6M403.0 430.5h.6M414.8 426.6h.6M416.5 440.4h.6M400.5 421.8h.6M401.9 419.5h.6M398.4 436.8h.6M406.5 431.1h.6M402.1 419.0h.6M396.0 439.8h.6M403.8 433.3h.6M404.9 436.3h.6M397.8 438.6h.6M389.9 432.7h.6M411.8 430.0h.6M403.3 420.4h.6M409.1 427.8h.6M408.6 433.3h.6M400.6 422.9h.6M408.7 433.6h.6M405.3 433.0h.6M399.3 429.3h.6M408.2 429.9h.6M388.0 434.1h.6M399.5 426.1h.6M406.6 440.3h.6M410.0 406.6h.6M403.3 423.0h.6M408.6 421.5h.6M403.3 433.0h.6M404.0 421.4h.6M407.0 430.1h.6M407.4 420.9h.6M401.0 423.2h.6M397.1 430.5h.6M407.1 440.5h.6M400.6 431.2h.6M409.1 424.6h.6M402.6 428.2h.6M395.9 418.1h.6M409.4 427.4h.6M399.4 414.9h.6M404.8 438.4h.6M393.1 419.5h.6M411.6 439.8h.6M410.9 419.8h.6M404.5 419.0h.6M404.7 422.8h.6M405.6 439.9h.6M403.7 424.3h.6M402.8 429.5h.6M399.1 429.6h.6M408.5 440.3h.6M407.4 422.2h.6M401.3 425.7h.6M406.0 423.9h.6M394.7 430.0h.6M408.4 422.1h.6M410.8 424.7h.6M407.8 440.5h.6M409.1 425.7h.6M408.8 440.4h.6M398.0 432.8h.6M401.0 425.3h.6M400.1 431.6h.6M402.0 426.8h.6M397.3 422.9h.6M394.7 432.0h.6M400.3 421.9h.6M403.1 431.9h.6M405.3 425.0h.6M408.7 435.2h.6M388.6 419.0h.6M406.8 428.7h.6M408.2 437.6h.6M396.3 431.1h.6M407.6 416.4h.6M408.9 406.2h.6M404.3 440.4h.6M416.7 431.6h.6M403.2 428.0h.6M402.1 435.1h.6M413.9 420.7h.6M396.1 434.0h.6M406.2 411.3h.6M395.9 418.1h.6M406.4 431.3h.6M395.4 416.9h.6M402.8 406.2h.6M405.8 424.8h.6M415.8 434.5h.6M397.9 425.0h.6M399.0 420.2h.6M404.2 436.3h.6M392.1 426.5h.6M412.7 432.5h.6M395.5 420.1h.6M393.9 412.4h.6M409.4 426.4h.6M395.1 413.9h.6M398.7 422.5h.6M412.1 420.6h.6M404.6 437.3h.6M405.9 424.5h.6M390.6 440.1h.6" stroke="#2020ff" stroke-width="0.6" opacity="0.55" fill="none"/>
<line x1="389" y1="440.40000000000003" x2="417.5" y2="440.40000000000003" stroke="#2a2ae0" stroke-width="0.7" opacity="0.5"/>
</g>
<rect x="357.6" y="393.0" width="66.3" height="58.5" fill="none" stroke="#000" stroke-width="1.5"/>
<text x="452.60" y="293.40" font-size="8.6" text-anchor="middle" font-weight="normal" fill="#111" stroke="#111" stroke-width="0.2" >Lucif shRNA</text>
<text x="452.60" y="304.40" font-size="8.6" text-anchor="middle" font-weight="normal" fill="#111" stroke="#111" stroke-width="0.2" >+ GFP</text>
<text x="459.00" y="361.10" font-size="8.6" text-anchor="middle" font-weight="normal" fill="#111" stroke="#111" stroke-width="0.2" >p19<tspan dy="-4.3" dx="0.3" font-size="6.2">INK4d</tspan><tspan dy="4.3" dx="1.5">shRNA</tspan></text>
<text x="458.60" y="371.50" font-size="8.6" text-anchor="middle" font-weight="normal" fill="#111" stroke="#111" stroke-width="0.2" >+ GFP</text>
<text x="459.00" y="425.10" font-size="8.6" text-anchor="middle" font-weight="normal" fill="#111" stroke="#111" stroke-width="0.2" >p19<tspan dy="-4.3" dx="0.3" font-size="6.2">INK4d</tspan><tspan dy="4.3" dx="1.5">shRNA</tspan></text>
<text x="459.00" y="435.40" font-size="8.6" text-anchor="middle" font-weight="normal" fill="#111" stroke="#111" stroke-width="0.2" >+ GATA1-GFP</text>
<text transform="translate(349.50,436.50) rotate(-90)" font-size="11.4" text-anchor="middle" fill="#111" stroke="#111" stroke-width="0.12" textLength="48.7" lengthAdjust="spacingAndGlyphs">α4-integrin</text>
<line x1="346.60" y1="401.50" x2="346.60" y2="375.20" stroke="#111" stroke-width="1.6" />
<path d="M343.0 378.4 L346.6 370.4 L350.2 378.4 L346.6 376.2 Z" fill="#111"/>
<text x="353.5" y="479.2" font-size="11.4" textLength="30.0" lengthAdjust="spacingAndGlyphs" fill="#111">Band 3</text>
<line x1="394.30" y1="475.70" x2="419.10" y2="475.70" stroke="#111" stroke-width="1.6" />
<path d="M415.9 472.1 L423.9 475.7 L415.9 479.3 L418.1 475.7 Z" fill="#111"/>
<linearGradient id="g9" x1="0" x2="1" y1="0" y2="0"><stop offset="0" stop-color="#adadad"/><stop offset="0.3" stop-color="#c2c2c2"/><stop offset="0.6" stop-color="#cacaca"/><stop offset="1" stop-color="#b0b0b0"/></linearGradient>
<clipPath id="cg9"><rect x="59.6" y="580.2" width="149.2" height="25.8"/></clipPath>
<rect x="59.60" y="580.20" width="149.20" height="25.80" fill="url(#g9)" />
<g clip-path="url(#cg9)">
<path d="M68.2 596.80 L69.2 593.47 L70.2 591.80 L71.2 590.55 L72.3 589.61 L73.3 588.93 L74.3 588.45 L75.3 588.09 L76.3 587.82 L77.3 587.61 L78.4 587.47 L79.4 587.40 L80.4 587.39 L81.4 587.41 L82.4 587.44 L83.4 587.48 L84.5 587.54 L85.5 587.61 L86.5 587.71 L87.5 587.84 L88.5 587.99 L89.5 588.15 L90.6 588.32 L91.6 588.50 L92.6 588.70 L93.6 588.92 L94.6 589.19 L95.6 589.49 L96.7 589.83 L97.7 590.20 L98.7 590.60 L99.7 591.07 L100.7 591.62 L101.7 592.26 L102.8 593.01 L103.8 593.90 L104.8 595.02 L105.8 597.40 L105.8 597.40 L104.8 598.69 L103.8 598.74 L102.8 598.55 L101.7 598.26 L100.7 597.94 L99.7 597.62 L98.7 597.32 L97.7 597.05 L96.7 596.79 L95.6 596.55 L94.6 596.33 L93.6 596.14 L92.6 595.99 L91.6 595.86 L90.6 595.74 L89.5 595.63 L88.5 595.52 L87.5 595.42 L86.5 595.33 L85.5 595.27 L84.5 595.23 L83.4 595.20 L82.4 595.19 L81.4 595.17 L80.4 595.17 L79.4 595.19 L78.4 595.26 L77.3 595.39 L76.3 595.57 L75.3 595.80 L74.3 596.05 L73.3 596.37 L72.3 596.77 L71.2 597.26 L70.2 597.75 L69.2 598.05 L68.2 596.80Z" fill="#070707" stroke="#070707" stroke-width="2.6" stroke-linejoin="round" opacity="0.33" filter="url(#b2)"/>
<path d="M68.2 596.80 L69.2 593.47 L70.2 591.80 L71.2 590.55 L72.3 589.61 L73.3 588.93 L74.3 588.45 L75.3 588.09 L76.3 587.82 L77.3 587.61 L78.4 587.47 L79.4 587.40 L80.4 587.39 L81.4 587.41 L82.4 587.44 L83.4 587.48 L84.5 587.54 L85.5 587.61 L86.5 587.71 L87.5 587.84 L88.5 587.99 L89.5 588.15 L90.6 588.32 L91.6 588.50 L92.6 588.70 L93.6 588.92 L94.6 589.19 L95.6 589.49 L96.7 589.83 L97.7 590.20 L98.7 590.60 L99.7 591.07 L100.7 591.62 L101.7 592.26 L102.8 593.01 L103.8 593.90 L104.8 595.02 L105.8 597.40 L105.8 597.40 L104.8 598.69 L103.8 598.74 L102.8 598.55 L101.7 598.26 L100.7 597.94 L99.7 597.62 L98.7 597.32 L97.7 597.05 L96.7 596.79 L95.6 596.55 L94.6 596.33 L93.6 596.14 L92.6 595.99 L91.6 595.86 L90.6 595.74 L89.5 595.63 L88.5 595.52 L87.5 595.42 L86.5 595.33 L85.5 595.27 L84.5 595.23 L83.4 595.20 L82.4 595.19 L81.4 595.17 L80.4 595.17 L79.4 595.19 L78.4 595.26 L77.3 595.39 L76.3 595.57 L75.3 595.80 L74.3 596.05 L73.3 596.37 L72.3 596.77 L71.2 597.26 L70.2 597.75 L69.2 598.05 L68.2 596.80Z" fill="#070707" stroke="#070707" stroke-width="0.5" stroke-linejoin="round" opacity="1.00" filter="url(#b15)"/>
<path d="M115.5 597.50 L116.5 595.74 L117.5 594.76 L118.5 593.93 L119.6 593.20 L120.6 592.57 L121.6 592.05 L122.6 591.65 L123.6 591.37 L124.6 591.18 L125.7 591.03 L126.7 590.90 L127.7 590.78 L128.7 590.68 L129.7 590.60 L130.7 590.56 L131.8 590.57 L132.8 590.63 L133.8 590.72 L134.8 590.83 L135.8 590.95 L136.8 591.08 L137.8 591.23 L138.9 591.43 L139.9 591.72 L140.9 592.11 L141.9 592.59 L142.9 593.16 L143.9 593.78 L145.0 594.46 L146.0 595.21 L147.0 596.12 L148.0 597.80 L148.0 597.80 L147.0 598.41 L146.0 598.25 L145.0 597.95 L143.9 597.56 L142.9 597.14 L141.9 596.71 L140.9 596.31 L139.9 595.98 L138.9 595.74 L137.8 595.57 L136.8 595.44 L135.8 595.32 L134.8 595.22 L133.8 595.12 L132.8 595.03 L131.8 594.97 L130.7 594.96 L129.7 594.99 L128.7 595.07 L127.7 595.16 L126.7 595.26 L125.7 595.37 L124.6 595.49 L123.6 595.64 L122.6 595.86 L121.6 596.16 L120.6 596.55 L119.6 596.99 L118.5 597.42 L117.5 597.80 L116.5 598.04 L115.5 597.50Z" fill="#070707" stroke="#070707" stroke-width="2.6" stroke-linejoin="round" opacity="0.07" filter="url(#b2)"/>
<path d="M115.5 597.50 L116.5 595.74 L117.5 594.76 L118.5 593.93 L119.6 593.20 L120.6 592.57 L121.6 592.05 L122.6 591.65 L123.6 591.37 L124.6 591.18 L125.7 591.03 L126.7 590.90 L127.7 590.78 L128.7 590.68 L129.7 590.60 L130.7 590.56 L131.8 590.57 L132.8 590.63 L133.8 590.72 L134.8 590.83 L135.8 590.95 L136.8 591.08 L137.8 591.23 L138.9 591.43 L139.9 591.72 L140.9 592.11 L141.9 592.59 L142.9 593.16 L143.9 593.78 L145.0 594.46 L146.0 595.21 L147.0 596.12 L148.0 597.80 L148.0 597.80 L147.0 598.41 L146.0 598.25 L145.0 597.95 L143.9 597.56 L142.9 597.14 L141.9 596.71 L140.9 596.31 L139.9 595.98 L138.9 595.74 L137.8 595.57 L136.8 595.44 L135.8 595.32 L134.8 595.22 L133.8 595.12 L132.8 595.03 L131.8 594.97 L130.7 594.96 L129.7 594.99 L128.7 595.07 L127.7 595.16 L126.7 595.26 L125.7 595.37 L124.6 595.49 L123.6 595.64 L122.6 595.86 L121.6 596.16 L120.6 596.55 L119.6 596.99 L118.5 597.42 L117.5 597.80 L116.5 598.04 L115.5 597.50Z" fill="#070707" stroke="#070707" stroke-width="0.5" stroke-linejoin="round" opacity="0.20" filter="url(#b2)"/>
<path d="M163.2 599.00 L164.2 595.37 L165.2 593.48 L166.2 592.02 L167.3 590.88 L168.3 590.01 L169.3 589.35 L170.3 588.83 L171.3 588.43 L172.3 588.17 L173.4 588.06 L174.4 588.08 L175.4 588.18 L176.4 588.32 L177.4 588.47 L178.4 588.62 L179.5 588.77 L180.5 588.89 L181.5 588.99 L182.5 589.03 L183.5 589.00 L184.5 588.93 L185.5 588.82 L186.6 588.69 L187.6 588.56 L188.6 588.42 L189.6 588.28 L190.6 588.17 L191.6 588.10 L192.7 588.11 L193.7 588.23 L194.7 588.47 L195.7 588.83 L196.7 589.33 L197.7 590.03 L198.8 590.98 L199.8 592.23 L200.8 593.89 L201.8 597.20 L201.8 597.20 L200.8 598.33 L199.8 597.90 L198.8 597.27 L197.7 596.65 L196.7 596.12 L195.7 595.68 L194.7 595.33 L193.7 595.07 L192.7 594.91 L191.6 594.86 L190.6 594.89 L189.6 594.97 L188.6 595.07 L187.6 595.19 L186.6 595.30 L185.5 595.42 L184.5 595.52 L183.5 595.60 L182.5 595.63 L181.5 595.60 L180.5 595.53 L179.5 595.43 L178.4 595.32 L177.4 595.21 L176.4 595.10 L175.4 595.02 L174.4 594.97 L173.4 595.02 L172.3 595.19 L171.3 595.50 L170.3 595.94 L169.3 596.47 L168.3 597.08 L167.3 597.80 L166.2 598.60 L165.2 599.42 L164.2 600.03 L163.2 599.00Z" fill="#070707" stroke="#070707" stroke-width="2.6" stroke-linejoin="round" opacity="0.33" filter="url(#b2)"/>
<path d="M163.2 599.00 L164.2 595.37 L165.2 593.48 L166.2 592.02 L167.3 590.88 L168.3 590.01 L169.3 589.35 L170.3 588.83 L171.3 588.43 L172.3 588.17 L173.4 588.06 L174.4 588.08 L175.4 588.18 L176.4 588.32 L177.4 588.47 L178.4 588.62 L179.5 588.77 L180.5 588.89 L181.5 588.99 L182.5 589.03 L183.5 589.00 L184.5 588.93 L185.5 588.82 L186.6 588.69 L187.6 588.56 L188.6 588.42 L189.6 588.28 L190.6 588.17 L191.6 588.10 L192.7 588.11 L193.7 588.23 L194.7 588.47 L195.7 588.83 L196.7 589.33 L197.7 590.03 L198.8 590.98 L199.8 592.23 L200.8 593.89 L201.8 597.20 L201.8 597.20 L200.8 598.33 L199.8 597.90 L198.8 597.27 L197.7 596.65 L196.7 596.12 L195.7 595.68 L194.7 595.33 L193.7 595.07 L192.7 594.91 L191.6 594.86 L190.6 594.89 L189.6 594.97 L188.6 595.07 L187.6 595.19 L186.6 595.30 L185.5 595.42 L184.5 595.52 L183.5 595.60 L182.5 595.63 L181.5 595.60 L180.5 595.53 L179.5 595.43 L178.4 595.32 L177.4 595.21 L176.4 595.10 L175.4 595.02 L174.4 594.97 L173.4 595.02 L172.3 595.19 L171.3 595.50 L170.3 595.94 L169.3 596.47 L168.3 597.08 L167.3 597.80 L166.2 598.60 L165.2 599.42 L164.2 600.03 L163.2 599.00Z" fill="#070707" stroke="#070707" stroke-width="0.5" stroke-linejoin="round" opacity="1.00" filter="url(#b15)"/>
</g>
<rect x="59.6" y="580.2" width="149.2" height="25.8" fill="none" stroke="#101010" stroke-width="1.6"/>
<linearGradient id="g10" x1="0" x2="1" y1="0" y2="0"><stop offset="0" stop-color="#bbbbbb"/><stop offset="0.5" stop-color="#c8c8c8"/><stop offset="1" stop-color="#bebebe"/></linearGradient>
<clipPath id="cg10"><rect x="59.6" y="613.4" width="149.2" height="23.2"/></clipPath>
<rect x="59.60" y="613.40" width="149.20" height="23.20" fill="url(#g10)" />
<g clip-path="url(#cg10)">
<path d="M65.8 625.40 L66.8 623.27 L67.8 622.64 L68.8 622.27 L69.8 622.06 L70.8 621.94 L71.8 621.87 L72.8 621.85 L73.8 621.85 L74.8 621.86 L75.8 621.89 L76.8 621.93 L77.8 621.96 L78.8 621.99 L79.8 622.02 L80.8 622.05 L81.8 622.07 L82.8 622.08 L83.8 622.09 L84.8 622.10 L85.8 622.10 L86.8 622.09 L87.8 622.08 L88.8 622.07 L89.8 622.05 L90.8 622.02 L91.8 621.99 L92.8 621.96 L93.8 621.93 L94.8 621.89 L95.8 621.86 L96.8 621.85 L97.8 621.85 L98.8 621.87 L99.8 621.94 L100.8 622.06 L101.8 622.27 L102.8 622.64 L103.8 623.27 L104.8 625.40 L104.8 625.40 L103.8 627.77 L102.8 628.63 L101.8 629.21 L100.8 629.62 L99.8 629.94 L98.8 630.18 L97.8 630.37 L96.8 630.52 L95.8 630.64 L94.8 630.74 L93.8 630.82 L92.8 630.89 L91.8 630.94 L90.8 630.99 L89.8 631.03 L88.8 631.05 L87.8 631.08 L86.8 631.09 L85.8 631.10 L84.8 631.10 L83.8 631.09 L82.8 631.08 L81.8 631.05 L80.8 631.03 L79.8 630.99 L78.8 630.94 L77.8 630.89 L76.8 630.82 L75.8 630.74 L74.8 630.64 L73.8 630.52 L72.8 630.37 L71.8 630.18 L70.8 629.94 L69.8 629.62 L68.8 629.21 L67.8 628.63 L66.8 627.77 L65.8 625.40Z" fill="#070707" stroke="#070707" stroke-width="2.6" stroke-linejoin="round" opacity="0.33" filter="url(#b2)"/>
<path d="M65.8 625.40 L66.8 623.27 L67.8 622.64 L68.8 622.27 L69.8 622.06 L70.8 621.94 L71.8 621.87 L72.8 621.85 L73.8 621.85 L74.8 621.86 L75.8 621.89 L76.8 621.93 L77.8 621.96 L78.8 621.99 L79.8 622.02 L80.8 622.05 L81.8 622.07 L82.8 622.08 L83.8 622.09 L84.8 622.10 L85.8 622.10 L86.8 622.09 L87.8 622.08 L88.8 622.07 L89.8 622.05 L90.8 622.02 L91.8 621.99 L92.8 621.96 L93.8 621.93 L94.8 621.89 L95.8 621.86 L96.8 621.85 L97.8 621.85 L98.8 621.87 L99.8 621.94 L100.8 622.06 L101.8 622.27 L102.8 622.64 L103.8 623.27 L104.8 625.40 L104.8 625.40 L103.8 627.77 L102.8 628.63 L101.8 629.21 L100.8 629.62 L99.8 629.94 L98.8 630.18 L97.8 630.37 L96.8 630.52 L95.8 630.64 L94.8 630.74 L93.8 630.82 L92.8 630.89 L91.8 630.94 L90.8 630.99 L89.8 631.03 L88.8 631.05 L87.8 631.08 L86.8 631.09 L85.8 631.10 L84.8 631.10 L83.8 631.09 L82.8 631.08 L81.8 631.05 L80.8 631.03 L79.8 630.99 L78.8 630.94 L77.8 630.89 L76.8 630.82 L75.8 630.74 L74.8 630.64 L73.8 630.52 L72.8 630.37 L71.8 630.18 L70.8 629.94 L69.8 629.62 L68.8 629.21 L67.8 628.63 L66.8 627.77 L65.8 625.40Z" fill="#070707" stroke="#070707" stroke-width="0.5" stroke-linejoin="round" opacity="1.00" filter="url(#b1)"/>
<path d="M113.2 625.80 L114.2 623.61 L115.3 622.95 L116.3 622.57 L117.3 622.34 L118.3 622.20 L119.4 622.13 L120.4 622.09 L121.4 622.08 L122.5 622.08 L123.5 622.10 L124.5 622.12 L125.5 622.14 L126.6 622.15 L127.6 622.17 L128.6 622.18 L129.6 622.19 L130.7 622.20 L131.7 622.20 L132.7 622.20 L133.8 622.19 L134.8 622.18 L135.8 622.17 L136.8 622.15 L137.9 622.14 L138.9 622.12 L139.9 622.10 L140.9 622.08 L142.0 622.08 L143.0 622.09 L144.0 622.13 L145.1 622.20 L146.1 622.34 L147.1 622.57 L148.1 622.95 L149.2 623.61 L150.2 625.80 L150.2 625.80 L149.2 628.16 L148.1 628.99 L147.1 629.52 L146.1 629.89 L145.1 630.16 L144.0 630.36 L143.0 630.51 L142.0 630.63 L140.9 630.72 L139.9 630.79 L138.9 630.84 L137.9 630.89 L136.8 630.92 L135.8 630.95 L134.8 630.97 L133.8 630.99 L132.7 631.00 L131.7 631.00 L130.7 631.00 L129.6 630.99 L128.6 630.97 L127.6 630.95 L126.6 630.92 L125.5 630.89 L124.5 630.84 L123.5 630.79 L122.5 630.72 L121.4 630.63 L120.4 630.51 L119.4 630.36 L118.3 630.16 L117.3 629.89 L116.3 629.52 L115.3 628.99 L114.2 628.16 L113.2 625.80Z" fill="#070707" stroke="#070707" stroke-width="2.6" stroke-linejoin="round" opacity="0.33" filter="url(#b2)"/>
<path d="M113.2 625.80 L114.2 623.61 L115.3 622.95 L116.3 622.57 L117.3 622.34 L118.3 622.20 L119.4 622.13 L120.4 622.09 L121.4 622.08 L122.5 622.08 L123.5 622.10 L124.5 622.12 L125.5 622.14 L126.6 622.15 L127.6 622.17 L128.6 622.18 L129.6 622.19 L130.7 622.20 L131.7 622.20 L132.7 622.20 L133.8 622.19 L134.8 622.18 L135.8 622.17 L136.8 622.15 L137.9 622.14 L138.9 622.12 L139.9 622.10 L140.9 622.08 L142.0 622.08 L143.0 622.09 L144.0 622.13 L145.1 622.20 L146.1 622.34 L147.1 622.57 L148.1 622.95 L149.2 623.61 L150.2 625.80 L150.2 625.80 L149.2 628.16 L148.1 628.99 L147.1 629.52 L146.1 629.89 L145.1 630.16 L144.0 630.36 L143.0 630.51 L142.0 630.63 L140.9 630.72 L139.9 630.79 L138.9 630.84 L137.9 630.89 L136.8 630.92 L135.8 630.95 L134.8 630.97 L133.8 630.99 L132.7 631.00 L131.7 631.00 L130.7 631.00 L129.6 630.99 L128.6 630.97 L127.6 630.95 L126.6 630.92 L125.5 630.89 L124.5 630.84 L123.5 630.79 L122.5 630.72 L121.4 630.63 L120.4 630.51 L119.4 630.36 L118.3 630.16 L117.3 629.89 L116.3 629.52 L115.3 628.99 L114.2 628.16 L113.2 625.80Z" fill="#070707" stroke="#070707" stroke-width="0.5" stroke-linejoin="round" opacity="1.00" filter="url(#b1)"/>
<path d="M162.8 627.00 L163.8 624.83 L164.8 624.10 L165.9 623.63 L166.9 623.31 L167.9 623.08 L168.9 622.91 L169.9 622.79 L171.0 622.69 L172.0 622.61 L173.0 622.55 L174.0 622.49 L175.0 622.44 L176.1 622.39 L177.1 622.34 L178.1 622.28 L179.1 622.23 L180.1 622.18 L181.2 622.12 L182.2 622.06 L183.2 622.00 L184.2 621.94 L185.2 621.87 L186.3 621.80 L187.3 621.73 L188.3 621.66 L189.3 621.59 L190.3 621.51 L191.4 621.44 L192.4 621.36 L193.4 621.30 L194.4 621.24 L195.4 621.19 L196.5 621.17 L197.5 621.17 L198.5 621.22 L199.5 621.32 L200.5 621.53 L201.6 621.87 L202.6 622.50 L203.6 624.60 L203.6 624.60 L202.6 626.94 L201.6 627.79 L200.5 628.37 L199.5 628.79 L198.5 629.11 L197.5 629.36 L196.5 629.57 L195.4 629.74 L194.4 629.88 L193.4 630.00 L192.4 630.11 L191.4 630.21 L190.3 630.30 L189.3 630.39 L188.3 630.47 L187.3 630.54 L186.3 630.61 L185.2 630.68 L184.2 630.74 L183.2 630.80 L182.2 630.86 L181.2 630.91 L180.1 630.96 L179.1 631.00 L178.1 631.04 L177.1 631.08 L176.1 631.11 L175.0 631.13 L174.0 631.15 L173.0 631.15 L172.0 631.15 L171.0 631.12 L169.9 631.07 L168.9 630.98 L167.9 630.84 L166.9 630.64 L165.9 630.34 L164.8 629.89 L163.8 629.17 L162.8 627.00Z" fill="#070707" stroke="#070707" stroke-width="2.6" stroke-linejoin="round" opacity="0.33" filter="url(#b2)"/>
<path d="M162.8 627.00 L163.8 624.83 L164.8 624.10 L165.9 623.63 L166.9 623.31 L167.9 623.08 L168.9 622.91 L169.9 622.79 L171.0 622.69 L172.0 622.61 L173.0 622.55 L174.0 622.49 L175.0 622.44 L176.1 622.39 L177.1 622.34 L178.1 622.28 L179.1 622.23 L180.1 622.18 L181.2 622.12 L182.2 622.06 L183.2 622.00 L184.2 621.94 L185.2 621.87 L186.3 621.80 L187.3 621.73 L188.3 621.66 L189.3 621.59 L190.3 621.51 L191.4 621.44 L192.4 621.36 L193.4 621.30 L194.4 621.24 L195.4 621.19 L196.5 621.17 L197.5 621.17 L198.5 621.22 L199.5 621.32 L200.5 621.53 L201.6 621.87 L202.6 622.50 L203.6 624.60 L203.6 624.60 L202.6 626.94 L201.6 627.79 L200.5 628.37 L199.5 628.79 L198.5 629.11 L197.5 629.36 L196.5 629.57 L195.4 629.74 L194.4 629.88 L193.4 630.00 L192.4 630.11 L191.4 630.21 L190.3 630.30 L189.3 630.39 L188.3 630.47 L187.3 630.54 L186.3 630.61 L185.2 630.68 L184.2 630.74 L183.2 630.80 L182.2 630.86 L181.2 630.91 L180.1 630.96 L179.1 631.00 L178.1 631.04 L177.1 631.08 L176.1 631.11 L175.0 631.13 L174.0 631.15 L173.0 631.15 L172.0 631.15 L171.0 631.12 L169.9 631.07 L168.9 630.98 L167.9 630.84 L166.9 630.64 L165.9 630.34 L164.8 629.89 L163.8 629.17 L162.8 627.00Z" fill="#070707" stroke="#070707" stroke-width="0.5" stroke-linejoin="round" opacity="1.00" filter="url(#b1)"/>
</g>
<rect x="59.6" y="613.4" width="149.2" height="23.2" fill="none" stroke="#101010" stroke-width="1.6"/>
<text x="54.20" y="597.20" font-size="8.6" text-anchor="end" font-weight="normal" fill="#111" stroke="#111" stroke-width="0.2" >GATA1</text>
<text x="54.20" y="628.00" font-size="8.6" text-anchor="end" font-weight="normal" fill="#111" stroke="#111" stroke-width="0.2" >GAPDH</text>
<text x="75.40" y="556.60" font-size="8.6" text-anchor="middle" font-weight="normal" fill="#111" stroke="#111" stroke-width="0.2" >Lucif</text>
<text x="75.40" y="566.90" font-size="8.6" text-anchor="middle" font-weight="normal" fill="#111" stroke="#111" stroke-width="0.2" >shRNA</text>
<text x="75.40" y="577.20" font-size="8.6" text-anchor="middle" font-weight="normal" fill="#111" stroke="#111" stroke-width="0.2" >+ GFP</text>
<text x="132.40" y="556.80" font-size="8.6" text-anchor="middle" font-weight="normal" fill="#111" stroke="#111" stroke-width="0.2" >p19<tspan dy="-4.3" dx="0.3" font-size="6.2">INK4d</tspan></text>
<text x="132.60" y="566.20" font-size="8.6" text-anchor="middle" font-weight="normal" fill="#111" stroke="#111" stroke-width="0.2" >shRNA</text>
<text x="132.60" y="577.20" font-size="8.6" text-anchor="middle" font-weight="normal" fill="#111" stroke="#111" stroke-width="0.2" >+ GFP</text>
<text x="186.40" y="546.80" font-size="8.6" text-anchor="middle" font-weight="normal" fill="#111" stroke="#111" stroke-width="0.2" >p19<tspan dy="-4.3" dx="0.3" font-size="6.2">INK4d</tspan></text>
<text x="187.40" y="556.60" font-size="8.6" text-anchor="middle" font-weight="normal" fill="#111" stroke="#111" stroke-width="0.2" >shRNA</text>
<text x="187.40" y="566.90" font-size="8.6" text-anchor="middle" font-weight="normal" fill="#111" stroke="#111" stroke-width="0.2" >+ GATA1</text>
<text x="188.00" y="577.20" font-size="8.6" text-anchor="middle" font-weight="normal" fill="#111" stroke="#111" stroke-width="0.2" >-GFP</text>
<rect x="270.40" y="515.40" width="14.20" height="6.80" fill="#c80412" />
<text x="289.60" y="521.80" font-size="8.72" text-anchor="start" font-weight="normal" fill="#111" stroke="#111" stroke-width="0.2" >Lucif shRNA + GFP</text>
<rect x="270.40" y="531.60" width="14.20" height="6.80" fill="#0e288c" />
<text x="289.60" y="538.00" font-size="8.72" text-anchor="start" font-weight="normal" fill="#111" stroke="#111" stroke-width="0.2" >p19<tspan dy="-4.8" dx="0.3" font-size="6.2">INK4d</tspan><tspan dy="4.8" dx="1.5">shRNA + GFP</tspan></text>
<rect x="270.40" y="548.00" width="14.20" height="6.80" fill="#5af02e" />
<text x="289.60" y="554.40" font-size="8.72" text-anchor="start" font-weight="normal" fill="#111" stroke="#111" stroke-width="0.2" >p19<tspan dy="-4.8" dx="0.3" font-size="6.2">INK4d</tspan><tspan dy="4.8" dx="1.5">shRNA + GATA1-GFP</tspan></text>
<rect x="269.20" y="578.06" width="25.80" height="80.94" fill="#c80412" />
<line x1="319.05" y1="639.33" x2="319.05" y2="635.31" stroke="#111" stroke-width="1.3" />
<line x1="311.85" y1="635.31" x2="326.25" y2="635.31" stroke="#111" stroke-width="1.3" />
<rect x="306.50" y="639.33" width="25.10" height="19.67" fill="#0e288c" />
<line x1="355.80" y1="578.06" x2="355.80" y2="576.93" stroke="#111" stroke-width="1.3" />
<line x1="348.20" y1="576.93" x2="363.40" y2="576.93" stroke="#111" stroke-width="1.3" />
<rect x="343.00" y="578.06" width="25.60" height="80.94" fill="#5af02e" />
<line x1="263.60" y1="536.40" x2="263.60" y2="659.70" stroke="#000" stroke-width="1.5" />
<line x1="262.90" y1="659.00" x2="373.20" y2="659.00" stroke="#000" stroke-width="1.5" />
<line x1="319.20" y1="659.00" x2="319.20" y2="663.00" stroke="#111" stroke-width="1.2" />
<line x1="259.60" y1="659.00" x2="263.60" y2="659.00" stroke="#111" stroke-width="1.2" />
<text x="257.20" y="662.30" font-size="9.1" text-anchor="end" font-weight="normal" fill="#111" stroke="#111" stroke-width="0.2" >0.0</text>
<line x1="259.60" y1="618.85" x2="263.60" y2="618.85" stroke="#111" stroke-width="1.2" />
<text x="257.20" y="622.15" font-size="9.1" text-anchor="end" font-weight="normal" fill="#111" stroke="#111" stroke-width="0.2" >0.5</text>
<line x1="259.60" y1="578.70" x2="263.60" y2="578.70" stroke="#111" stroke-width="1.2" />
<text x="257.20" y="582.00" font-size="9.1" text-anchor="end" font-weight="normal" fill="#111" stroke="#111" stroke-width="0.2" >1.0</text>
<line x1="259.60" y1="538.55" x2="263.60" y2="538.55" stroke="#111" stroke-width="1.2" />
<text x="257.20" y="541.85" font-size="9.1" text-anchor="end" font-weight="normal" fill="#111" stroke="#111" stroke-width="0.2" >1.5</text>
<text transform="translate(239.40,598.60) rotate(-90)" font-size="11.4" text-anchor="middle" fill="#111" stroke="#111" stroke-width="0.12" textLength="96.5" lengthAdjust="spacingAndGlyphs">Relative protein levels</text>
<line x1="278.80" y1="568.00" x2="314.20" y2="568.00" stroke="#111" stroke-width="1.6" />
<line x1="278.80" y1="564.30" x2="278.80" y2="571.80" stroke="#111" stroke-width="1.6" />
<line x1="314.20" y1="564.30" x2="314.20" y2="571.80" stroke="#111" stroke-width="1.6" />
<text x="296.50" y="568.00" font-size="10.4" text-anchor="middle" font-weight="normal" fill="#111" stroke="#111" stroke-width="0.2" stroke-width="0.1">***</text>
<line x1="320.60" y1="568.00" x2="355.20" y2="568.00" stroke="#111" stroke-width="1.6" />
<line x1="320.60" y1="564.30" x2="320.60" y2="571.80" stroke="#111" stroke-width="1.6" />
<line x1="355.20" y1="564.30" x2="355.20" y2="571.80" stroke="#111" stroke-width="1.6" />
<text x="337.90" y="568.00" font-size="10.4" text-anchor="middle" font-weight="normal" fill="#111" stroke="#111" stroke-width="0.2" stroke-width="0.1">***</text>
<rect x="-10" y="-10" width="540" height="11.5" fill="#000"/>
<rect x="-10" y="-10" width="11.4" height="693" fill="#000"/>
<rect x="518.3" y="-10" width="11.7" height="693" fill="#000"/>
<rect x="-10" y="670.5" width="540" height="12.5" fill="#000"/>
</g>
</svg></body></html>
